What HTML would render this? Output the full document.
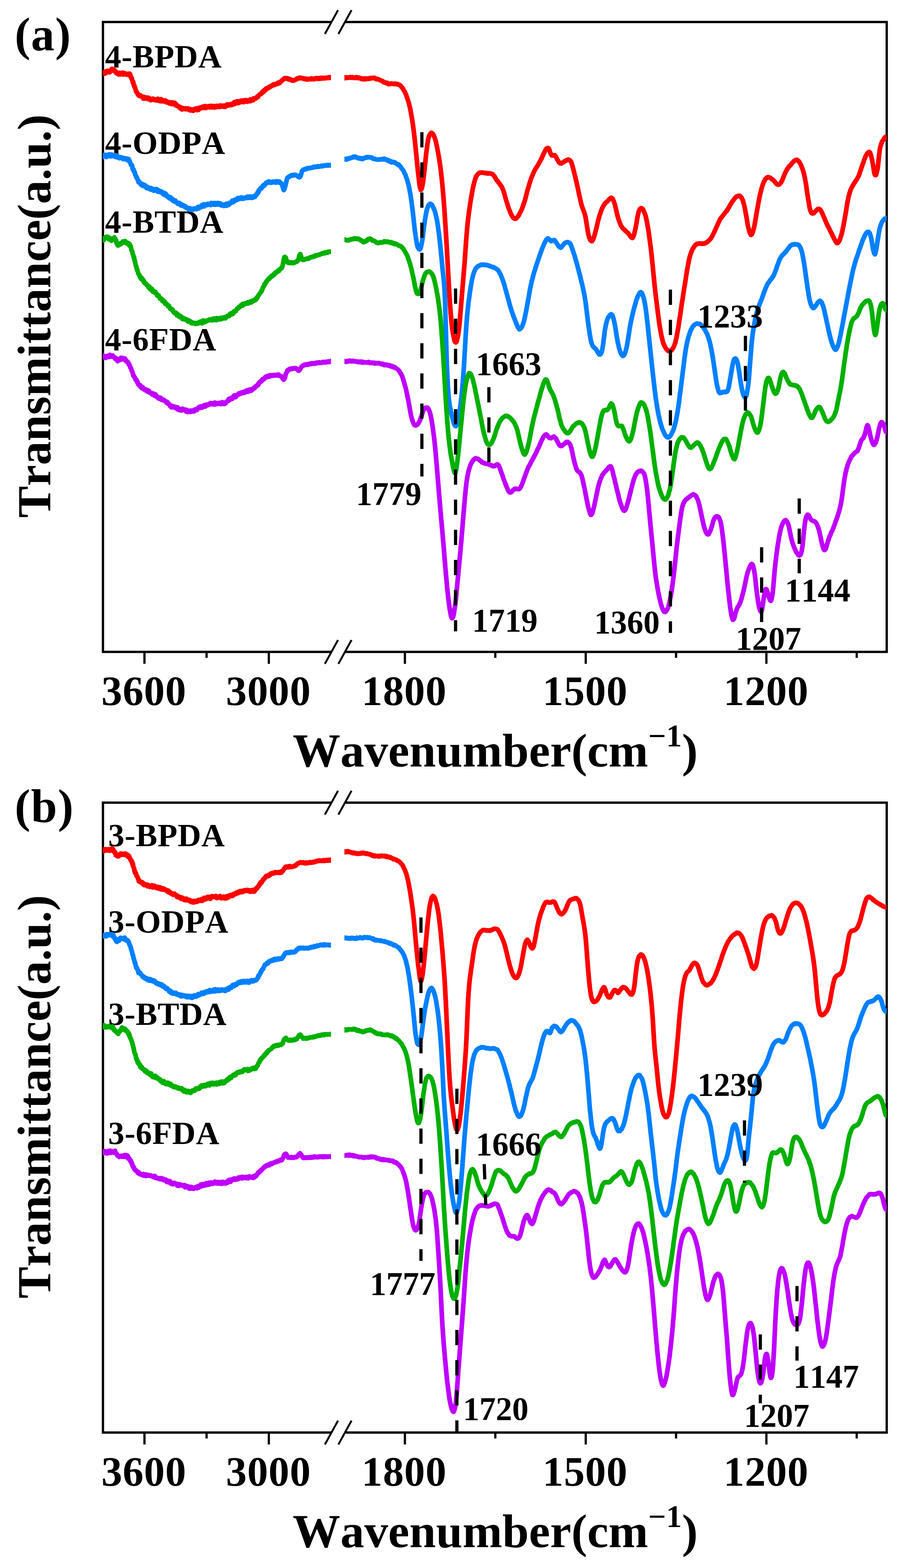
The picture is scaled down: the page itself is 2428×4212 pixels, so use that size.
<!DOCTYPE html>
<html lang="en">
<head>
<meta charset="utf-8">
<title>FTIR spectra</title>
<style>
html,body{margin:0;padding:0;background:#fff;}
body{width:2428px;height:4212px;overflow:hidden;}
svg{display:block;}
svg text{font-family:"Liberation Serif", "DejaVu Serif", serif;font-weight:bold;fill:#000;font-kerning:none;font-variant-ligatures:none;}
.c{fill:none;stroke-linejoin:round;stroke-linecap:butt;}
</style>
</head>
<body>
<svg width="2428" height="4212" viewBox="0 0 2428 4212" role="img" aria-label="FTIR spectra of polyimides, panels (a) and (b)">
<rect width="2428" height="4212" fill="#fff"/>
<g id="panel-a">
<text x="282" y="181" font-size="87" letter-spacing="0.75">4-BPDA</text>
<text x="282" y="412.5" font-size="87" letter-spacing="0.75">4-ODPA</text>
<text x="282" y="624.5" font-size="87" letter-spacing="0.75">4-BTDA</text>
<text x="282" y="941" font-size="87" letter-spacing="0.75">4-6FDA</text>
<path d="M889,59.2 H276.5 V1751.2 H889 M925,1751.2 H2381.6 V59.2 H925" fill="none" stroke="#000" stroke-width="6.2" stroke-linejoin="miter" stroke-linecap="butt"/>
<line x1="872.6" y1="91.2" x2="907.8" y2="27.2" stroke="#000" stroke-width="5.2"/>
<line x1="908.9" y1="91.2" x2="944.1" y2="27.2" stroke="#000" stroke-width="5.2"/>
<line x1="872.6" y1="1783.2" x2="907.8" y2="1719.2" stroke="#000" stroke-width="5.2"/>
<line x1="908.9" y1="1783.2" x2="944.1" y2="1719.2" stroke="#000" stroke-width="5.2"/>
<line x1="388" y1="1751.2" x2="388" y2="1783.2" stroke="#000" stroke-width="6"/>
<line x1="722" y1="1751.2" x2="722" y2="1783.2" stroke="#000" stroke-width="6"/>
<line x1="1087.5" y1="1751.2" x2="1087.5" y2="1783.2" stroke="#000" stroke-width="6"/>
<line x1="1573.2" y1="1751.2" x2="1573.2" y2="1783.2" stroke="#000" stroke-width="6"/>
<line x1="2058.4" y1="1751.2" x2="2058.4" y2="1783.2" stroke="#000" stroke-width="6"/>
<line x1="554.8" y1="1751.2" x2="554.8" y2="1767.2" stroke="#000" stroke-width="6"/>
<line x1="1330.3" y1="1751.2" x2="1330.3" y2="1767.2" stroke="#000" stroke-width="6"/>
<line x1="1815.8" y1="1751.2" x2="1815.8" y2="1767.2" stroke="#000" stroke-width="6"/>
<line x1="2301" y1="1751.2" x2="2301" y2="1767.2" stroke="#000" stroke-width="6"/>
<text x="386.6" y="1893.6" font-size="112" text-anchor="middle" letter-spacing="1.2">3600</text>
<text x="721.1" y="1893.6" font-size="112" text-anchor="middle" letter-spacing="1.2">3000</text>
<text x="1085.6" y="1893.6" font-size="112" text-anchor="middle" letter-spacing="1.2">1800</text>
<text x="1571.6" y="1893.6" font-size="112" text-anchor="middle" letter-spacing="1.2">1500</text>
<text x="2057.6" y="1893.6" font-size="112" text-anchor="middle" letter-spacing="1.2">1200</text>
<text x="786" y="2059" font-size="128" textLength="1088" lengthAdjust="spacing">Wavenumber(cm<tspan font-size="84" dy="-54">−1</tspan><tspan dy="54">)</tspan></text>
<text transform="translate(135,1391) rotate(-90)" font-size="128" textLength="1084" lengthAdjust="spacing">Transmittance(a.u.)</text>
<text x="39.5" y="135" font-size="126" text-anchor="start" letter-spacing="1.8">(a)</text>
<svg x="276" y="40" width="613" height="1730" viewBox="276 40 613 1730" overflow="hidden">
<path class="c" d="M269.0,191.5L270.0,193.9L271.0,195.5L272.0,195.2L273.0,192.7L274.0,196.6L275.0,195.9L276.0,196.1L277.0,196.4L278.0,196.0L279.0,197.5L280.0,193.9L281.0,195.1L282.0,197.8L283.0,192.3L284.0,194.9L285.0,193.5L286.0,193.9L287.0,194.2L288.0,190.3L289.0,191.1L290.0,190.3L291.0,192.0L292.0,191.3L293.0,194.6L294.0,191.0L295.0,194.1L296.0,190.8L297.0,191.6L298.0,190.2L299.0,188.4L300.0,185.0L301.0,185.7L302.0,185.2L303.0,185.5L304.0,187.7L305.0,187.9L306.0,190.2L307.0,190.0L308.0,188.6L309.0,192.3L310.0,191.1L311.0,192.7L312.0,196.4L313.0,194.4L314.0,194.9L315.0,197.1L316.0,197.7L317.0,199.2L318.0,196.3L319.0,200.0L320.0,197.2L321.0,195.6L322.0,196.1L323.0,199.7L324.0,199.2L325.0,199.4L326.0,196.0L327.0,197.1L328.0,195.6L329.0,194.9L330.0,197.6L331.0,200.1L332.0,199.3L333.0,196.3L334.0,199.4L335.0,197.1L336.0,198.2L337.0,199.4L338.0,197.8L339.0,197.7L340.0,200.5L341.0,199.3L342.0,198.6L343.0,200.9L344.0,199.1L345.0,200.2L346.0,197.9L347.0,200.2L348.0,197.8L349.0,200.2L350.0,199.8L351.0,207.2L352.0,207.8L353.0,211.0L354.0,209.9L355.0,215.5L356.0,217.4L357.0,222.2L358.0,220.6L359.0,226.9L360.0,230.9L361.0,230.1L362.0,235.4L363.0,235.8L364.0,240.5L365.0,243.2L366.0,247.2L367.0,247.4L368.0,248.0L369.0,251.0L370.0,251.6L371.0,254.9L372.0,253.4L373.0,257.1L374.0,255.9L375.0,256.7L376.0,258.2L377.0,256.1L378.0,256.5L379.0,258.8L380.0,258.7L381.0,259.8L382.0,259.3L383.0,260.3L384.0,262.6L385.0,264.9L386.0,259.9L387.0,264.9L388.0,263.7L389.0,264.7L390.0,263.8L391.0,262.5L392.0,263.6L393.0,262.8L394.0,261.7L395.0,265.1L396.0,265.9L397.0,264.4L398.0,265.3L399.0,262.6L400.0,266.7L401.0,264.8L402.0,265.1L403.0,266.5L404.0,265.2L405.0,269.3L406.0,268.3L407.0,268.4L408.0,266.9L409.0,265.3L410.0,267.4L411.0,264.9L412.0,266.5L413.0,267.2L414.0,268.7L415.0,267.8L416.0,267.5L417.0,269.1L418.0,267.0L419.0,266.7L420.0,266.4L421.0,270.0L422.0,267.6L423.0,266.6L424.0,265.3L425.0,267.0L426.0,269.2L427.0,269.8L428.0,271.5L429.0,267.7L430.0,270.2L431.0,271.0L432.0,266.2L433.0,272.2L434.0,267.8L435.0,268.1L436.0,271.6L437.0,270.6L438.0,272.5L439.0,271.7L440.0,271.6L441.0,271.1L442.0,270.4L443.0,272.8L444.0,269.6L445.0,272.6L446.0,274.6L447.0,271.7L448.0,275.1L449.0,275.3L450.0,274.6L451.0,274.1L452.0,275.5L453.0,275.8L454.0,274.6L455.0,277.9L456.0,277.8L457.0,277.2L458.0,278.5L459.0,279.2L460.0,274.9L461.0,279.8L462.0,274.9L463.0,277.9L464.0,275.8L465.0,278.9L466.0,278.4L467.0,278.5L468.0,275.8L469.0,280.6L470.0,280.2L471.0,277.6L472.0,283.3L473.0,280.9L474.0,280.9L475.0,283.8L476.0,283.1L477.0,285.2L478.0,284.7L479.0,284.8L480.0,285.3L481.0,288.6L482.0,287.9L483.0,286.9L484.0,288.0L485.0,287.9L486.0,292.7L487.0,291.2L488.0,291.8L489.0,294.1L490.0,290.4L491.0,290.3L492.0,291.7L493.0,292.8L494.0,291.7L495.0,291.6L496.0,292.7L497.0,292.1L498.0,290.9L499.0,293.7L500.0,292.0L501.0,292.2L502.0,293.3L503.0,293.4L504.0,291.0L505.0,292.2L506.0,291.5L507.0,292.4L508.0,295.3L509.0,293.7L510.0,293.1L511.0,293.0L512.0,296.8L513.0,294.0L514.0,295.2L515.0,294.9L516.0,294.2L517.0,296.3L518.0,296.0L519.0,297.8L520.0,296.6L521.0,293.6L522.0,295.0L523.0,294.7L524.0,294.7L525.0,292.5L526.0,291.2L527.0,293.4L528.0,293.7L529.0,291.3L530.0,295.9L531.0,293.5L532.0,291.4L533.0,295.3L534.0,289.7L535.0,289.9L536.0,289.0L537.0,292.1L538.0,289.1L539.0,291.2L540.0,290.0L541.0,288.2L542.0,289.4L543.0,287.0L544.0,289.9L545.0,286.2L546.0,286.2L547.0,288.4L548.0,286.4L549.0,290.2L550.0,289.6L551.0,284.8L552.0,288.0L553.0,287.1L554.0,290.2L555.0,286.4L556.0,286.2L557.0,286.9L558.0,286.9L559.0,285.2L560.0,287.0L561.0,285.8L562.0,285.2L563.0,288.7L564.0,286.4L565.0,284.5L566.0,284.4L567.0,286.2L568.0,284.9L569.0,284.4L570.0,288.6L571.0,286.1L572.0,285.2L573.0,286.1L574.0,285.0L575.0,285.7L576.0,289.0L577.0,285.6L578.0,285.5L579.0,284.9L580.0,288.1L581.0,286.7L582.0,287.9L583.0,284.2L584.0,286.0L585.0,286.4L586.0,287.0L587.0,286.3L588.0,285.3L589.0,287.5L590.0,285.6L591.0,283.2L592.0,283.7L593.0,285.5L594.0,286.2L595.0,283.7L596.0,283.9L597.0,286.2L598.0,285.8L599.0,285.9L600.0,286.6L601.0,285.1L602.0,283.4L603.0,286.5L604.0,286.0L605.0,287.2L606.0,285.2L607.0,284.1L608.0,283.9L609.0,284.0L610.0,280.3L611.0,282.8L612.0,281.9L613.0,283.4L614.0,283.0L615.0,281.9L616.0,281.6L617.0,280.1L618.0,282.4L619.0,280.9L620.0,280.0L621.0,282.5L622.0,281.9L623.0,279.3L624.0,281.8L625.0,280.0L626.0,278.4L627.0,276.9L628.0,276.1L629.0,278.7L630.0,273.9L631.0,279.5L632.0,277.2L633.0,275.0L634.0,277.2L635.0,274.7L636.0,272.3L637.0,273.2L638.0,272.3L639.0,272.2L640.0,277.2L641.0,274.6L642.0,274.1L643.0,275.5L644.0,275.1L645.0,272.9L646.0,271.8L647.0,270.4L648.0,273.9L649.0,272.1L650.0,273.4L651.0,271.9L652.0,269.8L653.0,271.1L654.0,274.4L655.0,271.6L656.0,272.6L657.0,269.3L658.0,270.4L659.0,272.7L660.0,268.9L661.0,272.6L662.0,269.9L663.0,270.1L664.0,273.1L665.0,270.2L666.0,272.4L667.0,269.8L668.0,271.0L669.0,272.1L670.0,271.8L671.0,269.7L672.0,267.1L673.0,271.7L674.0,268.2L675.0,270.4L676.0,267.1L677.0,267.5L678.0,267.6L679.0,267.1L680.0,269.3L681.0,264.1L682.0,265.4L683.0,266.1L684.0,265.4L685.0,264.3L686.0,264.3L687.0,264.8L688.0,262.1L689.0,261.4L690.0,261.2L691.0,261.6L692.0,258.2L693.0,260.9L694.0,257.3L695.0,256.3L696.0,255.7L697.0,253.9L698.0,253.3L699.0,252.9L700.0,253.3L701.0,252.9L702.0,250.1L703.0,249.6L704.0,249.7L705.0,246.0L706.0,247.2L707.0,247.3L708.0,247.0L709.0,244.0L710.0,241.6L711.0,241.5L712.0,242.8L713.0,242.6L714.0,239.6L715.0,237.2L716.0,238.3L717.0,238.1L718.0,237.4L719.0,236.0L720.0,236.9L721.0,234.8L722.0,236.2L723.0,232.7L724.0,234.9L725.0,234.2L726.0,233.5L727.0,231.4L728.0,231.5L729.0,230.1L730.0,230.7L731.0,230.5L732.0,230.2L733.0,227.9L734.0,227.9L735.0,226.2L736.0,227.5L737.0,226.2L738.0,228.1L739.0,226.3L740.0,227.0L741.0,225.8L742.0,226.0L743.0,225.4L744.0,223.9L745.0,225.4L746.0,223.4L747.0,224.9L748.0,221.5L749.0,222.3L750.0,223.3L751.0,223.0L752.0,219.9L753.0,220.7L754.0,219.9L755.0,219.1L756.0,217.6L757.0,215.8L758.0,215.7L759.0,215.2L760.0,214.7L761.0,213.0L762.0,211.5L763.0,212.1L764.0,210.1L765.0,209.9L766.0,209.5L767.0,209.9L767.5,209.9L768.0,211.3L769.0,210.4L770.0,210.9L771.0,210.1L772.0,210.0L773.0,210.9L774.0,211.2L775.0,213.4L776.0,213.5L777.0,213.3L778.0,213.1L779.0,212.5L780.0,213.6L781.0,213.6L782.0,213.9L783.0,215.0L784.0,216.2L785.0,216.4L786.0,215.4L787.0,215.7L787.5,216.1L788.0,215.5L789.0,216.7L790.0,216.0L791.0,215.3L792.0,215.0L793.0,213.9L794.0,213.6L795.0,213.9L796.0,213.2L797.0,212.1L798.0,210.7L799.0,212.3L800.0,210.9L801.0,210.6L802.0,209.1L803.0,209.8L804.0,209.7L805.0,209.5L806.0,210.1L807.0,208.4L808.0,210.6L809.0,209.5L810.0,209.5L811.0,209.9L812.0,210.4L813.0,210.3L814.0,210.0L815.0,211.0L816.0,212.1L817.0,211.7L818.0,211.2L819.0,212.4L820.0,212.4L821.0,211.6L822.0,213.0L823.0,211.5L824.0,212.9L825.0,213.8L826.0,212.0L827.0,212.5L828.0,212.2L829.0,213.3L830.0,211.7L831.0,211.8L832.0,212.1L833.0,212.4L834.0,212.1L835.0,211.0L836.0,210.7L837.0,212.7L838.0,212.0L839.0,212.3L840.0,211.5L841.0,212.0L842.0,213.1L843.0,211.1L844.0,211.7L845.0,210.8L846.0,212.4L847.0,211.4L848.0,210.5L849.0,209.9L850.0,210.9L851.0,210.8L852.0,210.5L853.0,211.7L854.0,210.1L855.0,211.4L856.0,211.8L857.0,210.5L858.0,211.4L859.0,211.8L860.0,209.7L861.0,210.0L862.0,209.4L863.0,210.3L864.0,211.1L865.0,208.8L866.0,209.7L867.0,211.0L868.0,209.4L869.0,210.0L870.0,210.1L871.0,209.3L872.0,210.3L873.0,209.7L874.0,209.2L875.0,209.0L876.0,210.0L877.0,209.2L878.0,208.5L879.0,208.7L880.0,209.2L881.0,209.3L882.0,208.0L883.0,209.5L884.0,207.9L885.0,207.4L886.0,208.2L887.0,208.7L888.0,209.1L889.0,207.8L890.0,208.3L891.0,209.5L892.0,209.0L893.0,210.0L894.0,209.9L895.0,208.7L896.0,209.4" stroke="#FF0000" stroke-width="12.5"/>
<path class="c" d="M269.0,417.6L270.0,416.7L271.0,420.8L272.0,421.5L273.0,419.8L274.0,420.3L275.0,422.4L276.0,421.1L277.0,420.2L278.0,420.0L279.0,417.1L280.0,419.7L281.0,416.2L282.0,418.3L283.0,418.3L284.0,415.8L285.0,418.7L286.0,422.0L287.0,418.6L288.0,417.0L289.0,418.3L290.0,418.8L291.0,417.6L292.0,417.0L293.0,414.3L294.0,417.3L295.0,417.4L296.0,419.1L297.0,420.3L298.0,418.9L299.0,415.0L300.0,415.1L301.0,415.6L302.0,417.7L303.0,416.5L304.0,419.5L305.0,418.3L306.0,418.6L307.0,419.4L308.0,419.3L309.0,417.1L310.0,421.6L311.0,421.9L312.0,422.3L313.0,419.1L314.0,418.0L315.0,418.5L316.0,419.0L317.0,422.9L318.0,423.0L319.0,424.4L320.0,425.1L321.0,423.0L322.0,423.2L323.0,422.9L324.0,423.5L325.0,422.2L326.0,424.6L327.0,425.1L328.0,424.2L329.0,424.0L330.0,426.2L331.0,427.6L332.0,425.8L333.0,426.3L334.0,424.7L335.0,425.7L336.0,426.0L337.0,425.9L338.0,425.4L339.0,427.3L340.0,429.3L341.0,426.3L342.0,430.1L343.0,427.6L344.0,428.6L345.0,427.0L346.0,428.2L347.0,433.3L348.0,432.2L349.0,437.0L350.0,437.4L351.0,439.9L352.0,443.8L353.0,443.6L354.0,443.2L355.0,445.4L356.0,452.3L357.0,456.1L357.5,453.6L358.0,454.4L359.0,455.9L360.0,461.4L361.0,460.4L362.0,463.8L363.0,468.4L364.0,470.9L365.0,472.3L366.0,476.4L367.0,475.5L368.0,477.7L369.0,480.8L370.0,483.4L371.0,484.7L372.0,489.7L372.5,486.2L373.0,488.6L374.0,488.0L375.0,490.4L376.0,490.6L377.0,491.5L378.0,495.4L379.0,493.3L380.0,497.4L381.0,494.1L382.0,495.7L383.0,499.2L384.0,494.9L385.0,495.6L386.0,498.8L387.0,500.0L388.0,500.5L389.0,499.4L390.0,497.6L391.0,502.2L392.0,502.4L392.5,500.1L393.0,502.2L394.0,505.6L395.0,503.7L396.0,501.8L397.0,503.3L398.0,503.7L399.0,505.6L400.0,506.7L401.0,504.4L402.0,504.9L403.0,508.2L404.0,508.3L405.0,509.6L406.0,505.2L407.0,506.7L408.0,510.0L409.0,506.9L410.0,509.0L411.0,509.1L412.0,508.1L413.0,512.4L414.0,510.3L415.0,509.1L416.0,510.3L417.0,511.4L418.0,507.9L419.0,509.4L420.0,508.5L421.0,507.9L422.0,513.5L423.0,514.6L424.0,514.8L425.0,510.8L426.0,514.6L427.0,515.5L428.0,513.7L429.0,516.0L430.0,513.1L431.0,513.4L432.0,514.1L433.0,514.7L434.0,514.6L435.0,518.7L436.0,516.2L437.0,517.7L438.0,517.9L439.0,522.1L440.0,517.8L441.0,521.0L442.0,523.6L443.0,519.0L444.0,519.9L445.0,521.6L446.0,521.3L447.0,526.7L448.0,524.2L449.0,528.0L450.0,528.1L451.0,528.0L452.0,530.4L453.0,529.0L454.0,532.0L455.0,529.2L456.0,530.0L457.0,533.8L458.0,529.8L459.0,534.1L460.0,533.3L461.0,533.8L462.0,534.2L463.0,538.2L464.0,534.8L465.0,539.3L466.0,539.3L467.0,538.6L468.0,539.7L469.0,541.8L470.0,540.1L471.0,538.6L472.0,542.4L473.0,541.4L474.0,542.7L475.0,543.7L476.0,544.9L477.0,547.4L478.0,545.8L479.0,546.0L480.0,547.9L481.0,547.2L482.0,544.9L483.0,547.6L484.0,547.2L485.0,550.8L486.0,551.9L487.0,550.7L488.0,548.9L489.0,552.6L490.0,550.4L491.0,553.2L492.0,551.3L493.0,551.3L494.0,552.2L495.0,554.9L496.0,553.7L497.0,556.0L498.0,553.7L499.0,557.0L500.0,556.0L501.0,559.0L502.0,559.7L503.0,558.2L504.0,559.1L505.0,559.7L506.0,560.6L507.0,559.8L508.0,562.9L509.0,560.7L510.0,559.0L511.0,562.7L512.0,562.5L513.0,564.1L514.0,563.6L515.0,562.9L516.0,563.1L517.0,563.6L517.5,562.4L518.0,561.0L519.0,561.4L520.0,562.9L521.0,559.9L522.0,561.6L523.0,560.4L524.0,561.0L525.0,559.5L526.0,560.9L527.0,559.9L528.0,561.8L529.0,558.7L530.0,558.4L531.0,558.7L532.0,555.6L533.0,556.2L534.0,560.0L535.0,557.7L536.0,556.6L537.0,557.9L538.0,555.7L539.0,555.4L540.0,554.9L541.0,551.4L542.0,555.6L543.0,553.4L544.0,552.9L545.0,551.5L546.0,550.4L547.0,548.4L548.0,551.7L549.0,554.4L550.0,553.0L551.0,550.9L552.0,549.7L553.0,551.1L554.0,551.0L555.0,549.9L556.0,550.6L557.0,547.5L558.0,550.5L559.0,548.9L560.0,547.9L561.0,548.4L562.0,549.3L563.0,550.0L564.0,548.7L565.0,549.5L566.0,551.0L567.0,545.4L568.0,545.4L569.0,548.5L570.0,546.8L571.0,548.5L572.0,545.4L573.0,548.7L574.0,550.0L575.0,549.2L576.0,545.5L577.0,546.4L578.0,548.6L579.0,550.1L580.0,545.6L581.0,546.1L582.0,549.2L583.0,546.9L584.0,546.6L585.0,549.4L586.0,545.0L587.0,546.4L588.0,549.3L589.0,546.9L590.0,549.1L591.0,545.9L592.0,549.5L593.0,549.2L594.0,551.7L595.0,549.0L596.0,549.0L597.0,550.0L598.0,552.1L599.0,549.4L600.0,550.7L601.0,553.3L602.0,551.1L603.0,551.4L604.0,548.9L605.0,551.6L606.0,548.1L607.0,547.6L608.0,548.4L609.0,552.7L610.0,550.7L611.0,548.5L612.0,548.6L613.0,549.7L614.0,550.5L615.0,545.3L616.0,549.1L617.0,547.7L618.0,544.8L619.0,544.5L620.0,545.1L621.0,543.0L622.0,543.5L623.0,540.7L624.0,538.7L625.0,543.8L626.0,540.7L627.0,540.6L628.0,540.6L629.0,541.4L630.0,540.3L631.0,536.5L632.0,537.4L633.0,537.3L634.0,537.6L635.0,534.9L636.0,535.9L637.0,535.6L638.0,536.9L639.0,531.8L640.0,534.1L641.0,534.6L642.0,534.6L643.0,533.5L644.0,532.0L645.0,534.1L646.0,533.5L647.0,531.4L648.0,530.1L649.0,533.1L650.0,530.9L651.0,532.9L652.0,534.2L653.0,531.8L654.0,531.9L655.0,531.6L656.0,533.1L657.0,533.0L658.0,531.0L659.0,531.9L660.0,530.7L661.0,530.1L662.0,531.8L663.0,530.4L664.0,529.0L665.0,528.1L666.0,531.5L667.0,528.8L668.0,528.7L669.0,529.8L670.0,531.4L671.0,527.8L672.0,530.8L673.0,530.6L674.0,528.4L675.0,528.2L676.0,529.3L677.0,531.8L678.0,529.0L679.0,531.1L680.0,530.8L681.0,527.4L682.0,528.8L683.0,529.6L684.0,527.2L685.0,528.7L686.0,524.7L687.0,523.3L688.0,523.3L689.0,523.4L690.0,520.9L691.0,520.9L692.0,516.6L693.0,515.9L694.0,516.8L695.0,511.1L696.0,512.3L697.0,509.6L698.0,508.5L699.0,507.7L700.0,505.1L701.0,507.0L702.0,505.5L703.0,505.4L704.0,502.9L705.0,500.4L706.0,501.2L707.0,497.7L708.0,497.0L709.0,499.4L710.0,497.5L711.0,495.5L712.0,496.0L713.0,492.9L714.0,493.1L715.0,490.7L716.0,490.5L717.0,490.3L718.0,491.5L719.0,488.7L720.0,490.5L721.0,489.4L722.0,487.5L723.0,487.4L724.0,488.5L725.0,490.5L726.0,489.5L727.0,491.0L728.0,489.4L729.0,490.8L730.0,489.3L731.0,488.1L732.0,489.9L733.0,488.5L734.0,487.8L735.0,488.2L736.0,488.5L737.0,489.4L738.0,490.2L739.0,489.7L740.0,490.6L741.0,487.0L742.0,488.5L743.0,490.3L744.0,488.1L745.0,487.1L746.0,487.7L747.0,487.7L748.0,488.3L749.0,490.5L750.0,487.5L751.0,488.5L752.0,490.8L753.0,490.4L754.0,491.3L755.0,491.6L756.0,494.2L757.0,494.1L758.0,498.1L759.0,500.8L760.0,504.5L761.0,507.5L762.0,510.8L762.5,510.4L763.0,509.5L764.0,507.6L765.0,503.3L766.0,501.1L767.0,496.9L768.0,492.8L769.0,488.4L770.0,484.4L771.0,479.3L772.0,477.6L772.5,476.8L773.0,476.7L774.0,476.7L775.0,475.4L776.0,474.6L777.0,475.3L778.0,473.7L779.0,473.1L780.0,471.7L781.0,471.6L782.0,472.0L783.0,472.0L784.0,470.3L785.0,471.2L786.0,471.2L787.0,470.3L788.0,470.6L789.0,471.4L790.0,470.0L791.0,469.4L792.0,470.2L793.0,469.7L794.0,470.0L795.0,470.5L796.0,470.8L797.0,470.9L798.0,472.4L799.0,472.7L800.0,474.0L801.0,474.8L802.0,475.5L803.0,475.6L804.0,476.4L805.0,476.0L806.0,475.5L807.0,473.7L808.0,471.1L809.0,466.7L810.0,463.6L811.0,459.5L812.0,458.3L812.5,458.6L813.0,457.7L814.0,456.0L815.0,456.7L816.0,456.2L817.0,455.1L818.0,454.2L819.0,454.4L820.0,453.9L821.0,454.7L822.0,454.0L823.0,453.7L824.0,453.8L825.0,451.6L826.0,452.3L827.0,452.2L828.0,451.4L829.0,451.4L830.0,451.2L831.0,451.7L832.0,451.4L833.0,452.0L834.0,451.6L835.0,451.3L836.0,451.0L837.0,450.1L838.0,450.3L839.0,450.6L840.0,450.1L841.0,448.8L842.0,448.3L843.0,449.4L844.0,448.9L845.0,448.6L846.0,447.8L847.0,448.8L848.0,448.5L849.0,447.8L850.0,448.3L851.0,447.2L852.0,447.7L853.0,446.3L854.0,447.2L855.0,448.3L856.0,447.5L857.0,447.9L858.0,447.0L859.0,446.8L860.0,446.6L861.0,446.0L862.0,446.5L863.0,445.4L864.0,445.9L865.0,446.8L866.0,445.7L867.0,445.1L868.0,445.8L869.0,445.5L870.0,445.0L871.0,444.3L872.0,444.9L873.0,444.6L874.0,444.6L875.0,444.7L876.0,444.6L877.0,443.7L878.0,444.5L879.0,444.5L880.0,443.1L881.0,444.4L882.0,444.2L883.0,444.5L884.0,443.6L885.0,444.0L886.0,444.0L887.0,443.4L888.0,444.5L889.0,444.1L890.0,444.6L891.0,443.5L892.0,443.5L893.0,443.7L894.0,443.4L895.0,444.3L896.0,445.1" stroke="#0080FF" stroke-width="12.5"/>
<path class="c" d="M269.0,639.2L270.0,641.5L271.0,640.7L272.0,638.0L273.0,639.5L274.0,642.8L275.0,641.8L276.0,644.2L277.0,639.9L278.0,645.3L279.0,644.8L280.0,639.4L281.0,640.1L282.0,638.8L283.0,637.7L284.0,639.1L285.0,636.7L286.0,635.9L287.0,638.0L287.5,639.0L288.0,636.4L289.0,638.2L290.0,636.1L291.0,640.6L292.0,642.5L293.0,641.5L294.0,641.6L295.0,639.5L296.0,642.8L297.0,641.0L298.0,645.4L299.0,646.8L300.0,646.0L301.0,643.8L302.0,643.9L303.0,641.2L304.0,642.0L305.0,641.4L306.0,640.4L307.0,637.5L307.5,640.9L308.0,641.2L309.0,640.4L310.0,643.8L311.0,646.7L312.0,645.5L313.0,653.1L314.0,653.4L315.0,655.1L316.0,659.2L317.0,658.8L317.5,659.5L318.0,658.5L319.0,658.2L320.0,657.1L321.0,657.0L322.0,655.1L323.0,653.5L324.0,656.5L325.0,653.6L326.0,653.8L327.0,654.4L328.0,652.1L329.0,650.4L330.0,648.5L331.0,651.2L332.0,650.8L333.0,651.4L334.0,650.0L335.0,649.5L336.0,647.4L337.0,651.7L338.0,649.0L339.0,651.1L340.0,653.4L341.0,653.2L342.0,653.5L343.0,655.1L344.0,652.4L345.0,655.9L346.0,658.2L347.0,659.0L347.5,655.1L348.0,659.9L349.0,660.7L350.0,659.6L351.0,661.3L352.0,666.7L353.0,672.2L354.0,673.8L355.0,674.3L356.0,679.1L357.0,684.3L357.5,684.4L358.0,685.8L359.0,690.4L360.0,690.5L361.0,698.0L362.0,699.4L363.0,705.7L364.0,710.4L365.0,713.1L366.0,716.1L367.0,720.2L368.0,725.6L369.0,725.0L370.0,728.6L371.0,733.0L372.0,735.9L373.0,737.0L374.0,738.3L375.0,742.3L376.0,742.0L377.0,746.7L378.0,747.1L379.0,749.3L380.0,745.8L381.0,748.0L382.0,749.5L383.0,749.2L384.0,751.5L385.0,755.8L386.0,753.8L387.0,756.1L388.0,760.3L389.0,759.8L390.0,761.0L391.0,762.0L392.0,761.5L393.0,763.2L394.0,765.4L395.0,765.0L396.0,767.1L397.0,767.3L398.0,768.4L399.0,772.4L400.0,771.7L401.0,769.8L402.0,772.4L403.0,776.7L404.0,777.9L405.0,774.0L406.0,777.6L407.0,777.8L408.0,775.8L409.0,780.1L410.0,783.5L411.0,780.1L412.0,781.9L413.0,784.7L414.0,783.3L415.0,784.1L416.0,785.7L417.0,783.4L418.0,788.0L419.0,785.9L420.0,789.1L421.0,791.4L422.0,794.2L423.0,791.7L424.0,794.4L425.0,795.3L426.0,793.3L427.0,797.2L428.0,798.8L429.0,799.8L430.0,802.5L431.0,800.9L432.0,801.4L433.0,802.0L434.0,803.1L435.0,805.0L436.0,808.7L437.0,805.5L438.0,808.3L439.0,807.0L440.0,808.0L441.0,812.1L442.0,809.7L443.0,813.8L444.0,816.4L445.0,814.0L446.0,815.0L447.0,817.3L448.0,817.1L449.0,818.9L450.0,818.7L451.0,822.6L452.0,822.8L453.0,822.9L454.0,821.6L455.0,824.7L456.0,827.1L457.0,829.1L458.0,827.6L459.0,830.1L460.0,831.5L461.0,829.9L462.0,833.2L463.0,832.8L464.0,832.2L465.0,835.2L466.0,838.5L467.0,838.5L468.0,839.3L469.0,841.2L470.0,841.6L471.0,842.1L472.0,839.8L473.0,840.9L474.0,841.5L475.0,847.0L476.0,846.3L477.0,843.8L478.0,848.1L479.0,845.1L480.0,848.3L481.0,850.3L482.0,849.7L483.0,851.7L484.0,852.0L485.0,848.7L486.0,851.9L487.0,853.6L488.0,852.8L489.0,852.1L490.0,857.0L491.0,855.7L492.0,854.8L493.0,854.6L494.0,856.0L495.0,858.0L496.0,855.5L497.0,857.9L498.0,858.3L499.0,857.8L500.0,859.0L501.0,860.0L502.0,859.2L503.0,858.6L504.0,862.7L505.0,864.0L506.0,862.9L507.0,861.2L508.0,863.2L509.0,862.6L510.0,862.1L511.0,863.1L512.0,864.4L513.0,867.0L514.0,864.9L515.0,868.4L516.0,866.8L517.0,868.8L518.0,868.5L519.0,867.5L520.0,867.6L521.0,867.2L522.0,867.3L523.0,868.1L524.0,870.1L525.0,868.8L526.0,870.3L527.0,869.5L528.0,867.8L529.0,869.3L530.0,869.4L531.0,869.5L532.0,867.0L533.0,868.7L534.0,865.5L535.0,866.0L536.0,867.3L537.0,866.2L538.0,864.6L539.0,863.6L540.0,865.0L541.0,864.5L542.0,868.5L543.0,863.5L544.0,862.4L545.0,866.9L546.0,860.8L547.0,862.2L548.0,863.6L549.0,862.3L550.0,862.6L551.0,864.3L552.0,864.9L553.0,862.2L554.0,862.6L555.0,861.3L556.0,861.0L557.0,860.7L558.0,861.6L559.0,860.1L560.0,861.1L561.0,859.3L562.0,858.2L563.0,859.2L564.0,859.3L565.0,859.2L566.0,859.2L567.0,860.3L568.0,857.3L569.0,860.6L570.0,857.9L571.0,858.6L572.0,860.1L573.0,859.4L574.0,855.5L575.0,858.6L576.0,859.9L577.0,856.0L578.0,856.6L579.0,859.6L580.0,855.3L581.0,860.0L582.0,854.6L583.0,855.9L584.0,855.9L585.0,856.6L586.0,858.3L587.0,858.0L588.0,857.4L589.0,857.7L590.0,854.4L591.0,856.0L592.0,857.8L593.0,854.0L594.0,857.4L595.0,855.1L596.0,853.3L597.0,856.3L598.0,856.1L599.0,853.5L600.0,854.0L601.0,853.8L602.0,853.5L603.0,851.6L604.0,852.2L605.0,855.2L606.0,851.9L607.0,852.4L608.0,852.5L609.0,851.4L610.0,849.7L611.0,849.0L612.0,848.0L613.0,849.2L614.0,847.3L615.0,848.2L616.0,848.8L617.0,846.3L618.0,842.7L619.0,844.8L620.0,843.1L621.0,842.3L622.0,841.2L623.0,841.5L624.0,844.3L625.0,843.3L626.0,842.6L627.0,837.3L628.0,838.5L629.0,839.0L630.0,835.6L631.0,836.2L632.0,836.1L633.0,836.1L634.0,833.8L635.0,832.5L636.0,830.7L637.0,829.0L638.0,828.8L639.0,827.7L640.0,828.2L641.0,825.7L642.0,824.1L643.0,826.1L644.0,823.0L645.0,823.5L646.0,822.5L647.0,819.9L648.0,820.5L649.0,819.9L650.0,818.1L651.0,816.5L652.0,821.0L653.0,816.3L654.0,816.7L655.0,816.4L656.0,816.6L657.0,817.2L658.0,816.6L659.0,814.4L660.0,815.8L661.0,815.6L662.0,813.9L663.0,815.6L664.0,813.9L665.0,814.6L666.0,811.7L667.0,815.3L668.0,812.7L669.0,811.6L670.0,811.6L671.0,811.6L672.0,813.1L673.0,809.5L674.0,810.0L675.0,812.4L676.0,811.8L677.0,808.1L678.0,809.2L679.0,808.7L680.0,807.8L681.0,807.1L682.0,808.2L683.0,806.0L684.0,806.2L685.0,806.7L686.0,803.3L687.0,802.2L688.0,804.1L689.0,799.8L690.0,801.4L691.0,800.0L692.0,797.0L693.0,795.1L694.0,794.0L695.0,791.8L696.0,791.2L697.0,789.7L698.0,787.9L699.0,786.3L700.0,786.1L701.0,783.4L702.0,781.5L703.0,782.0L704.0,777.4L705.0,776.0L706.0,772.6L707.0,770.6L708.0,770.4L709.0,768.6L710.0,763.4L711.0,764.9L712.0,763.1L713.0,760.4L714.0,759.6L715.0,756.5L716.0,757.0L717.0,753.7L718.0,753.5L719.0,752.1L720.0,751.6L721.0,748.8L722.0,749.1L723.0,748.4L724.0,748.3L725.0,745.6L726.0,745.7L727.0,743.6L728.0,743.9L729.0,742.0L730.0,740.4L731.0,740.4L732.0,741.5L733.0,740.8L734.0,738.7L735.0,737.9L736.0,737.1L737.0,734.5L737.5,737.1L738.0,733.9L739.0,732.6L740.0,732.8L741.0,731.4L742.0,732.0L743.0,731.6L744.0,729.8L745.0,729.6L746.0,728.4L747.0,726.7L748.0,726.2L749.0,728.4L750.0,726.0L751.0,723.6L752.0,723.2L753.0,722.3L754.0,722.5L755.0,720.9L756.0,720.5L757.0,719.4L757.5,717.8L758.0,716.9L759.0,714.3L760.0,708.4L761.0,703.4L762.0,697.3L763.0,694.9L764.0,690.3L765.0,690.1L766.0,691.9L767.0,691.1L768.0,694.4L769.0,697.0L770.0,699.8L771.0,703.6L772.0,703.6L772.5,705.2L773.0,705.3L774.0,706.1L775.0,704.2L776.0,704.8L777.0,706.5L778.0,704.3L779.0,705.7L780.0,706.5L781.0,704.8L782.0,705.1L783.0,706.3L784.0,704.9L785.0,706.5L786.0,706.9L787.0,706.0L787.5,705.7L788.0,705.6L789.0,705.3L790.0,706.2L791.0,705.7L792.0,704.9L793.0,704.8L794.0,703.5L795.0,703.2L796.0,702.0L797.0,701.9L798.0,702.4L799.0,701.2L800.0,699.9L801.0,698.0L802.0,694.6L803.0,691.5L804.0,686.1L805.0,684.6L806.0,683.1L807.0,682.6L808.0,686.3L809.0,689.9L810.0,692.4L811.0,696.8L812.0,696.9L812.5,697.4L813.0,698.0L814.0,698.1L815.0,697.5L816.0,698.2L817.0,696.9L818.0,697.5L819.0,696.7L820.0,696.5L821.0,695.7L822.0,696.0L823.0,694.8L824.0,694.7L825.0,695.1L826.0,695.4L827.0,693.9L828.0,694.5L829.0,695.0L830.0,693.7L831.0,693.3L832.0,692.7L833.0,691.4L834.0,691.9L835.0,691.5L836.0,690.5L837.0,690.9L838.0,690.0L839.0,690.5L840.0,689.8L841.0,689.5L842.0,689.5L843.0,688.7L844.0,689.5L845.0,687.3L846.0,687.0L847.0,687.1L848.0,686.9L849.0,685.5L850.0,686.8L851.0,685.6L852.0,686.0L853.0,685.1L854.0,684.8L855.0,685.0L856.0,684.3L857.0,684.0L858.0,684.3L859.0,684.1L860.0,683.1L861.0,683.0L862.0,682.0L863.0,682.3L864.0,681.0L865.0,681.4L866.0,680.3L867.0,680.9L868.0,680.9L869.0,680.2L870.0,679.0L871.0,680.7L872.0,679.0L873.0,678.1L874.0,680.0L875.0,678.4L876.0,678.7L877.0,678.4L878.0,679.1L879.0,678.9L880.0,676.5L881.0,677.6L882.0,676.4L883.0,677.0L884.0,676.6L885.0,676.4L886.0,675.4L887.0,676.5L888.0,676.5L889.0,676.5L890.0,677.2L891.0,676.1L892.0,676.2L893.0,677.5L894.0,676.9L895.0,678.5L896.0,678.5" stroke="#00B000" stroke-width="12.5"/>
<path class="c" d="M269.0,958.0L270.0,954.7L271.0,958.4L272.0,956.3L273.0,959.7L274.0,955.7L275.0,957.4L276.0,957.5L277.0,955.4L278.0,959.8L279.0,955.8L280.0,956.5L281.0,957.8L282.0,959.3L283.0,957.3L284.0,961.4L285.0,958.0L286.0,957.4L287.0,958.4L288.0,957.2L289.0,955.8L290.0,955.9L291.0,957.1L292.0,959.1L293.0,956.7L294.0,956.8L295.0,953.1L296.0,955.3L297.0,955.2L298.0,958.0L299.0,958.0L300.0,955.7L301.0,956.0L302.0,955.4L303.0,955.2L304.0,957.4L305.0,957.4L306.0,959.3L307.0,960.8L308.0,960.7L309.0,963.9L310.0,961.1L311.0,963.7L312.0,965.5L313.0,963.3L314.0,967.6L315.0,968.4L316.0,970.3L317.0,967.1L317.5,968.1L318.0,968.0L319.0,963.9L320.0,967.1L321.0,964.0L322.0,966.3L323.0,966.8L324.0,965.5L325.0,961.0L326.0,965.5L327.0,963.2L328.0,964.1L329.0,961.4L330.0,961.9L331.0,965.6L332.0,963.3L333.0,963.7L334.0,964.2L335.0,966.9L336.0,963.2L337.0,966.3L338.0,966.2L339.0,971.1L340.0,970.9L341.0,970.4L342.0,972.0L343.0,972.7L344.0,973.2L345.0,975.1L346.0,979.3L347.0,977.9L348.0,980.2L349.0,983.3L350.0,987.4L351.0,988.5L352.0,989.1L353.0,994.0L354.0,996.5L355.0,997.3L356.0,1000.6L357.0,1005.0L357.5,1005.1L358.0,1009.3L359.0,1009.5L360.0,1010.2L361.0,1013.1L362.0,1013.8L363.0,1015.8L364.0,1019.9L365.0,1020.4L366.0,1019.6L367.0,1022.1L368.0,1026.1L369.0,1024.8L370.0,1028.3L371.0,1032.3L372.0,1031.8L373.0,1032.8L374.0,1033.5L375.0,1037.1L376.0,1035.3L377.0,1035.0L378.0,1037.9L379.0,1041.0L380.0,1040.0L381.0,1042.8L382.0,1042.9L383.0,1039.7L384.0,1042.4L385.0,1042.8L386.0,1043.9L387.0,1046.2L388.0,1047.2L389.0,1046.8L390.0,1048.3L391.0,1046.2L392.0,1049.0L393.0,1046.4L394.0,1048.1L395.0,1047.2L396.0,1052.0L397.0,1049.6L398.0,1051.8L399.0,1048.9L400.0,1052.2L401.0,1053.9L402.0,1053.6L403.0,1054.1L404.0,1055.3L405.0,1055.7L406.0,1055.9L407.0,1055.6L408.0,1059.3L409.0,1057.7L410.0,1058.9L411.0,1059.5L412.0,1057.6L413.0,1057.4L414.0,1058.1L415.0,1063.3L416.0,1061.2L417.0,1063.1L418.0,1059.6L419.0,1062.2L420.0,1064.3L421.0,1063.7L422.0,1067.3L423.0,1065.6L424.0,1066.8L425.0,1069.1L426.0,1070.5L427.0,1068.7L428.0,1067.9L429.0,1068.7L430.0,1071.5L431.0,1068.3L432.0,1069.3L433.0,1070.3L434.0,1074.3L435.0,1074.1L436.0,1072.4L437.0,1073.4L438.0,1075.1L439.0,1074.6L440.0,1073.9L441.0,1075.0L442.0,1076.6L443.0,1076.7L444.0,1077.8L445.0,1078.2L446.0,1078.8L447.0,1081.9L448.0,1082.4L449.0,1079.5L450.0,1083.7L451.0,1083.3L452.0,1082.8L453.0,1086.0L454.0,1086.2L455.0,1087.8L456.0,1086.7L457.0,1091.1L458.0,1090.1L459.0,1089.4L460.0,1094.3L461.0,1090.1L462.0,1093.9L463.0,1091.5L464.0,1091.6L465.0,1091.8L466.0,1091.5L467.0,1091.8L468.0,1094.8L469.0,1094.5L470.0,1092.5L471.0,1095.7L472.0,1093.3L473.0,1097.2L474.0,1095.8L475.0,1095.7L476.0,1098.6L477.0,1094.3L478.0,1100.6L479.0,1100.9L480.0,1099.8L481.0,1099.6L482.0,1098.9L483.0,1101.8L484.0,1100.0L485.0,1099.9L486.0,1099.2L487.0,1102.8L488.0,1102.1L489.0,1098.1L490.0,1100.3L491.0,1098.1L492.0,1101.6L493.0,1099.0L494.0,1100.5L495.0,1101.7L496.0,1101.2L497.0,1100.2L498.0,1101.8L499.0,1101.1L500.0,1105.7L501.0,1105.4L502.0,1101.2L503.0,1102.2L504.0,1107.0L505.0,1105.4L506.0,1103.6L507.0,1105.6L508.0,1104.5L509.0,1105.5L510.0,1103.5L511.0,1106.6L512.0,1104.8L512.5,1102.8L513.0,1104.4L514.0,1104.4L515.0,1105.3L516.0,1104.6L517.0,1104.2L518.0,1102.4L519.0,1103.9L520.0,1102.4L521.0,1105.3L522.0,1100.5L523.0,1102.0L524.0,1101.3L525.0,1099.9L526.0,1101.4L527.0,1100.8L528.0,1100.1L529.0,1101.6L530.0,1097.2L531.0,1098.3L532.0,1097.1L533.0,1096.7L534.0,1093.5L535.0,1093.1L536.0,1095.8L537.0,1092.3L538.0,1095.2L539.0,1095.7L540.0,1091.6L541.0,1093.0L542.0,1092.4L543.0,1094.2L544.0,1094.3L545.0,1092.4L546.0,1092.0L547.0,1092.7L548.0,1088.6L549.0,1089.6L550.0,1091.0L551.0,1088.3L552.0,1091.7L553.0,1087.2L554.0,1088.4L555.0,1088.5L556.0,1089.2L557.0,1086.5L558.0,1087.3L559.0,1088.1L560.0,1087.4L561.0,1087.7L562.0,1085.4L563.0,1084.5L564.0,1083.2L565.0,1083.5L566.0,1084.5L567.0,1082.8L568.0,1084.2L569.0,1085.9L570.0,1083.7L571.0,1086.0L572.0,1085.5L573.0,1084.1L574.0,1084.8L575.0,1085.2L576.0,1081.6L577.0,1086.7L578.0,1081.6L579.0,1085.0L580.0,1083.8L581.0,1084.2L582.0,1085.5L583.0,1084.4L584.0,1084.3L585.0,1084.5L586.0,1083.0L587.0,1084.6L588.0,1082.5L589.0,1084.8L590.0,1082.0L591.0,1084.4L592.0,1082.7L593.0,1085.7L594.0,1081.7L595.0,1084.7L596.0,1082.1L597.0,1080.1L598.0,1085.0L599.0,1084.1L600.0,1085.3L601.0,1082.0L602.0,1083.8L603.0,1085.0L604.0,1082.6L605.0,1084.3L606.0,1081.0L607.0,1082.6L608.0,1079.0L609.0,1078.8L610.0,1078.2L611.0,1078.1L612.0,1077.5L613.0,1077.4L614.0,1071.9L615.0,1074.5L616.0,1072.7L617.0,1070.5L618.0,1071.2L619.0,1073.4L620.0,1072.1L621.0,1068.8L622.0,1069.7L623.0,1069.0L624.0,1071.3L625.0,1067.8L626.0,1066.2L627.0,1066.6L628.0,1063.0L629.0,1065.6L630.0,1066.5L631.0,1065.1L632.0,1061.5L633.0,1067.2L634.0,1064.8L635.0,1062.9L636.0,1061.7L637.0,1062.5L638.0,1060.7L639.0,1059.8L640.0,1059.8L641.0,1056.8L642.0,1059.5L643.0,1056.5L644.0,1058.3L645.0,1058.4L646.0,1057.1L647.0,1057.2L648.0,1055.3L649.0,1053.9L650.0,1056.6L651.0,1054.8L652.0,1053.4L653.0,1053.5L654.0,1052.9L655.0,1054.6L656.0,1054.5L657.0,1055.5L658.0,1051.3L659.0,1053.0L660.0,1052.3L661.0,1049.4L662.0,1051.8L663.0,1052.1L664.0,1050.0L665.0,1048.9L666.0,1052.5L667.0,1047.6L668.0,1051.3L669.0,1048.7L670.0,1049.0L671.0,1046.7L672.0,1045.9L673.0,1049.2L674.0,1049.9L675.0,1045.8L676.0,1048.4L677.0,1045.9L678.0,1047.0L679.0,1045.3L680.0,1044.3L681.0,1042.4L682.0,1041.9L683.0,1043.3L684.0,1042.4L685.0,1039.7L686.0,1037.9L687.0,1037.5L688.0,1037.8L689.0,1037.6L690.0,1036.7L691.0,1034.4L692.0,1034.5L693.0,1031.2L694.0,1033.9L695.0,1030.8L696.0,1027.8L697.0,1026.5L698.0,1025.6L699.0,1025.7L700.0,1026.0L701.0,1023.3L702.0,1024.6L703.0,1022.9L704.0,1019.6L705.0,1019.1L706.0,1018.0L707.0,1017.8L708.0,1019.5L709.0,1018.8L710.0,1016.0L711.0,1015.2L712.0,1013.2L713.0,1014.7L714.0,1011.7L715.0,1012.0L716.0,1012.2L717.0,1013.0L718.0,1012.1L719.0,1009.7L720.0,1011.8L721.0,1010.9L722.0,1011.0L723.0,1011.9L724.0,1008.2L725.0,1009.8L726.0,1010.2L727.0,1007.6L728.0,1010.2L729.0,1009.4L730.0,1008.9L731.0,1007.9L732.0,1009.1L733.0,1009.3L734.0,1007.5L735.0,1007.6L736.0,1007.3L737.0,1008.1L738.0,1008.0L739.0,1008.7L740.0,1008.1L741.0,1007.4L742.0,1007.9L743.0,1006.9L744.0,1008.5L745.0,1006.7L746.0,1006.8L747.0,1007.8L748.0,1006.1L749.0,1008.6L750.0,1009.6L751.0,1009.4L752.0,1010.0L753.0,1010.2L754.0,1010.5L755.0,1010.9L756.0,1010.5L757.0,1012.6L758.0,1014.2L759.0,1016.7L760.0,1016.6L761.0,1018.8L762.0,1020.1L762.5,1019.5L763.0,1019.1L764.0,1017.4L765.0,1014.6L766.0,1012.7L767.0,1006.6L768.0,1004.1L769.0,1001.4L770.0,1000.1L771.0,997.8L772.0,994.8L772.5,995.8L773.0,994.1L774.0,995.5L775.0,993.6L776.0,993.6L777.0,991.3L778.0,992.6L779.0,991.6L780.0,990.7L781.0,989.9L782.0,991.3L783.0,991.2L784.0,990.3L785.0,990.9L786.0,990.7L787.0,990.6L788.0,989.2L789.0,990.2L790.0,989.8L791.0,989.2L792.0,989.6L793.0,989.0L794.0,990.1L795.0,989.2L796.0,989.6L797.0,990.7L798.0,992.4L799.0,993.0L800.0,993.0L801.0,995.6L802.0,995.2L802.5,996.0L803.0,995.4L804.0,994.3L805.0,992.6L806.0,992.0L807.0,990.8L808.0,988.3L809.0,986.5L810.0,984.7L811.0,983.8L812.0,983.0L812.5,983.2L813.0,982.3L814.0,982.1L815.0,981.0L816.0,981.8L817.0,980.7L818.0,979.3L819.0,979.4L820.0,979.6L821.0,980.2L822.0,979.2L823.0,979.9L824.0,979.1L825.0,978.2L826.0,978.2L827.0,979.6L828.0,978.0L829.0,977.8L830.0,977.6L831.0,977.1L832.0,978.2L833.0,978.0L834.0,976.6L835.0,978.1L836.0,977.5L837.0,976.6L838.0,975.7L839.0,976.2L840.0,976.2L841.0,976.8L842.0,976.0L843.0,976.8L844.0,977.1L845.0,975.5L846.0,975.5L847.0,976.5L848.0,976.8L849.0,974.2L850.0,975.0L851.0,974.0L852.0,975.2L853.0,975.1L854.0,974.2L855.0,974.8L856.0,975.4L857.0,973.2L858.0,973.5L859.0,973.8L860.0,974.0L861.0,974.3L862.0,974.1L863.0,974.9L864.0,973.8L865.0,973.1L866.0,972.9L867.0,972.2L868.0,973.4L869.0,973.8L870.0,972.5L871.0,973.8L872.0,972.2L873.0,973.6L874.0,972.7L875.0,973.8L876.0,972.5L877.0,972.4L878.0,971.9L879.0,971.3L880.0,971.6L881.0,971.3L882.0,970.8L883.0,972.6L884.0,972.3L885.0,971.8L886.0,971.9L887.0,970.4L888.0,970.0L889.0,971.6L890.0,971.7L891.0,971.8L892.0,972.2L893.0,972.3L894.0,971.9L895.0,973.2L896.0,973.5" stroke="#BF00FF" stroke-width="12.5"/>
</svg>
<svg x="925" y="40" width="1456.6" height="1730" viewBox="925 40 1456.6 1730" overflow="hidden">
<path class="c" d="M918.0,209.4L919.5,208.1L921.0,208.5L922.5,209.3L924.0,210.5L925.0,207.8L925.5,207.7L927.0,209.2L928.5,207.8L930.0,207.9L931.5,209.5L933.0,208.8L934.5,208.0L936.0,208.8L937.5,208.2L939.0,207.8L940.5,207.0L942.0,208.9L943.5,207.6L945.0,208.0L946.5,207.2L948.0,208.6L949.5,209.0L951.0,209.4L952.5,208.3L954.0,208.9L955.5,207.9L957.0,207.0L958.5,209.6L960.0,208.5L961.5,208.9L963.0,208.4L964.5,209.4L965.0,210.3L966.0,209.7L967.5,210.6L969.0,209.8L970.5,212.0L972.0,211.5L973.5,212.5L975.0,211.3L976.5,212.6L978.0,213.1L979.5,212.5L980.0,210.5L981.0,211.7L982.5,213.0L984.0,211.1L985.5,211.4L987.0,211.0L988.5,211.9L990.0,210.5L991.5,210.5L993.0,211.6L994.5,209.5L996.0,209.5L997.5,209.4L999.0,210.3L1000.5,209.7L1002.0,209.5L1002.5,208.8L1003.5,209.4L1005.0,209.9L1006.5,209.2L1008.0,210.8L1009.5,212.5L1011.0,212.9L1012.5,211.9L1014.0,212.2L1015.5,212.4L1017.0,213.6L1018.5,213.6L1020.0,215.3L1021.5,215.8L1023.0,216.2L1024.5,216.6L1025.0,217.0L1026.0,217.3L1027.5,217.6L1029.0,219.8L1030.5,220.9L1032.0,220.5L1033.5,220.9L1035.0,222.2L1036.5,222.7L1038.0,222.9L1039.5,222.4L1041.0,225.1L1042.5,225.9L1044.0,225.2L1045.0,224.8L1045.5,224.9L1047.0,225.9L1048.5,224.5L1050.0,224.4L1051.5,224.2L1053.0,225.0L1054.5,224.8L1056.0,224.9L1057.5,225.9L1059.0,225.0L1060.5,224.6L1062.0,224.8L1063.5,226.2L1065.0,225.7L1066.5,226.3L1068.0,225.6L1069.5,227.4L1071.0,227.8L1072.5,227.7L1074.0,228.9L1075.5,229.4L1077.0,231.9L1078.5,233.7L1080.0,234.8L1081.6,236.9L1083.1,240.1L1084.6,242.2L1086.1,245.1L1087.6,247.2L1089.1,251.4L1090.6,254.2L1092.1,259.4L1092.5,259.9L1093.6,263.1L1095.1,267.2L1096.6,272.2L1098.1,277.5L1099.6,283.6L1100.0,285.1L1101.1,289.0L1102.6,296.5L1104.1,305.1L1105.6,313.2L1107.1,322.1L1107.5,324.5L1108.6,332.2L1110.1,342.8L1111.6,355.1L1113.1,367.3L1114.6,381.5L1115.0,385.5L1116.1,395.6L1117.6,410.5L1119.1,425.3L1120.6,441.6L1122.1,455.8L1122.5,460.6L1123.6,470.1L1125.1,482.1L1126.6,494.7L1128.1,503.6L1129.6,508.9L1130.0,510.3L1131.1,509.5L1132.6,506.6L1134.1,501.2L1135.6,493.0L1137.1,483.2L1137.5,480.4L1138.6,471.3L1140.1,457.9L1141.6,442.6L1143.1,427.3L1144.6,413.7L1145.0,409.8L1146.1,401.7L1147.6,390.4L1149.1,380.1L1150.6,371.9L1152.1,366.7L1152.5,364.5L1153.6,363.1L1155.1,360.5L1156.6,358.7L1158.1,356.7L1159.6,357.4L1160.0,357.4L1161.1,358.5L1162.6,359.3L1164.1,361.9L1165.6,365.6L1167.1,369.1L1167.5,370.1L1168.6,372.9L1170.1,378.3L1171.6,384.7L1173.1,392.0L1174.6,398.9L1176.1,407.6L1177.5,415.4L1179.1,423.5L1180.6,434.0L1182.1,443.8L1183.6,455.0L1185.1,468.1L1186.6,481.9L1187.5,489.9L1188.1,496.1L1189.6,512.6L1191.1,530.6L1192.6,550.6L1194.1,571.4L1195.0,585.0L1195.6,594.1L1197.1,616.9L1198.6,641.1L1200.1,667.1L1201.6,693.9L1202.5,709.6L1203.1,721.1L1204.6,748.5L1206.1,776.7L1207.5,799.7L1209.1,822.7L1210.6,843.2L1212.1,858.9L1213.6,874.4L1215.0,884.9L1216.6,895.9L1218.1,903.6L1219.6,910.5L1221.1,916.5L1222.6,918.8L1224.0,919.7L1225.6,918.8L1227.1,914.9L1228.6,909.0L1230.1,900.9L1231.6,891.7L1232.5,885.3L1233.1,880.1L1234.6,865.6L1236.1,848.5L1237.6,828.9L1239.1,811.0L1240.0,800.2L1240.6,792.9L1242.1,774.7L1243.6,757.5L1245.1,739.3L1246.6,720.8L1247.5,709.7L1248.1,702.2L1249.6,681.0L1251.1,659.4L1252.6,639.0L1254.1,619.7L1255.0,609.9L1255.6,604.3L1257.1,589.3L1258.6,576.9L1260.1,566.4L1261.6,555.7L1262.5,550.3L1263.1,545.8L1264.6,536.4L1266.1,527.1L1267.6,519.6L1269.1,510.3L1270.6,502.9L1272.1,496.4L1272.5,495.2L1273.6,490.8L1275.1,485.0L1276.6,480.6L1278.1,476.0L1279.6,472.5L1280.0,472.7L1281.1,470.6L1282.6,468.7L1284.1,467.2L1285.6,466.0L1287.1,464.4L1288.6,463.8L1290.1,463.8L1291.6,463.9L1292.5,463.7L1293.1,463.6L1294.6,463.9L1296.1,463.3L1297.6,463.7L1299.1,464.3L1300.6,464.6L1302.1,464.3L1303.6,465.2L1305.1,464.6L1306.6,465.6L1308.1,465.8L1309.6,465.5L1310.0,466.0L1311.1,465.4L1312.6,466.0L1314.1,465.9L1315.6,465.8L1317.1,466.2L1318.6,466.2L1320.1,467.1L1321.6,467.0L1322.5,468.1L1323.1,467.5L1324.6,469.3L1326.1,471.9L1327.6,473.2L1329.1,475.2L1330.6,478.2L1332.1,480.9L1333.6,483.8L1335.0,485.4L1336.6,486.6L1338.1,488.8L1339.6,491.2L1341.1,492.7L1342.6,494.4L1344.2,497.3L1345.7,499.0L1347.2,501.4L1348.7,504.0L1350.0,507.5L1351.7,511.3L1353.2,516.5L1354.7,520.6L1356.2,526.6L1357.7,531.7L1359.2,537.2L1360.0,540.0L1360.7,541.8L1362.2,546.6L1363.7,551.7L1365.2,556.6L1366.7,561.1L1368.2,564.3L1369.7,568.0L1371.2,572.6L1372.5,575.0L1374.2,578.5L1375.7,580.3L1377.2,583.5L1378.7,585.5L1380.2,586.0L1381.7,587.3L1382.5,587.4L1383.2,587.4L1384.7,587.7L1386.2,586.6L1387.7,585.2L1389.2,584.1L1390.7,581.6L1392.2,580.3L1393.7,577.4L1395.0,574.8L1396.7,571.9L1398.2,568.6L1399.7,565.9L1401.2,562.8L1402.7,558.6L1404.2,554.8L1405.7,549.9L1407.2,546.1L1407.5,545.5L1408.7,541.4L1410.2,536.8L1411.7,530.9L1413.2,524.7L1414.7,519.6L1416.2,513.0L1417.7,507.9L1419.2,503.6L1420.0,500.7L1420.7,497.5L1422.2,492.9L1423.7,488.2L1425.2,483.6L1426.7,479.3L1428.2,475.0L1429.7,472.0L1431.2,467.9L1432.7,465.0L1434.2,461.2L1435.0,459.7L1435.7,458.4L1437.2,456.0L1438.7,452.9L1440.2,450.1L1441.7,448.6L1443.2,446.1L1444.7,443.4L1446.2,440.7L1447.7,438.0L1449.2,435.3L1450.7,433.2L1452.2,430.1L1453.7,427.4L1455.0,424.7L1456.7,421.1L1458.2,417.2L1459.7,414.0L1461.2,410.7L1462.7,407.8L1464.2,404.9L1465.7,401.9L1467.2,399.5L1468.7,398.5L1470.2,397.7L1471.7,397.3L1473.2,398.3L1474.0,399.2L1474.7,400.1L1476.2,404.6L1477.7,409.5L1479.2,413.4L1480.0,414.8L1480.7,415.9L1482.2,417.6L1483.7,416.6L1485.2,417.6L1486.7,417.0L1488.2,417.4L1489.7,416.7L1490.0,417.6L1491.2,418.6L1492.7,420.2L1494.2,423.6L1495.7,426.0L1497.2,429.2L1498.7,432.1L1500.2,434.2L1501.7,436.7L1502.5,437.3L1503.2,437.9L1504.7,438.5L1506.2,439.0L1507.7,439.2L1509.2,437.9L1510.7,436.8L1512.2,436.1L1513.7,435.6L1515.2,434.8L1516.7,432.4L1517.5,432.3L1518.2,432.2L1519.7,432.0L1521.2,430.5L1522.7,430.5L1524.2,429.6L1525.7,428.8L1527.2,428.8L1528.7,429.9L1530.2,430.1L1531.7,431.4L1532.5,432.5L1533.2,433.4L1534.7,436.3L1536.2,441.3L1537.7,446.6L1539.2,452.0L1540.7,457.9L1542.2,464.4L1542.5,465.1L1543.7,469.9L1545.2,476.0L1546.7,482.8L1548.2,488.3L1549.7,495.1L1551.2,502.2L1552.5,507.7L1554.2,516.2L1555.7,523.7L1557.2,529.7L1558.7,537.0L1560.2,543.6L1561.7,549.6L1562.5,552.3L1563.2,555.0L1564.7,559.0L1566.2,562.3L1567.7,566.6L1569.2,570.9L1570.7,575.7L1572.2,581.6L1572.5,582.5L1573.7,589.3L1575.2,599.3L1576.7,608.2L1578.2,617.9L1579.7,626.3L1580.0,627.5L1581.2,632.9L1582.7,638.6L1584.2,641.5L1585.7,645.0L1587.2,646.6L1588.7,647.9L1590.0,647.8L1591.7,645.5L1593.2,642.6L1594.7,638.6L1596.2,633.9L1597.7,628.9L1599.2,623.1L1600.0,620.0L1600.7,617.0L1602.2,610.9L1603.7,604.8L1605.2,598.0L1606.7,591.6L1608.2,586.6L1609.7,581.0L1610.0,579.7L1611.2,576.4L1612.7,572.0L1614.2,567.0L1615.7,563.6L1617.2,559.4L1618.7,556.9L1620.2,553.7L1621.7,551.1L1622.5,550.4L1623.2,549.5L1624.7,546.8L1626.2,545.9L1627.7,543.6L1629.2,542.6L1630.7,541.6L1632.2,540.2L1632.5,539.9L1633.7,538.5L1635.2,536.3L1636.7,535.0L1638.2,533.6L1639.8,531.8L1641.2,531.5L1641.5,531.7L1642.8,531.5L1644.2,532.6L1645.8,534.6L1647.2,538.0L1648.8,540.9L1650.0,545.0L1651.8,550.0L1653.2,557.2L1654.8,562.9L1656.2,570.0L1657.5,575.1L1659.2,582.0L1660.8,587.1L1662.2,591.7L1663.8,595.6L1665.2,599.8L1666.8,603.2L1667.5,605.2L1668.3,606.4L1669.8,609.0L1671.3,611.4L1672.8,613.3L1674.3,614.6L1675.8,616.2L1677.3,617.2L1678.8,618.2L1680.0,620.4L1681.8,621.4L1683.3,622.9L1684.8,625.0L1686.3,625.2L1687.8,627.1L1689.3,629.6L1690.0,629.9L1690.8,631.4L1692.3,633.6L1693.8,636.1L1695.3,637.8L1696.8,637.9L1698.3,639.2L1699.0,638.9L1699.8,637.8L1701.3,635.2L1702.8,631.1L1704.3,624.7L1705.8,618.4L1707.3,611.1L1707.5,610.5L1708.8,603.0L1710.3,594.8L1711.8,584.9L1713.3,577.7L1714.8,570.9L1715.0,570.0L1716.3,566.6L1717.8,563.6L1719.3,560.8L1720.8,559.5L1722.3,559.1L1722.5,559.3L1723.8,559.9L1725.3,560.3L1726.8,562.2L1728.3,564.6L1729.8,568.7L1731.3,572.2L1732.5,575.1L1734.3,580.5L1735.8,588.2L1737.3,594.5L1738.8,603.3L1740.0,609.9L1741.8,620.7L1743.3,631.3L1744.8,642.0L1746.3,653.7L1747.8,665.1L1749.3,678.4L1750.0,685.2L1750.8,692.5L1752.3,707.2L1753.8,722.7L1755.3,737.6L1756.8,752.9L1757.5,759.9L1758.3,767.8L1759.8,781.1L1761.3,794.1L1762.8,806.7L1764.3,819.1L1765.0,824.4L1765.8,830.8L1767.3,842.5L1768.8,854.5L1770.3,865.6L1771.8,875.8L1772.5,880.0L1773.3,884.4L1774.8,892.7L1776.3,900.7L1777.8,907.3L1779.3,913.6L1780.8,919.6L1782.3,923.8L1782.5,924.2L1783.8,926.9L1785.3,930.2L1786.8,933.0L1788.3,935.7L1789.8,937.8L1791.3,939.4L1792.8,940.4L1794.3,942.5L1795.8,943.1L1797.3,942.3L1797.5,943.5L1798.8,943.2L1800.3,942.6L1801.8,942.3L1803.3,940.6L1804.8,939.9L1806.3,936.5L1807.8,935.2L1809.3,931.9L1810.8,928.1L1812.3,924.1L1812.5,924.4L1813.8,920.3L1815.3,913.7L1816.8,907.4L1818.3,899.1L1819.8,890.6L1821.3,882.7L1822.5,875.0L1824.3,863.3L1825.8,853.4L1827.3,844.0L1828.8,833.0L1830.0,824.6L1831.8,812.2L1833.3,803.3L1834.8,793.3L1836.3,782.7L1837.8,774.0L1839.3,764.1L1840.0,760.5L1840.8,755.2L1842.3,745.4L1843.8,735.8L1845.3,726.1L1846.8,717.9L1848.3,709.8L1849.8,702.4L1851.3,695.1L1852.5,690.7L1854.3,684.0L1855.8,679.6L1857.3,676.0L1858.8,672.3L1860.3,668.8L1861.8,666.6L1862.5,666.1L1863.3,663.4L1864.8,662.1L1866.3,659.9L1867.8,658.0L1869.3,657.3L1870.8,656.2L1872.3,655.8L1872.5,654.7L1873.8,654.5L1875.3,654.5L1876.8,654.3L1878.3,654.5L1879.8,653.7L1881.3,654.3L1882.8,654.3L1884.3,654.8L1885.8,654.1L1887.3,654.7L1888.8,654.2L1890.0,654.8L1891.8,653.9L1893.3,653.9L1894.8,653.1L1896.3,651.5L1897.8,650.9L1899.3,650.7L1900.8,649.4L1902.3,647.5L1903.8,646.8L1905.3,644.8L1906.8,642.9L1907.5,642.6L1908.3,641.5L1909.8,639.7L1911.3,636.9L1912.8,634.6L1914.3,632.0L1915.8,628.4L1917.3,625.6L1918.8,622.3L1920.0,620.1L1921.8,615.7L1923.3,612.4L1924.8,608.8L1926.3,606.2L1927.8,602.1L1929.3,598.9L1930.8,596.0L1932.3,592.3L1932.5,592.4L1933.8,589.4L1935.3,586.8L1936.8,585.3L1938.3,583.5L1939.8,581.6L1941.3,579.5L1942.8,577.5L1944.3,575.6L1945.8,574.2L1947.3,571.6L1948.8,569.7L1950.3,567.8L1951.8,565.8L1952.5,565.9L1953.3,563.5L1954.8,562.2L1956.3,559.0L1957.8,556.6L1959.3,554.2L1960.8,551.0L1962.4,548.6L1963.9,546.5L1965.4,543.3L1966.9,541.6L1968.4,539.5L1969.9,537.5L1970.0,537.2L1971.4,535.3L1972.9,533.3L1974.4,531.7L1975.9,529.9L1977.4,529.0L1978.9,527.5L1980.4,527.3L1981.9,526.7L1983.4,525.9L1984.0,526.7L1984.9,526.7L1986.4,525.8L1987.9,526.9L1989.4,528.7L1990.9,529.7L1992.4,532.6L1993.9,535.8L1995.0,537.7L1995.4,538.8L1996.9,544.7L1998.4,549.9L1999.9,556.8L2001.4,564.0L2002.5,569.9L2002.9,572.8L2004.4,580.7L2005.9,589.2L2007.4,598.3L2008.9,607.0L2010.0,611.9L2010.4,612.8L2011.9,619.5L2013.4,624.4L2014.9,627.3L2016.4,630.7L2017.5,631.2L2017.9,630.3L2019.4,629.5L2020.9,626.2L2022.4,621.5L2023.9,616.4L2025.0,612.2L2025.4,610.6L2026.9,603.0L2028.4,594.2L2029.9,585.6L2031.4,576.5L2032.5,569.6L2032.9,567.5L2034.4,559.6L2035.9,551.3L2037.4,542.5L2038.9,534.8L2040.4,527.3L2041.9,520.0L2042.5,518.4L2043.4,515.1L2044.9,508.7L2046.4,503.1L2047.9,498.4L2049.4,494.2L2050.9,490.1L2052.4,487.2L2052.5,486.8L2053.9,484.9L2055.4,481.5L2056.9,479.4L2058.4,478.9L2059.9,476.9L2061.4,476.4L2062.5,475.9L2062.9,475.7L2064.4,475.7L2065.9,477.0L2067.4,477.4L2068.9,477.6L2070.4,478.5L2071.9,479.8L2073.4,481.3L2074.9,481.7L2076.4,483.5L2077.5,484.6L2077.9,485.4L2079.4,486.4L2080.9,488.5L2082.4,490.2L2083.9,491.8L2085.4,494.1L2086.9,494.2L2088.4,495.9L2089.9,495.9L2091.4,495.9L2092.5,495.5L2092.9,495.4L2094.4,494.2L2095.9,492.7L2097.4,490.8L2098.9,487.9L2100.0,485.2L2100.4,484.6L2101.9,481.7L2103.4,478.0L2104.9,473.7L2106.4,470.2L2107.9,466.9L2109.4,463.4L2110.0,462.0L2110.9,460.8L2112.4,457.8L2113.9,454.8L2115.4,453.0L2116.9,450.4L2118.4,448.5L2119.9,446.5L2121.4,445.3L2122.9,444.1L2124.4,441.4L2125.0,441.3L2125.9,439.9L2127.4,437.9L2128.9,436.8L2130.4,435.2L2131.9,433.1L2133.4,432.7L2134.9,431.3L2136.4,429.9L2137.9,429.9L2139.4,429.5L2140.9,429.3L2141.0,430.3L2142.4,430.6L2143.9,431.5L2145.4,433.4L2146.9,435.2L2148.4,437.6L2149.9,440.3L2151.4,443.6L2152.5,446.6L2152.9,446.8L2154.4,451.5L2155.9,455.1L2157.4,459.8L2158.9,465.8L2160.4,471.9L2161.9,478.7L2162.5,482.3L2163.4,487.4L2164.9,495.7L2166.4,506.2L2167.9,517.4L2169.4,526.8L2170.0,530.3L2170.9,536.6L2172.4,544.7L2173.9,554.0L2175.4,561.5L2176.9,566.5L2177.5,568.2L2178.4,570.2L2179.9,572.6L2181.4,573.1L2182.5,573.3L2182.9,573.4L2184.4,573.3L2185.9,572.5L2187.4,570.2L2188.9,568.9L2190.4,567.7L2191.9,565.8L2192.5,565.2L2193.4,564.4L2194.9,563.4L2196.4,561.3L2197.9,561.6L2199.4,561.0L2200.0,561.0L2200.9,562.0L2202.4,562.9L2203.9,564.2L2205.4,567.0L2206.9,569.8L2208.4,572.9L2209.9,576.3L2210.0,577.4L2211.4,580.1L2212.9,583.6L2214.4,586.3L2215.9,590.7L2217.4,594.1L2218.9,597.3L2220.4,601.4L2221.9,603.5L2222.5,605.1L2223.4,607.3L2224.9,609.9L2226.4,612.4L2227.9,615.4L2229.4,619.5L2230.9,622.0L2232.4,625.6L2233.9,627.7L2235.4,630.9L2236.9,634.7L2237.5,635.1L2238.4,637.1L2239.9,640.9L2241.4,643.3L2242.9,645.4L2244.4,648.6L2245.9,650.0L2247.4,652.7L2248.9,652.7L2249.0,653.2L2250.4,652.2L2251.9,649.7L2253.4,648.7L2255.0,645.3L2256.5,641.6L2258.0,636.1L2259.5,632.0L2260.0,630.3L2261.0,627.1L2262.5,619.9L2264.0,612.4L2265.5,605.9L2267.0,597.4L2268.5,589.1L2270.0,580.5L2270.0,580.4L2271.5,572.1L2273.0,562.7L2274.5,552.9L2276.0,544.5L2277.5,536.5L2279.0,529.2L2280.0,524.8L2280.5,523.4L2282.0,518.2L2283.5,512.8L2285.0,509.1L2286.5,505.8L2288.0,502.9L2289.5,500.0L2291.0,498.2L2292.5,495.5L2292.5,494.8L2294.0,492.5L2295.5,490.2L2297.0,488.1L2298.5,485.7L2300.0,483.6L2301.5,481.5L2303.0,478.6L2304.5,475.5L2305.0,475.0L2306.0,473.0L2307.5,469.3L2309.0,465.2L2310.5,460.1L2312.0,456.4L2313.5,451.3L2315.0,447.2L2316.5,442.5L2317.5,439.7L2318.0,439.2L2319.5,434.5L2321.0,429.9L2322.5,425.9L2324.0,421.8L2325.5,419.0L2327.0,415.9L2327.5,414.6L2328.5,413.2L2330.0,411.1L2331.5,409.6L2333.0,408.6L2334.5,408.0L2335.0,408.3L2336.0,409.3L2337.5,411.8L2339.0,416.3L2340.5,422.3L2342.0,428.3L2342.5,430.3L2343.5,436.2L2345.0,444.7L2346.5,454.2L2348.0,463.0L2349.5,469.2L2350.0,469.7L2351.0,470.6L2352.5,470.6L2354.0,466.5L2355.5,460.8L2357.0,453.6L2357.5,450.7L2358.5,442.4L2360.0,427.5L2361.5,413.5L2362.5,405.2L2363.0,402.0L2364.5,393.7L2366.0,389.6L2367.5,384.4L2369.0,381.2L2370.0,379.1L2370.5,378.7L2372.0,376.0L2373.5,374.1L2375.0,371.3L2376.5,370.0L2378.0,367.7L2379.5,367.8L2380.0,367.9L2381.0,368.3L2382.5,369.1L2384.0,370.6L2385.5,373.2L2387.0,376.0" stroke="#FF0000" stroke-width="12.5"/>
<path class="c" d="M918.0,422.1L919.5,424.3L921.0,424.9L922.5,425.9L924.0,427.4L925.0,427.8L925.5,428.2L927.0,427.2L928.5,427.4L930.0,428.5L931.5,428.7L933.0,426.1L934.5,426.2L936.0,426.2L937.5,426.1L939.0,424.5L940.5,425.1L942.0,424.0L943.5,424.3L945.0,423.0L946.5,423.3L948.0,421.8L949.5,420.8L950.0,422.3L951.0,422.2L952.5,420.7L954.0,422.6L955.5,421.1L957.0,422.8L958.5,422.9L960.0,423.8L961.5,425.0L963.0,424.8L964.5,424.2L966.0,424.6L967.5,426.5L969.0,425.1L970.5,426.2L972.0,424.9L973.5,427.6L975.0,425.4L976.5,425.0L978.0,425.1L979.5,424.8L981.0,423.3L982.5,423.1L984.0,423.7L985.5,422.0L987.0,422.9L988.5,421.9L990.0,422.2L991.5,422.3L993.0,422.9L994.5,422.7L996.0,423.0L997.5,423.7L999.0,423.2L1000.5,424.7L1002.0,426.6L1003.5,426.4L1005.0,427.1L1006.5,426.5L1008.0,427.3L1009.5,428.2L1011.0,428.3L1012.5,428.4L1014.0,428.5L1015.5,428.7L1017.0,428.5L1018.5,428.7L1020.0,428.1L1021.5,428.5L1023.0,427.6L1024.5,427.4L1026.0,427.7L1027.5,428.2L1029.0,426.8L1030.0,427.1L1030.5,428.1L1032.0,426.3L1033.5,428.0L1035.0,428.8L1036.5,427.9L1038.0,429.6L1039.5,430.3L1041.0,429.8L1042.5,432.1L1044.0,430.7L1045.5,433.4L1047.0,432.6L1048.5,434.3L1050.0,432.8L1051.5,436.2L1053.0,434.7L1054.5,435.7L1056.0,435.3L1057.5,436.6L1059.0,435.5L1060.5,436.0L1062.0,437.6L1063.5,438.4L1065.0,440.0L1066.5,440.8L1068.0,442.2L1069.5,441.0L1070.0,442.2L1071.0,442.1L1072.5,445.1L1074.0,446.5L1075.5,446.9L1077.0,449.6L1078.5,452.1L1080.1,454.0L1081.6,455.8L1082.5,457.9L1083.1,458.0L1084.6,460.8L1086.1,464.8L1087.6,467.0L1089.1,470.2L1090.6,475.4L1092.1,478.8L1092.5,480.0L1093.6,483.5L1095.1,488.7L1096.6,494.1L1098.1,500.5L1099.6,507.1L1100.0,509.6L1101.1,515.5L1102.6,524.1L1104.1,533.7L1105.6,545.0L1107.1,556.8L1107.5,559.5L1108.6,568.2L1110.1,582.2L1111.6,596.0L1113.1,609.6L1114.6,622.3L1115.0,624.7L1116.1,632.2L1117.6,642.1L1119.1,651.8L1120.6,658.9L1122.1,663.9L1122.5,664.8L1123.6,666.9L1125.1,668.8L1126.6,670.2L1127.5,670.4L1128.1,669.4L1129.6,666.7L1131.1,661.6L1132.5,654.4L1134.1,645.8L1135.6,635.5L1137.1,622.5L1138.6,610.1L1140.0,600.6L1141.6,589.2L1143.1,580.2L1144.6,572.1L1146.1,565.1L1147.5,559.9L1149.1,556.3L1150.6,552.2L1152.1,549.9L1153.6,549.0L1155.1,547.5L1156.5,547.6L1158.1,548.9L1159.6,549.6L1161.1,551.5L1162.6,554.9L1164.1,558.3L1165.0,559.5L1165.6,561.9L1167.1,564.8L1168.6,570.2L1170.1,575.9L1171.6,582.4L1173.1,588.8L1174.6,597.2L1175.0,599.8L1176.1,606.8L1177.6,617.5L1179.1,629.6L1180.6,642.3L1182.1,656.7L1182.5,660.1L1183.6,670.6L1185.1,685.9L1186.6,700.7L1188.1,716.9L1189.6,732.0L1190.0,734.6L1191.1,744.7L1192.6,759.7L1194.1,781.4L1195.0,800.3L1195.6,816.2L1197.1,869.0L1198.6,927.9L1200.0,975.5L1201.6,1012.8L1203.1,1040.7L1204.6,1060.9L1206.1,1076.5L1207.6,1088.1L1209.1,1095.4L1210.0,1099.7L1210.6,1102.7L1212.1,1109.6L1213.6,1116.4L1215.1,1122.1L1216.6,1128.6L1218.1,1133.9L1219.6,1139.1L1221.1,1142.1L1222.6,1144.2L1224.0,1144.9L1225.6,1143.7L1227.1,1140.0L1228.6,1134.6L1230.1,1128.4L1231.6,1120.0L1233.1,1112.5L1234.6,1103.0L1235.0,1100.6L1236.1,1092.4L1237.6,1081.1L1239.1,1067.9L1240.6,1053.7L1242.1,1036.7L1243.6,1018.8L1245.0,1000.2L1246.6,974.5L1248.1,948.6L1249.6,921.6L1251.1,896.1L1252.5,875.1L1254.1,854.5L1255.6,838.0L1257.1,823.3L1258.6,810.8L1260.0,800.3L1261.6,788.5L1263.1,778.4L1264.6,768.1L1266.1,760.6L1267.6,751.5L1269.1,745.7L1270.0,742.0L1270.6,739.2L1272.1,734.8L1273.6,730.4L1275.1,726.9L1276.6,723.5L1278.1,720.4L1279.6,719.5L1281.1,717.6L1282.5,715.9L1284.1,715.3L1285.6,714.4L1287.1,713.8L1288.6,712.7L1290.1,712.2L1291.6,711.5L1293.1,711.2L1294.6,710.8L1296.1,711.2L1297.6,711.4L1299.1,711.2L1300.0,710.9L1300.6,711.9L1302.1,711.5L1303.6,711.8L1305.1,711.9L1306.6,711.5L1308.1,712.7L1309.6,712.7L1311.1,713.3L1312.6,713.0L1314.1,714.3L1315.6,715.3L1317.1,715.0L1318.6,715.6L1320.0,716.5L1321.6,716.7L1323.1,717.4L1324.6,718.4L1326.1,717.9L1327.6,719.5L1329.1,719.6L1330.6,720.5L1332.1,721.5L1333.6,722.7L1335.1,723.4L1336.6,725.0L1337.5,725.5L1338.1,726.4L1339.6,728.2L1341.1,731.9L1342.6,734.5L1344.2,736.7L1345.7,740.3L1347.2,744.4L1347.5,745.1L1348.7,747.9L1350.2,752.1L1351.7,756.4L1353.2,760.9L1354.7,765.9L1356.2,771.5L1357.7,777.4L1359.2,781.7L1360.0,785.6L1360.7,788.0L1362.2,792.8L1363.7,799.0L1365.2,804.1L1366.7,809.3L1368.2,815.4L1369.7,820.9L1371.2,825.1L1372.5,830.0L1374.2,835.3L1375.7,839.6L1377.2,844.0L1378.7,848.0L1380.2,852.7L1381.7,855.7L1383.2,860.2L1384.7,863.8L1385.0,864.5L1386.2,867.8L1387.7,871.3L1389.2,874.8L1390.7,878.4L1392.2,880.9L1393.7,882.9L1395.0,884.6L1396.7,883.8L1398.2,882.2L1399.7,881.2L1401.2,878.9L1402.7,875.7L1404.2,872.0L1405.0,869.2L1405.7,868.0L1407.2,862.9L1408.7,856.3L1410.2,849.6L1411.7,842.2L1413.2,835.3L1414.7,826.9L1415.0,824.6L1416.2,819.3L1417.7,810.7L1419.2,802.2L1420.7,793.5L1422.2,785.1L1423.7,775.9L1425.0,770.3L1426.7,762.2L1428.2,755.0L1429.7,749.9L1431.2,743.9L1432.7,738.1L1434.2,733.1L1435.7,727.7L1437.2,724.1L1437.5,722.6L1438.7,718.4L1440.2,713.6L1441.7,708.8L1443.2,705.0L1444.7,699.6L1446.2,696.5L1447.7,691.4L1449.2,686.5L1450.0,685.1L1450.7,682.8L1452.2,678.8L1453.7,674.9L1455.2,669.9L1456.7,666.1L1458.2,662.9L1459.7,658.9L1461.2,655.4L1462.5,652.5L1464.2,649.8L1465.7,646.7L1467.2,644.4L1468.7,642.2L1470.2,640.8L1471.7,640.3L1472.5,640.6L1473.2,641.7L1474.7,642.8L1476.2,644.1L1477.7,645.7L1479.2,647.1L1480.0,647.3L1480.7,647.8L1482.2,647.2L1483.7,645.8L1485.2,645.6L1486.7,645.1L1487.5,645.3L1488.2,645.1L1489.7,645.4L1491.2,647.7L1492.7,650.1L1494.2,651.9L1495.7,653.6L1497.2,656.7L1498.7,658.7L1500.2,661.2L1501.7,662.8L1503.2,664.0L1504.7,665.2L1505.0,664.6L1506.2,665.4L1507.7,664.0L1509.2,662.7L1510.7,660.3L1512.2,659.0L1513.7,656.8L1515.2,654.6L1516.7,653.4L1517.5,652.6L1518.2,651.9L1519.7,651.8L1521.2,650.7L1522.7,650.7L1524.2,650.3L1525.7,650.8L1527.2,651.4L1528.7,652.2L1530.0,653.0L1531.7,654.3L1533.2,658.5L1534.7,661.6L1536.2,665.8L1537.7,670.6L1539.2,674.5L1540.0,677.2L1540.7,680.0L1542.2,683.5L1543.7,688.4L1545.2,694.0L1546.7,698.6L1548.2,704.5L1549.7,709.3L1551.2,715.3L1552.5,720.3L1554.2,726.7L1555.7,732.4L1557.2,738.0L1558.7,743.7L1560.2,750.8L1561.7,757.2L1562.5,759.6L1563.2,762.4L1564.7,769.6L1566.2,776.0L1567.7,783.0L1569.2,790.6L1570.7,799.2L1572.2,808.0L1572.5,810.3L1573.7,819.3L1575.2,831.1L1576.7,843.6L1578.2,856.0L1579.7,868.6L1580.0,870.3L1581.2,878.6L1582.7,889.5L1584.2,899.1L1585.7,907.7L1587.2,915.6L1588.7,920.9L1590.0,924.9L1591.7,928.9L1593.2,930.7L1594.7,932.4L1596.2,934.5L1597.7,935.5L1599.2,936.6L1600.0,937.1L1600.7,938.5L1602.2,940.5L1603.7,943.0L1605.2,946.0L1606.7,948.4L1608.2,950.6L1609.7,952.2L1610.0,952.2L1611.2,952.6L1612.7,952.0L1614.2,949.6L1615.7,946.7L1617.2,940.7L1617.5,940.6L1618.7,932.8L1620.2,923.1L1621.7,910.3L1623.2,897.9L1624.7,886.3L1625.0,885.1L1626.2,878.3L1627.7,870.6L1629.2,864.7L1630.7,859.9L1632.2,855.9L1633.7,852.3L1634.0,852.3L1635.2,850.5L1636.7,848.6L1638.2,846.1L1639.8,845.4L1641.2,844.1L1642.5,845.5L1644.2,846.0L1645.8,849.4L1647.2,853.9L1648.8,860.4L1650.0,865.1L1651.8,874.2L1653.2,882.8L1654.8,892.7L1656.2,902.8L1657.5,910.1L1659.2,919.2L1660.8,925.9L1662.2,933.1L1663.8,938.4L1665.0,942.8L1666.8,947.4L1668.3,950.3L1669.8,953.4L1671.3,954.6L1672.8,956.2L1673.5,955.3L1674.3,955.6L1675.8,954.2L1677.3,952.2L1678.8,947.5L1680.3,943.2L1681.8,937.3L1682.5,935.2L1683.3,931.7L1684.8,923.1L1686.3,913.9L1687.8,905.1L1689.3,895.4L1690.8,884.6L1692.3,875.6L1692.5,875.3L1693.8,868.3L1695.3,861.4L1696.8,854.1L1698.3,846.9L1699.8,841.1L1701.3,834.7L1702.5,829.9L1704.3,823.3L1705.8,818.0L1707.3,813.4L1708.8,807.1L1710.3,803.3L1711.8,799.3L1712.5,797.4L1713.3,796.0L1714.8,792.7L1716.3,789.5L1717.8,787.2L1719.3,785.5L1720.8,784.9L1721.5,785.7L1722.3,785.7L1723.8,787.0L1725.3,790.3L1726.8,794.0L1728.3,798.5L1729.8,804.5L1730.0,805.4L1731.3,811.4L1732.8,819.8L1734.3,829.4L1735.8,840.7L1737.3,852.7L1737.5,854.7L1738.8,866.1L1740.3,879.3L1741.8,894.8L1743.3,908.7L1744.8,922.2L1745.0,925.2L1746.3,936.9L1747.8,951.0L1749.3,965.5L1750.8,979.4L1752.3,993.0L1752.5,994.8L1753.8,1007.1L1755.3,1020.2L1756.8,1033.1L1758.3,1046.3L1759.8,1057.6L1760.0,1059.4L1761.3,1069.7L1762.8,1078.8L1764.3,1089.1L1765.8,1098.5L1767.3,1106.3L1768.8,1114.4L1770.0,1119.6L1771.8,1127.4L1773.3,1134.3L1774.8,1139.4L1776.3,1144.0L1777.8,1149.2L1779.3,1153.7L1780.0,1155.1L1780.8,1156.8L1782.3,1159.5L1783.8,1162.9L1785.3,1166.1L1786.8,1168.7L1788.3,1170.7L1789.8,1172.7L1791.3,1174.1L1792.8,1174.5L1794.3,1174.9L1795.0,1174.8L1795.8,1174.4L1797.3,1174.7L1798.8,1172.2L1800.3,1170.3L1801.8,1169.0L1803.3,1166.1L1804.8,1162.8L1806.3,1160.0L1807.8,1156.3L1809.3,1152.7L1810.0,1150.1L1810.8,1147.6L1812.3,1142.9L1813.8,1136.6L1815.3,1130.7L1816.8,1122.9L1818.3,1114.2L1819.8,1106.1L1820.0,1105.2L1821.3,1096.4L1822.8,1086.5L1824.3,1075.2L1825.8,1062.6L1827.3,1051.9L1827.5,1050.4L1828.8,1039.8L1830.3,1027.7L1831.8,1016.0L1833.3,1003.5L1834.8,991.5L1835.0,990.3L1836.3,980.4L1837.8,967.5L1839.3,955.9L1840.8,945.5L1842.3,935.9L1842.5,934.3L1843.8,928.5L1845.3,920.0L1846.8,914.4L1848.3,908.4L1849.8,902.5L1851.3,898.5L1852.5,895.0L1854.3,889.7L1855.8,886.0L1857.3,883.5L1858.8,881.0L1860.3,877.8L1861.8,875.9L1862.5,875.3L1863.3,874.7L1864.8,872.9L1866.3,871.6L1867.8,870.9L1869.3,870.3L1870.8,869.2L1872.3,869.0L1873.8,869.5L1874.0,869.2L1875.3,869.6L1876.8,870.0L1878.3,870.3L1879.8,870.3L1881.3,872.1L1882.8,872.3L1884.3,874.1L1885.8,875.5L1887.3,877.3L1887.5,877.5L1888.8,879.3L1890.3,880.6L1891.8,883.8L1893.3,885.8L1894.8,889.3L1896.3,892.0L1897.8,894.7L1899.3,897.6L1900.0,899.1L1900.8,902.4L1902.3,905.6L1903.8,910.6L1905.3,915.4L1906.8,921.1L1908.3,927.5L1909.8,935.0L1910.0,935.2L1911.3,942.2L1912.8,950.5L1914.3,959.2L1915.8,969.4L1917.3,978.9L1917.5,980.5L1918.8,989.4L1920.3,1000.0L1921.8,1010.2L1923.3,1020.8L1924.8,1029.1L1925.0,1030.5L1926.3,1037.2L1927.8,1042.5L1929.3,1048.8L1930.8,1052.9L1932.3,1055.2L1932.5,1055.2L1933.8,1056.0L1935.3,1055.8L1936.8,1054.6L1938.3,1055.0L1939.8,1053.4L1941.3,1053.2L1942.5,1053.2L1944.3,1052.5L1945.8,1052.6L1947.3,1053.6L1948.8,1053.2L1950.3,1052.5L1951.8,1052.2L1953.3,1051.1L1954.8,1048.0L1955.0,1047.6L1956.3,1043.7L1957.8,1037.6L1959.3,1028.7L1960.8,1019.5L1962.4,1010.8L1962.5,1009.9L1963.9,1001.9L1965.4,992.2L1966.9,983.7L1968.4,976.8L1969.9,970.6L1970.0,969.6L1971.4,966.1L1972.9,963.7L1974.4,963.2L1975.0,963.1L1975.9,963.3L1977.4,964.6L1978.9,968.2L1980.4,972.3L1981.0,975.4L1981.9,978.2L1983.4,987.6L1984.9,996.7L1986.4,1006.6L1987.5,1015.2L1987.9,1017.5L1989.4,1026.7L1990.9,1036.1L1992.4,1043.4L1993.9,1051.0L1995.0,1055.0L1995.4,1056.9L1996.9,1060.5L1998.4,1064.6L1999.9,1065.8L2001.4,1067.4L2001.5,1067.1L2002.9,1065.6L2004.4,1062.8L2005.9,1056.5L2007.4,1048.6L2008.9,1038.9L2010.0,1029.6L2010.4,1027.1L2011.9,1010.7L2013.4,990.9L2014.9,972.1L2015.0,970.1L2016.4,953.1L2017.9,933.5L2019.4,915.7L2020.0,910.8L2020.9,901.9L2022.4,891.9L2023.9,881.9L2025.0,875.3L2025.4,873.0L2026.9,865.5L2028.4,856.8L2029.9,851.1L2031.4,844.4L2032.5,840.2L2032.9,838.5L2034.4,833.6L2035.9,828.7L2037.4,824.4L2038.9,820.4L2040.4,816.3L2041.9,812.9L2043.4,809.2L2044.9,804.9L2045.0,805.0L2046.4,801.9L2047.9,797.4L2049.4,793.4L2050.9,788.4L2052.4,784.1L2053.9,780.8L2055.4,776.5L2056.9,773.2L2058.4,769.2L2059.9,766.2L2060.0,766.2L2061.4,763.0L2062.9,760.8L2064.4,758.6L2065.9,757.3L2067.4,754.5L2068.9,752.2L2070.4,750.5L2071.9,749.3L2073.4,746.1L2074.9,744.8L2076.4,742.4L2077.9,739.7L2079.4,736.8L2080.0,735.2L2080.9,732.7L2082.4,729.0L2083.9,725.0L2085.4,720.6L2086.9,715.7L2088.4,712.0L2089.9,708.2L2091.4,703.7L2092.9,699.5L2094.4,696.0L2095.0,695.6L2095.9,693.6L2097.4,690.8L2098.9,688.5L2100.4,686.8L2101.9,684.8L2103.4,683.9L2104.9,682.3L2106.4,680.5L2107.9,678.7L2109.4,677.7L2110.0,676.5L2110.9,676.5L2112.4,673.7L2113.9,671.7L2115.4,669.8L2116.9,667.9L2118.4,665.7L2119.9,663.8L2121.4,662.0L2122.9,660.0L2124.4,659.2L2125.0,658.6L2125.9,658.4L2127.4,657.1L2128.9,657.5L2130.4,656.8L2131.9,656.3L2133.4,656.5L2134.9,656.4L2136.4,656.0L2137.9,656.6L2139.4,656.8L2140.9,656.6L2142.0,656.6L2142.4,657.0L2143.9,657.8L2145.4,658.4L2146.9,660.7L2148.4,662.8L2149.9,665.5L2151.4,668.8L2152.5,672.7L2152.9,673.2L2154.4,679.0L2155.9,686.2L2157.4,694.8L2158.9,703.2L2160.0,709.3L2160.4,712.6L2161.9,723.0L2163.4,733.6L2164.9,744.1L2166.4,755.3L2167.5,762.3L2167.9,765.4L2169.4,775.8L2170.9,785.1L2172.4,795.1L2173.9,803.3L2175.0,807.5L2175.4,809.8L2176.9,814.8L2178.4,818.8L2179.9,823.0L2181.4,824.8L2182.9,826.8L2184.4,827.5L2185.0,826.9L2185.9,827.2L2187.4,825.7L2188.9,823.7L2190.4,821.8L2191.9,819.4L2193.4,817.6L2194.9,815.0L2195.0,814.1L2196.4,812.7L2197.9,811.1L2199.4,809.9L2200.9,808.6L2202.0,809.1L2202.4,807.9L2203.9,809.8L2205.4,810.7L2206.9,812.5L2208.4,816.0L2209.9,820.3L2210.0,820.2L2211.4,823.5L2212.9,830.1L2214.4,836.1L2215.9,843.4L2217.4,849.1L2217.5,850.1L2218.9,856.7L2220.4,863.5L2221.9,870.2L2223.4,877.4L2224.9,884.7L2225.0,885.2L2226.4,891.2L2227.9,897.6L2229.4,904.2L2230.9,909.7L2232.4,915.8L2232.5,915.3L2233.9,920.1L2235.4,924.3L2236.9,928.7L2238.4,931.3L2239.9,934.7L2240.0,934.5L2241.4,937.2L2242.9,938.0L2244.0,939.5L2244.4,939.3L2245.9,938.7L2247.4,936.0L2248.9,932.6L2250.0,930.4L2250.4,928.5L2251.9,924.9L2253.4,918.6L2255.0,912.0L2256.5,904.5L2257.5,900.4L2258.0,897.9L2259.5,889.8L2261.0,881.7L2262.5,873.9L2264.0,866.4L2265.0,860.0L2265.5,857.5L2267.0,849.4L2268.5,841.4L2270.0,833.7L2271.5,825.4L2272.5,819.7L2273.0,818.0L2274.5,809.2L2276.0,801.4L2277.5,793.3L2279.0,785.0L2280.0,779.8L2280.5,777.1L2282.0,769.6L2283.5,762.0L2285.0,755.1L2286.5,747.0L2288.0,739.9L2289.5,732.8L2291.0,726.2L2292.5,719.9L2292.5,720.3L2294.0,714.9L2295.5,709.3L2297.0,704.2L2298.5,699.3L2300.0,694.1L2301.5,690.3L2303.0,686.2L2304.5,682.0L2305.0,680.3L2306.0,677.3L2307.5,672.2L2309.0,668.0L2310.5,664.4L2312.0,659.4L2313.5,655.3L2315.0,651.6L2316.5,647.1L2317.5,644.8L2318.0,643.3L2319.5,639.8L2321.0,636.6L2322.5,633.3L2324.0,630.5L2325.5,627.8L2327.0,625.5L2327.5,625.6L2328.5,623.8L2330.0,623.0L2331.5,623.3L2332.5,622.6L2333.0,623.0L2334.5,624.4L2336.0,626.6L2337.5,630.5L2339.0,636.0L2340.0,641.0L2340.5,642.0L2342.0,651.6L2343.5,661.4L2345.0,669.7L2345.0,669.5L2346.5,675.4L2348.0,680.8L2349.5,682.3L2350.0,683.2L2351.0,680.8L2352.5,674.4L2354.0,666.4L2355.0,660.4L2355.5,656.9L2357.0,646.9L2358.5,638.1L2360.0,627.9L2361.5,619.7L2362.5,614.8L2363.0,613.1L2364.5,607.5L2366.0,603.8L2367.5,599.3L2369.0,596.4L2370.0,594.4L2370.5,594.4L2372.0,592.1L2373.5,589.7L2375.0,589.0L2376.5,587.1L2378.0,587.0L2379.5,586.5L2380.0,586.3L2381.0,585.9L2382.5,587.6L2384.0,588.4L2385.5,589.4L2387.0,591.1" stroke="#0080FF" stroke-width="12.5"/>
<path class="c" d="M918.0,642.6L919.5,642.9L921.0,643.0L922.5,643.1L924.0,643.9L925.0,643.3L925.5,644.4L927.0,643.6L928.5,644.8L930.0,645.3L931.5,644.7L933.0,645.0L934.5,645.1L936.0,645.8L937.5,644.3L939.0,644.6L940.5,642.9L942.0,642.7L943.5,643.0L945.0,642.7L946.5,642.2L948.0,641.8L949.5,642.2L951.0,640.3L952.5,640.5L954.0,640.2L955.5,641.8L957.0,641.3L958.5,642.0L960.0,641.1L961.5,642.4L963.0,641.3L964.5,642.1L965.0,643.0L966.0,643.1L967.5,644.0L969.0,646.1L970.5,646.2L972.0,646.4L973.5,648.1L975.0,650.0L976.5,650.7L977.5,650.0L978.0,649.5L979.5,649.2L981.0,648.3L982.5,648.5L984.0,645.6L985.5,646.7L987.0,644.4L988.5,642.2L990.0,643.8L991.5,642.0L993.0,640.9L994.5,642.2L996.0,642.2L997.5,643.1L999.0,644.9L1000.5,646.5L1002.0,645.8L1003.5,647.1L1005.0,647.0L1006.5,647.6L1008.0,648.6L1009.5,650.1L1011.0,651.8L1012.5,652.2L1014.0,652.5L1015.0,652.3L1015.5,653.1L1017.0,652.0L1018.5,652.2L1020.0,651.0L1021.5,651.9L1023.0,650.9L1024.5,651.0L1026.0,651.7L1027.5,650.7L1029.0,650.2L1030.5,650.5L1032.0,648.2L1033.5,649.7L1035.0,650.0L1036.5,648.9L1038.0,650.1L1039.5,648.9L1041.0,650.1L1042.5,649.2L1044.0,650.6L1045.5,650.3L1047.0,650.6L1048.5,652.4L1050.0,650.5L1051.5,650.9L1053.0,652.6L1054.5,654.1L1056.0,652.6L1057.5,654.5L1059.0,655.7L1060.0,655.6L1060.5,654.0L1062.0,654.4L1063.5,656.0L1065.0,656.1L1066.5,656.1L1068.0,657.4L1069.5,659.0L1071.0,659.5L1072.5,659.9L1074.0,660.7L1075.5,660.8L1077.0,661.5L1077.5,662.7L1078.5,663.9L1080.1,664.4L1081.6,666.2L1083.1,667.8L1084.6,670.4L1086.1,673.1L1087.6,675.9L1089.1,678.3L1090.6,681.0L1092.1,683.4L1092.5,684.4L1093.6,686.7L1095.1,690.1L1096.6,694.9L1098.1,699.3L1099.6,704.0L1100.0,705.4L1101.1,707.7L1102.6,713.8L1104.1,719.2L1105.6,724.9L1107.1,732.2L1108.6,738.8L1110.0,744.7L1111.6,752.5L1113.1,760.8L1114.6,768.7L1116.1,775.6L1117.6,781.6L1119.1,786.2L1120.0,788.0L1120.6,788.4L1122.1,789.5L1123.6,788.9L1125.1,789.0L1126.6,787.0L1127.5,785.1L1128.1,783.7L1129.6,779.5L1131.1,773.2L1132.6,766.9L1134.1,760.2L1135.0,756.9L1135.6,754.6L1137.1,750.0L1138.6,744.8L1140.1,740.9L1141.6,737.8L1142.5,735.2L1143.1,734.4L1144.6,732.7L1146.1,731.2L1147.6,730.5L1149.1,730.0L1150.6,729.9L1152.1,729.3L1152.5,730.1L1153.6,729.6L1155.1,730.6L1156.6,731.9L1158.1,733.6L1159.6,735.0L1161.1,737.6L1162.5,740.4L1164.1,744.1L1165.6,749.1L1167.1,754.9L1168.6,761.2L1170.1,768.6L1171.6,775.3L1172.5,779.5L1173.1,783.6L1174.6,791.2L1176.1,799.5L1177.6,810.4L1179.1,820.4L1180.6,832.7L1182.1,846.6L1182.5,849.9L1183.6,861.6L1185.1,879.2L1186.6,899.5L1188.1,920.9L1189.6,943.7L1190.0,949.9L1191.1,967.0L1192.6,992.5L1194.1,1018.8L1195.6,1044.7L1197.1,1068.5L1197.5,1075.1L1198.6,1092.3L1200.1,1114.1L1201.6,1135.8L1203.1,1153.7L1204.6,1171.0L1205.0,1174.9L1206.1,1184.9L1207.6,1197.9L1209.1,1209.0L1210.6,1219.6L1212.1,1228.6L1213.6,1237.0L1215.0,1244.2L1216.6,1252.8L1218.1,1260.8L1219.6,1266.5L1221.1,1270.0L1222.5,1270.5L1224.1,1267.0L1225.6,1259.4L1227.1,1248.9L1228.6,1237.1L1230.0,1224.6L1231.6,1210.8L1233.1,1195.6L1234.6,1180.4L1236.1,1164.3L1237.5,1149.4L1239.1,1132.9L1240.6,1117.6L1242.1,1102.6L1243.6,1087.0L1245.0,1074.9L1246.6,1061.8L1248.1,1050.6L1249.6,1040.6L1251.1,1031.9L1252.5,1024.4L1254.1,1018.5L1255.6,1012.6L1257.1,1008.4L1258.6,1005.1L1260.1,1002.4L1261.0,1002.7L1261.6,1002.7L1263.1,1003.4L1264.6,1005.6L1266.1,1008.3L1267.6,1012.6L1269.1,1016.8L1270.0,1019.3L1270.6,1021.8L1272.1,1028.3L1273.6,1034.1L1275.1,1040.8L1276.6,1047.8L1278.1,1055.9L1279.6,1063.1L1280.0,1064.9L1281.1,1070.4L1282.6,1078.5L1284.1,1085.4L1285.6,1092.6L1287.1,1100.8L1288.6,1108.5L1290.0,1115.8L1291.6,1123.6L1293.1,1131.1L1294.6,1140.2L1296.1,1147.3L1297.6,1155.4L1299.1,1161.1L1300.0,1165.1L1300.6,1167.2L1302.1,1172.7L1303.6,1177.5L1305.1,1183.2L1306.6,1186.8L1308.1,1190.5L1309.6,1192.6L1311.1,1194.0L1312.5,1194.7L1314.1,1195.0L1315.6,1194.5L1317.1,1193.0L1318.6,1191.7L1320.1,1190.0L1321.6,1186.7L1323.1,1183.7L1324.6,1181.0L1325.0,1179.8L1326.1,1177.0L1327.6,1172.2L1329.1,1168.7L1330.6,1163.6L1332.1,1158.2L1333.6,1153.6L1335.0,1150.0L1336.6,1145.3L1338.1,1142.2L1339.6,1138.8L1341.1,1135.3L1342.6,1132.7L1344.2,1129.0L1345.7,1128.0L1347.2,1125.5L1347.5,1125.4L1348.7,1123.4L1350.2,1122.5L1351.7,1120.7L1353.2,1120.1L1354.7,1118.6L1356.2,1118.3L1357.7,1117.2L1359.2,1117.3L1360.0,1117.3L1360.7,1117.7L1362.2,1117.3L1363.7,1118.0L1365.2,1118.8L1366.7,1120.0L1368.2,1120.9L1369.7,1122.2L1371.2,1123.6L1372.7,1125.7L1374.2,1127.1L1375.0,1127.4L1375.7,1128.1L1377.2,1130.2L1378.7,1132.2L1380.2,1133.6L1381.7,1136.8L1383.2,1139.7L1384.7,1142.7L1386.2,1146.9L1387.5,1149.4L1389.2,1155.1L1390.7,1160.8L1392.2,1166.8L1393.7,1173.6L1395.2,1180.3L1396.7,1186.9L1398.2,1192.9L1399.7,1198.6L1400.0,1200.3L1401.2,1203.6L1402.7,1208.8L1404.2,1213.4L1405.7,1217.3L1407.2,1219.8L1408.7,1220.4L1409.0,1221.3L1410.2,1220.2L1411.7,1218.0L1413.2,1215.3L1414.7,1211.0L1416.2,1205.7L1417.7,1199.9L1419.2,1193.9L1420.0,1190.1L1420.7,1187.5L1422.2,1180.0L1423.7,1172.6L1425.2,1164.1L1426.7,1156.3L1428.2,1148.6L1429.7,1141.3L1430.0,1140.1L1431.2,1134.2L1432.7,1128.0L1434.2,1121.3L1435.7,1115.5L1437.2,1110.2L1438.7,1104.2L1440.2,1098.7L1441.7,1093.1L1442.5,1090.4L1443.2,1087.4L1444.7,1081.4L1446.2,1076.4L1447.7,1071.0L1449.2,1065.6L1450.7,1060.1L1452.2,1054.0L1453.7,1048.9L1455.0,1044.6L1456.7,1039.4L1458.2,1034.8L1459.7,1029.8L1461.2,1026.3L1462.7,1023.4L1464.2,1020.5L1465.7,1019.4L1467.2,1019.8L1467.5,1019.7L1468.7,1021.1L1470.2,1025.1L1471.7,1029.1L1473.2,1033.9L1474.7,1039.6L1475.0,1039.9L1476.2,1042.6L1477.7,1046.8L1479.2,1049.4L1480.7,1051.3L1482.2,1054.9L1483.7,1057.2L1485.0,1059.3L1486.7,1064.3L1488.2,1067.9L1489.7,1071.9L1491.2,1077.0L1492.7,1082.5L1494.2,1087.0L1495.7,1093.2L1497.2,1098.7L1497.5,1099.2L1498.7,1104.4L1500.2,1110.9L1501.7,1118.6L1503.2,1124.6L1504.7,1129.9L1506.2,1135.8L1507.5,1140.5L1509.2,1144.2L1510.7,1147.7L1512.2,1150.6L1513.7,1153.1L1515.0,1154.1L1516.7,1156.7L1518.2,1159.7L1519.7,1160.9L1521.2,1162.3L1522.7,1163.4L1524.0,1163.6L1525.7,1163.4L1527.2,1162.6L1528.7,1161.3L1530.2,1159.7L1531.7,1157.2L1533.2,1155.5L1534.7,1152.9L1536.2,1150.1L1537.7,1147.4L1539.2,1145.2L1540.0,1145.0L1540.7,1144.0L1542.2,1143.3L1543.7,1141.3L1545.2,1139.8L1546.7,1138.5L1548.2,1137.8L1549.7,1136.5L1551.2,1136.2L1552.7,1135.8L1554.2,1135.8L1555.0,1134.2L1555.7,1135.1L1557.2,1134.7L1558.7,1135.1L1560.2,1135.7L1561.7,1136.7L1563.2,1138.3L1564.7,1140.4L1566.2,1142.6L1567.7,1145.1L1569.2,1148.6L1570.0,1150.0L1570.7,1152.4L1572.2,1158.0L1573.7,1164.2L1575.2,1171.5L1576.7,1179.6L1578.2,1186.5L1579.7,1194.1L1580.0,1195.1L1581.2,1200.4L1582.7,1206.8L1584.2,1213.3L1585.7,1219.0L1587.2,1223.2L1588.7,1225.5L1590.0,1226.9L1591.7,1226.7L1593.2,1223.9L1594.7,1220.4L1596.2,1215.4L1597.7,1209.7L1599.2,1202.7L1600.0,1200.4L1600.7,1196.2L1602.2,1189.0L1603.7,1180.7L1605.2,1172.7L1606.7,1163.2L1608.2,1155.0L1609.7,1147.0L1610.0,1144.6L1611.2,1138.8L1612.7,1131.4L1614.2,1123.1L1615.7,1118.0L1617.2,1112.1L1618.7,1107.5L1620.0,1105.2L1621.7,1102.6L1623.2,1102.6L1624.7,1102.5L1626.2,1101.1L1627.7,1101.9L1629.2,1101.8L1630.7,1100.9L1632.2,1100.4L1632.5,1099.9L1633.7,1098.4L1635.2,1095.6L1636.7,1092.9L1638.2,1088.9L1639.8,1086.2L1641.2,1083.9L1642.5,1084.4L1644.2,1086.0L1645.8,1089.8L1647.2,1094.2L1648.8,1100.5L1650.0,1105.0L1651.8,1114.0L1653.2,1122.1L1654.8,1129.9L1656.2,1136.0L1657.5,1139.7L1659.2,1142.6L1660.8,1144.5L1662.2,1143.7L1663.8,1144.0L1665.2,1144.3L1666.8,1144.1L1668.3,1144.3L1669.8,1144.4L1670.0,1144.0L1671.3,1145.7L1672.8,1150.1L1674.3,1153.2L1675.8,1157.7L1677.3,1162.1L1678.8,1166.3L1680.0,1170.5L1681.8,1174.1L1683.3,1177.2L1684.8,1180.7L1686.3,1182.4L1687.8,1184.5L1689.3,1184.8L1690.0,1185.5L1690.8,1185.3L1692.3,1183.0L1693.8,1180.8L1695.3,1176.6L1696.8,1171.9L1698.3,1166.5L1699.8,1160.2L1700.0,1160.2L1701.3,1154.4L1702.8,1146.3L1704.3,1138.3L1705.8,1130.6L1707.3,1122.7L1708.8,1115.7L1710.0,1109.9L1711.8,1103.7L1713.3,1098.4L1714.8,1094.0L1716.3,1090.2L1717.8,1087.0L1719.3,1083.5L1720.8,1082.0L1722.3,1081.7L1722.5,1081.0L1723.8,1081.5L1725.3,1082.6L1726.8,1083.2L1728.3,1085.1L1729.8,1087.0L1731.3,1090.5L1732.8,1093.9L1734.3,1097.4L1735.0,1100.3L1735.8,1102.2L1737.3,1107.9L1738.8,1115.1L1740.3,1121.7L1741.8,1130.8L1743.3,1139.9L1744.8,1148.7L1745.0,1149.6L1746.3,1158.4L1747.8,1168.8L1749.3,1180.2L1750.8,1192.1L1752.3,1203.8L1752.5,1204.8L1753.8,1214.2L1755.3,1226.7L1756.8,1238.2L1758.3,1249.0L1759.8,1258.8L1760.0,1259.9L1761.3,1268.1L1762.8,1276.7L1764.3,1284.1L1765.8,1292.2L1767.3,1300.0L1768.8,1306.3L1770.0,1310.7L1771.8,1316.1L1773.3,1320.1L1774.8,1324.6L1776.3,1329.4L1777.8,1331.9L1779.3,1335.4L1780.8,1337.4L1782.3,1339.5L1783.8,1341.1L1785.3,1341.4L1786.0,1341.6L1786.8,1341.9L1788.3,1341.6L1789.8,1339.4L1791.3,1337.4L1792.8,1334.1L1794.3,1330.8L1795.8,1327.1L1797.3,1320.8L1798.8,1315.7L1800.0,1309.7L1801.8,1300.0L1803.3,1290.0L1804.8,1279.5L1806.3,1268.6L1807.5,1260.7L1809.3,1246.4L1810.8,1236.4L1812.3,1225.4L1813.8,1216.3L1815.0,1209.8L1816.8,1201.7L1818.3,1195.9L1819.8,1190.3L1821.3,1186.7L1822.8,1183.9L1824.3,1180.9L1825.0,1180.8L1825.8,1179.1L1827.3,1177.0L1828.8,1176.6L1830.3,1174.9L1831.8,1175.5L1833.3,1174.8L1834.8,1175.2L1835.0,1174.9L1836.3,1175.8L1837.8,1177.7L1839.3,1180.0L1840.8,1182.2L1842.3,1184.4L1843.8,1187.5L1845.0,1189.9L1846.8,1193.1L1848.3,1195.6L1849.8,1197.6L1851.3,1200.3L1852.8,1201.5L1854.3,1202.4L1855.0,1202.5L1855.8,1202.6L1857.3,1201.7L1858.8,1200.4L1860.3,1199.2L1861.8,1197.7L1863.3,1196.1L1864.8,1194.8L1866.3,1193.3L1867.8,1191.9L1869.3,1190.5L1870.8,1189.9L1872.3,1189.8L1872.5,1188.7L1873.8,1188.7L1875.3,1189.7L1876.8,1191.3L1878.3,1192.5L1879.8,1195.1L1881.3,1197.3L1882.8,1201.0L1884.3,1204.1L1885.0,1204.8L1885.8,1206.3L1887.3,1210.7L1888.8,1215.1L1890.3,1220.3L1891.8,1224.9L1893.3,1228.9L1894.8,1234.0L1895.0,1234.9L1896.3,1239.2L1897.8,1243.2L1899.3,1248.6L1900.8,1251.5L1902.3,1255.3L1903.8,1258.2L1905.3,1259.6L1906.0,1259.4L1906.8,1260.0L1908.3,1258.9L1909.8,1258.0L1911.3,1255.3L1912.8,1252.3L1914.3,1249.3L1915.8,1245.2L1917.3,1241.3L1918.8,1238.1L1920.0,1234.8L1921.8,1229.8L1923.3,1225.7L1924.8,1221.6L1926.3,1216.9L1927.8,1212.7L1929.3,1209.1L1930.8,1205.1L1932.3,1201.4L1933.8,1198.0L1935.0,1194.9L1936.8,1191.2L1938.3,1187.7L1939.8,1185.9L1941.3,1183.0L1942.8,1181.3L1944.3,1180.0L1945.8,1178.7L1947.3,1178.9L1947.5,1179.3L1948.8,1179.2L1950.3,1180.2L1951.8,1183.0L1953.3,1185.6L1954.8,1188.9L1956.3,1192.6L1957.5,1195.3L1959.3,1200.3L1960.8,1206.3L1962.4,1211.3L1963.9,1216.3L1965.0,1220.5L1965.4,1221.1L1966.9,1225.1L1968.4,1227.9L1969.9,1231.4L1971.4,1232.7L1972.5,1232.7L1972.9,1233.4L1974.4,1230.3L1975.9,1226.3L1977.4,1221.0L1978.9,1215.2L1980.0,1209.8L1980.4,1208.8L1981.9,1201.4L1983.4,1193.5L1984.9,1184.0L1986.4,1176.7L1987.5,1170.3L1987.9,1168.7L1989.4,1160.0L1990.9,1153.1L1992.4,1145.5L1993.9,1138.1L1995.4,1132.7L1996.9,1126.9L1997.5,1124.8L1998.4,1122.6L1999.9,1119.4L2001.4,1116.0L2002.9,1112.4L2004.4,1110.6L2005.9,1109.2L2007.4,1107.7L2007.5,1108.1L2008.9,1109.2L2010.4,1109.2L2011.9,1110.2L2013.4,1113.0L2014.9,1115.4L2016.4,1117.5L2017.5,1119.3L2017.9,1120.2L2019.4,1125.9L2020.9,1130.7L2022.4,1136.5L2023.9,1141.3L2025.0,1145.2L2025.4,1145.7L2026.9,1150.8L2028.4,1153.6L2029.9,1157.5L2031.4,1159.8L2032.9,1161.8L2034.0,1161.7L2034.4,1162.0L2035.9,1160.7L2037.4,1158.3L2038.9,1153.7L2040.4,1149.7L2041.9,1142.9L2042.5,1140.7L2043.4,1135.7L2044.9,1125.5L2046.4,1114.9L2047.9,1102.1L2049.4,1090.3L2050.0,1084.6L2050.9,1078.3L2052.4,1065.0L2053.9,1053.1L2055.4,1041.3L2056.9,1033.6L2057.5,1030.2L2058.4,1025.6L2059.9,1021.2L2061.4,1017.6L2062.9,1015.7L2064.0,1015.2L2064.4,1015.0L2065.9,1016.3L2067.4,1020.1L2068.9,1023.9L2070.4,1028.1L2071.9,1033.7L2072.5,1035.4L2073.4,1038.2L2074.9,1042.7L2076.4,1046.7L2077.9,1051.4L2079.4,1054.0L2080.9,1056.0L2082.4,1057.6L2082.5,1057.8L2083.9,1056.7L2085.4,1056.1L2086.9,1052.7L2088.4,1050.3L2089.9,1045.1L2090.0,1044.3L2091.4,1039.9L2092.9,1031.4L2094.4,1023.3L2095.9,1016.4L2097.4,1009.9L2097.5,1009.6L2098.9,1005.3L2100.4,1002.3L2101.9,999.8L2103.4,999.1L2104.0,999.0L2104.9,1000.1L2106.4,1001.8L2107.9,1003.7L2109.4,1008.0L2110.9,1011.8L2112.4,1015.5L2112.5,1015.0L2113.9,1018.7L2115.4,1021.5L2116.9,1024.3L2118.4,1027.0L2119.9,1029.4L2120.0,1029.9L2121.4,1031.8L2122.9,1032.7L2124.4,1032.5L2125.9,1033.4L2127.4,1033.8L2128.9,1034.3L2130.4,1034.8L2131.9,1034.3L2133.4,1034.6L2134.9,1035.6L2135.0,1034.6L2136.4,1035.2L2137.9,1036.4L2139.4,1036.2L2140.9,1037.4L2142.4,1038.2L2143.9,1040.7L2145.4,1041.7L2146.9,1044.0L2147.5,1044.8L2148.4,1046.4L2149.9,1050.3L2151.4,1053.8L2152.9,1056.6L2154.4,1061.2L2155.9,1065.4L2157.4,1069.3L2157.5,1069.9L2158.9,1074.4L2160.4,1078.1L2161.9,1082.3L2163.4,1086.9L2164.9,1090.9L2166.4,1094.8L2167.9,1100.4L2169.4,1103.6L2170.0,1104.4L2170.9,1107.5L2172.4,1111.4L2173.9,1114.7L2175.4,1117.9L2176.9,1119.6L2178.4,1122.1L2179.9,1122.3L2180.0,1121.8L2181.4,1122.3L2182.9,1120.1L2184.4,1117.4L2185.9,1113.9L2187.4,1111.0L2188.9,1106.8L2190.4,1103.1L2191.9,1101.2L2192.5,1099.6L2193.4,1098.2L2194.9,1097.2L2196.4,1095.8L2197.9,1093.6L2199.4,1094.3L2200.9,1093.5L2201.5,1093.8L2202.4,1094.8L2203.9,1097.2L2205.4,1099.3L2206.9,1103.4L2208.4,1106.3L2209.9,1109.9L2210.0,1110.1L2211.4,1113.3L2212.9,1117.5L2214.4,1120.9L2215.9,1125.1L2217.4,1127.5L2217.5,1127.6L2218.9,1129.8L2220.4,1131.7L2221.9,1131.7L2223.4,1132.7L2224.9,1133.2L2225.0,1132.6L2226.4,1132.6L2227.9,1131.2L2229.4,1130.8L2230.9,1129.4L2232.4,1127.3L2233.9,1125.7L2235.0,1125.0L2235.4,1124.9L2236.9,1122.6L2238.4,1120.8L2239.9,1117.8L2241.4,1114.1L2242.9,1110.9L2244.4,1106.2L2245.0,1105.4L2245.9,1102.2L2247.4,1095.4L2248.9,1087.9L2250.4,1080.0L2251.9,1072.3L2252.5,1069.7L2253.4,1064.4L2255.0,1057.4L2256.5,1050.6L2258.0,1042.1L2259.5,1032.8L2260.0,1029.8L2261.0,1023.8L2262.5,1013.2L2264.0,1002.4L2265.5,990.2L2267.0,979.1L2267.5,975.8L2268.5,968.6L2270.0,958.4L2271.5,948.0L2273.0,937.4L2274.5,928.5L2275.0,924.7L2276.0,919.1L2277.5,910.4L2279.0,901.8L2280.5,894.7L2282.0,886.7L2282.5,885.2L2283.5,880.7L2285.0,874.9L2286.5,868.8L2288.0,864.6L2289.5,860.9L2290.0,859.8L2291.0,858.6L2292.5,855.5L2294.0,854.8L2295.5,853.9L2297.0,852.9L2298.5,851.4L2300.0,850.0L2301.5,848.7L2302.5,847.6L2303.0,846.5L2304.5,843.3L2306.0,840.4L2307.5,836.6L2309.0,832.4L2310.5,828.6L2312.0,825.8L2312.5,825.2L2313.5,823.2L2315.0,820.0L2316.5,818.9L2318.0,816.8L2319.5,815.5L2321.0,814.0L2322.5,811.8L2324.0,810.6L2325.0,810.1L2325.5,809.3L2327.0,808.4L2328.5,808.4L2330.0,808.1L2331.5,807.7L2332.5,807.0L2333.0,807.9L2334.5,808.3L2336.0,811.0L2337.5,815.2L2339.0,820.0L2340.0,825.4L2340.5,827.8L2342.0,839.0L2343.5,852.1L2345.0,866.5L2346.0,874.5L2346.5,878.8L2348.0,889.1L2349.5,897.2L2351.0,900.1L2351.0,899.9L2352.5,896.6L2354.0,888.9L2355.5,879.3L2356.0,874.5L2357.0,868.1L2358.5,856.6L2360.0,845.5L2361.5,835.6L2362.5,830.0L2363.0,828.7L2364.5,822.9L2366.0,819.7L2367.5,816.1L2369.0,815.8L2370.5,814.2L2372.0,815.9L2372.5,815.7L2373.5,817.4L2375.0,821.1L2376.5,825.3L2378.0,829.7L2379.5,832.0L2380.0,832.9L2381.0,832.3L2382.5,831.7L2384.0,829.4L2385.5,826.8L2387.0,823.8" stroke="#00B000" stroke-width="12.5"/>
<path class="c" d="M918.0,972.8L919.5,970.8L921.0,970.9L922.5,971.3L924.0,971.1L925.0,970.8L925.5,971.6L927.0,970.0L928.5,971.6L930.0,972.0L931.5,971.5L933.0,970.2L934.5,969.6L936.0,970.9L937.5,970.3L939.0,968.4L940.5,970.1L942.0,970.1L943.5,970.7L945.0,969.9L946.5,969.2L948.0,970.8L949.5,970.4L951.0,969.5L952.5,970.5L954.0,970.6L955.5,971.2L957.0,971.1L958.5,972.0L960.0,971.1L961.5,972.3L963.0,973.1L964.5,971.7L966.0,971.3L967.5,971.7L969.0,972.5L970.5,971.2L972.0,973.9L973.5,973.3L975.0,972.3L976.5,973.9L978.0,973.2L979.5,973.0L981.0,973.4L982.5,973.4L984.0,973.5L985.5,974.3L987.0,973.3L988.5,973.6L990.0,972.3L991.5,973.1L993.0,975.1L994.5,974.1L996.0,974.9L997.5,974.8L999.0,973.9L1000.5,975.2L1002.0,975.0L1003.5,974.4L1005.0,974.5L1006.5,976.6L1008.0,974.9L1009.5,975.9L1011.0,976.2L1012.5,976.3L1014.0,975.1L1015.0,975.7L1015.5,976.1L1017.0,976.0L1018.5,975.3L1020.0,976.6L1021.5,976.8L1023.0,976.9L1024.5,978.2L1026.0,977.1L1027.5,979.2L1029.0,977.5L1030.5,978.8L1032.0,980.8L1033.5,980.1L1035.0,979.1L1036.5,980.9L1038.0,980.3L1039.5,979.5L1041.0,980.1L1042.5,982.3L1044.0,981.1L1045.0,981.8L1045.5,981.5L1047.0,981.2L1048.5,983.2L1050.0,984.8L1051.5,982.8L1053.0,983.8L1054.5,985.2L1056.0,984.7L1057.5,987.0L1059.0,985.7L1060.5,986.5L1062.0,988.6L1063.5,988.9L1065.0,990.3L1066.5,991.3L1068.0,992.4L1069.5,993.8L1071.0,995.2L1072.5,996.6L1074.0,1000.0L1075.5,1002.5L1077.0,1003.7L1077.5,1005.2L1078.5,1007.7L1080.1,1010.5L1081.6,1014.9L1083.1,1019.8L1084.6,1024.6L1086.1,1029.6L1087.5,1035.1L1089.1,1040.6L1090.6,1046.6L1092.1,1053.9L1093.6,1060.6L1095.1,1067.9L1096.6,1075.3L1097.5,1080.3L1098.1,1083.7L1099.6,1091.4L1101.1,1100.9L1102.6,1108.8L1104.1,1116.3L1105.0,1120.3L1105.6,1122.2L1107.1,1127.7L1108.6,1132.0L1110.1,1136.6L1111.6,1139.3L1113.1,1141.9L1114.6,1141.6L1115.0,1142.3L1116.1,1143.0L1117.6,1142.5L1119.1,1141.5L1120.6,1141.2L1122.1,1139.3L1123.6,1137.3L1125.1,1133.8L1126.6,1132.2L1127.5,1130.1L1128.1,1128.9L1129.6,1124.1L1131.1,1120.5L1132.6,1115.6L1134.1,1111.2L1135.6,1105.5L1137.1,1102.5L1137.5,1101.8L1138.6,1100.4L1140.1,1098.1L1141.6,1095.9L1143.1,1095.5L1144.6,1095.5L1146.1,1094.8L1147.5,1094.7L1149.1,1096.7L1150.6,1097.9L1152.1,1101.7L1153.6,1104.7L1155.0,1109.2L1156.6,1115.9L1158.1,1123.0L1159.6,1131.5L1161.1,1140.8L1162.5,1150.1L1164.1,1161.5L1165.6,1173.3L1167.1,1186.6L1168.5,1200.0L1170.1,1216.9L1171.6,1234.1L1173.1,1251.6L1174.6,1270.4L1175.0,1275.0L1176.1,1288.6L1177.6,1306.8L1179.1,1324.9L1180.6,1342.2L1182.1,1360.5L1182.5,1365.1L1183.6,1377.9L1185.1,1394.2L1186.6,1411.1L1188.1,1427.4L1189.6,1445.4L1190.0,1450.8L1191.1,1462.5L1192.6,1481.3L1194.1,1499.7L1195.6,1518.1L1197.1,1535.4L1197.5,1540.5L1198.6,1552.1L1200.1,1568.4L1201.6,1584.3L1203.1,1598.6L1204.6,1611.9L1205.0,1614.8L1206.1,1622.8L1207.6,1634.1L1209.1,1642.9L1210.6,1651.2L1212.1,1657.6L1213.6,1660.5L1215.0,1660.7L1216.6,1658.2L1218.1,1653.0L1219.6,1645.7L1221.1,1634.7L1222.5,1625.4L1224.1,1612.2L1225.6,1596.4L1227.1,1580.7L1228.6,1565.0L1230.0,1550.7L1231.6,1533.3L1233.1,1516.7L1234.6,1501.0L1236.1,1486.0L1237.5,1469.1L1239.1,1451.6L1240.6,1432.8L1242.1,1415.1L1243.6,1397.1L1245.0,1379.9L1246.6,1361.0L1248.1,1343.5L1249.6,1327.3L1251.1,1312.2L1252.5,1299.4L1254.1,1288.2L1255.6,1279.5L1257.1,1271.5L1258.6,1264.7L1260.0,1260.1L1261.6,1254.6L1263.1,1250.2L1264.6,1246.8L1266.1,1243.5L1267.6,1241.5L1269.1,1238.3L1270.0,1237.9L1270.6,1237.1L1272.1,1234.4L1273.6,1233.7L1275.1,1232.3L1276.6,1231.4L1277.5,1230.7L1278.1,1230.8L1279.6,1231.9L1281.1,1231.9L1282.6,1232.9L1284.1,1232.6L1285.6,1233.8L1287.1,1235.1L1288.6,1236.9L1290.1,1237.7L1291.6,1238.7L1293.1,1240.0L1294.6,1242.2L1295.0,1242.0L1296.1,1241.9L1297.6,1242.9L1299.1,1243.5L1300.6,1244.6L1302.1,1245.2L1303.6,1244.9L1305.1,1245.4L1306.6,1245.7L1308.1,1246.4L1309.6,1246.6L1311.1,1246.5L1312.6,1246.7L1314.1,1248.2L1315.0,1247.7L1315.6,1249.0L1317.1,1249.2L1318.6,1249.2L1320.1,1250.0L1321.6,1251.3L1323.1,1252.0L1324.6,1252.8L1326.1,1251.8L1327.5,1251.8L1329.1,1251.5L1330.6,1250.7L1332.1,1248.5L1333.6,1248.6L1335.1,1247.3L1336.6,1247.8L1337.5,1247.9L1338.1,1248.7L1339.6,1250.6L1341.1,1254.1L1342.6,1257.8L1344.2,1263.2L1345.0,1264.7L1345.7,1266.9L1347.2,1271.1L1348.7,1274.6L1350.2,1279.1L1351.7,1284.3L1353.2,1288.3L1354.7,1292.0L1356.2,1296.1L1357.5,1300.0L1359.2,1303.4L1360.7,1307.9L1362.2,1311.4L1363.7,1314.8L1365.2,1318.0L1366.7,1320.4L1368.2,1322.1L1369.7,1323.0L1370.0,1322.9L1371.2,1323.1L1372.7,1322.4L1374.2,1320.6L1375.7,1319.6L1377.2,1317.4L1378.7,1316.0L1380.2,1314.9L1381.7,1313.2L1382.5,1313.8L1383.2,1313.0L1384.7,1312.4L1386.2,1313.0L1387.7,1313.4L1389.2,1313.4L1390.7,1313.9L1392.2,1314.0L1393.7,1313.0L1395.0,1313.7L1396.7,1311.3L1398.2,1309.3L1399.7,1306.0L1401.2,1303.0L1402.7,1299.3L1404.2,1295.5L1405.0,1292.8L1405.7,1291.1L1407.2,1286.5L1408.7,1282.6L1410.2,1278.3L1411.7,1274.1L1413.2,1269.6L1414.7,1266.3L1415.0,1264.9L1416.2,1261.7L1417.7,1258.5L1419.2,1254.5L1420.7,1252.1L1422.2,1250.0L1423.7,1246.8L1425.2,1243.8L1426.7,1240.6L1428.2,1238.4L1429.7,1235.6L1430.0,1235.0L1431.2,1232.9L1432.7,1229.9L1434.2,1226.6L1435.7,1224.3L1437.2,1221.3L1438.7,1218.8L1440.2,1215.4L1441.7,1211.9L1443.2,1208.7L1444.7,1205.1L1446.2,1203.1L1447.5,1200.3L1449.2,1196.2L1450.7,1192.4L1452.2,1188.8L1453.7,1185.6L1455.2,1182.6L1456.7,1179.5L1458.2,1176.6L1459.7,1173.2L1461.2,1171.2L1462.7,1170.1L1464.2,1167.8L1465.7,1167.5L1467.2,1167.1L1467.5,1167.7L1468.7,1168.6L1470.2,1169.3L1471.7,1172.4L1473.2,1174.0L1474.7,1175.6L1476.2,1176.2L1477.5,1176.9L1479.2,1177.2L1480.7,1176.5L1482.2,1175.4L1483.7,1174.5L1485.2,1174.1L1486.7,1173.3L1487.5,1172.6L1488.2,1173.1L1489.7,1174.1L1491.2,1176.0L1492.7,1177.4L1494.2,1179.6L1495.7,1183.2L1497.2,1185.8L1498.7,1188.9L1500.2,1192.0L1501.7,1194.0L1503.2,1196.5L1504.7,1197.7L1505.0,1197.7L1506.2,1198.2L1507.7,1198.2L1509.2,1197.4L1510.7,1196.3L1512.2,1195.7L1513.7,1194.2L1515.2,1193.0L1516.7,1191.2L1518.2,1190.7L1519.7,1189.5L1521.2,1187.3L1522.5,1187.1L1524.2,1187.6L1525.7,1187.3L1527.2,1189.2L1528.7,1190.6L1530.2,1192.1L1531.7,1194.9L1532.5,1196.7L1533.2,1199.3L1534.7,1204.0L1536.2,1210.6L1537.7,1217.9L1539.2,1225.0L1540.7,1232.1L1542.2,1238.8L1542.5,1240.1L1543.7,1244.5L1545.2,1249.7L1546.7,1254.4L1548.2,1259.1L1549.7,1262.2L1550.0,1263.2L1551.2,1264.6L1552.7,1266.1L1554.2,1267.3L1555.7,1268.4L1557.2,1269.2L1558.7,1271.3L1560.0,1273.5L1561.7,1276.7L1563.2,1282.3L1564.7,1288.2L1566.2,1294.5L1567.7,1301.6L1569.2,1309.0L1570.0,1312.2L1570.7,1315.5L1572.2,1323.9L1573.7,1331.7L1575.2,1339.8L1576.7,1346.3L1578.2,1354.4L1579.7,1361.7L1580.0,1362.4L1581.2,1366.6L1582.7,1371.9L1584.2,1377.4L1585.7,1381.6L1587.2,1383.2L1587.5,1382.9L1588.7,1382.5L1590.2,1380.1L1591.7,1375.6L1593.2,1370.5L1594.7,1364.2L1596.2,1358.2L1597.5,1351.5L1599.2,1343.5L1600.7,1335.9L1602.2,1328.6L1603.7,1322.0L1605.2,1314.4L1606.7,1307.6L1607.5,1304.8L1608.2,1301.9L1609.7,1296.7L1611.2,1292.4L1612.7,1288.3L1614.2,1284.3L1615.7,1281.2L1617.2,1277.0L1618.7,1274.7L1620.0,1273.8L1621.7,1270.6L1623.2,1268.9L1624.7,1267.0L1626.2,1265.6L1627.7,1264.6L1629.2,1262.4L1630.7,1260.6L1632.2,1259.6L1632.5,1259.7L1633.7,1257.1L1635.2,1254.9L1636.7,1253.6L1638.2,1252.8L1639.8,1252.6L1640.0,1253.3L1641.2,1253.8L1642.8,1257.3L1644.2,1262.5L1645.8,1267.4L1647.2,1274.9L1648.0,1277.3L1648.8,1280.2L1650.2,1286.5L1651.8,1293.3L1653.2,1299.4L1654.8,1304.8L1656.2,1312.6L1657.5,1316.9L1659.2,1323.6L1660.8,1330.1L1662.2,1337.3L1663.8,1342.5L1665.2,1348.1L1666.8,1352.0L1667.5,1355.4L1668.3,1356.5L1669.8,1360.9L1671.3,1365.0L1672.8,1367.8L1674.3,1370.8L1675.8,1371.5L1677.0,1371.9L1678.8,1370.1L1680.3,1368.2L1681.8,1364.5L1683.3,1360.0L1684.8,1354.3L1686.3,1349.9L1687.5,1345.1L1689.3,1338.7L1690.8,1332.3L1692.3,1326.5L1693.8,1320.0L1695.3,1314.1L1696.8,1308.4L1697.5,1305.7L1698.3,1301.8L1699.8,1296.9L1701.3,1291.3L1702.8,1286.4L1704.3,1282.9L1705.8,1278.2L1707.3,1275.8L1707.5,1274.3L1708.8,1273.1L1710.3,1270.9L1711.8,1268.5L1713.3,1268.1L1714.8,1266.3L1716.3,1266.0L1717.8,1265.5L1719.3,1264.4L1720.0,1264.5L1720.8,1264.6L1722.3,1264.5L1723.8,1265.3L1725.3,1267.0L1726.8,1268.1L1728.3,1270.0L1729.8,1271.9L1730.0,1273.5L1731.3,1276.5L1732.8,1282.4L1734.3,1290.7L1735.8,1299.7L1737.3,1310.7L1737.5,1311.6L1738.8,1322.1L1740.3,1337.1L1741.8,1352.9L1743.3,1369.2L1744.8,1386.2L1745.0,1387.7L1746.3,1402.0L1747.8,1416.9L1749.3,1432.8L1750.8,1447.8L1752.3,1462.5L1752.5,1464.9L1753.8,1478.3L1755.3,1495.0L1756.8,1509.8L1758.3,1524.6L1759.8,1537.9L1760.0,1539.6L1761.3,1550.5L1762.8,1560.3L1764.3,1569.7L1765.8,1578.2L1767.3,1586.9L1768.8,1594.4L1770.0,1600.2L1771.8,1608.9L1773.3,1614.3L1774.8,1621.7L1776.3,1626.3L1777.5,1629.2L1779.3,1635.2L1780.8,1638.3L1782.3,1641.3L1783.8,1643.3L1785.0,1643.8L1786.8,1643.7L1788.3,1642.9L1789.8,1640.8L1791.3,1638.3L1792.8,1635.6L1794.3,1632.5L1795.0,1629.9L1795.8,1627.4L1797.3,1622.1L1798.8,1614.8L1800.3,1606.8L1801.8,1599.6L1802.5,1594.8L1803.3,1590.6L1804.8,1580.0L1806.3,1569.8L1807.8,1558.1L1809.3,1546.1L1810.0,1539.8L1810.8,1533.5L1812.3,1519.3L1813.8,1505.1L1815.3,1490.0L1816.8,1476.9L1817.5,1469.4L1818.3,1462.7L1819.8,1450.1L1821.3,1438.5L1822.8,1427.0L1824.3,1415.4L1825.0,1409.8L1825.8,1403.9L1827.3,1392.3L1828.8,1382.1L1830.3,1372.8L1831.8,1365.1L1832.5,1361.8L1833.3,1358.6L1834.8,1353.9L1836.3,1351.2L1837.8,1347.0L1839.3,1345.2L1840.8,1343.8L1842.3,1342.0L1842.5,1341.5L1843.8,1341.1L1845.3,1339.5L1846.8,1338.9L1848.3,1336.9L1849.8,1336.0L1851.3,1334.4L1852.5,1334.4L1854.3,1332.9L1855.8,1331.1L1857.3,1330.3L1858.8,1329.3L1860.3,1328.5L1861.8,1327.7L1863.0,1328.4L1864.8,1329.3L1866.3,1330.1L1867.8,1331.6L1869.3,1332.1L1870.8,1335.9L1872.3,1338.3L1873.8,1341.6L1875.0,1344.4L1876.8,1351.2L1878.3,1356.5L1879.8,1364.0L1881.3,1370.7L1882.8,1377.3L1884.3,1385.0L1885.0,1387.7L1885.8,1391.9L1887.3,1398.7L1888.8,1406.2L1890.3,1412.4L1891.8,1418.3L1892.5,1419.3L1893.3,1422.0L1894.8,1426.9L1896.3,1430.0L1897.8,1433.0L1899.3,1434.8L1900.8,1435.0L1901.0,1435.4L1902.3,1435.4L1903.8,1434.0L1905.3,1430.9L1906.8,1427.7L1908.3,1424.2L1909.8,1421.0L1910.0,1420.2L1911.3,1415.9L1912.8,1410.7L1914.3,1404.9L1915.8,1399.2L1917.3,1395.9L1917.5,1395.4L1918.8,1392.4L1920.3,1390.0L1921.8,1388.5L1923.3,1387.3L1924.8,1388.1L1926.0,1387.2L1927.8,1387.8L1929.3,1388.3L1930.8,1390.1L1932.3,1393.2L1933.8,1397.1L1935.0,1400.3L1936.8,1407.7L1938.3,1417.9L1939.8,1428.3L1941.3,1440.4L1942.5,1450.5L1944.3,1467.1L1945.8,1482.6L1947.3,1497.0L1948.8,1513.2L1950.0,1524.7L1951.8,1543.7L1953.3,1559.8L1954.8,1575.2L1956.3,1589.5L1957.5,1599.6L1959.3,1615.6L1960.8,1628.5L1962.4,1639.7L1963.9,1649.3L1965.0,1654.8L1965.4,1656.2L1966.9,1661.1L1968.4,1664.9L1969.0,1664.9L1969.9,1664.0L1971.4,1662.5L1972.9,1657.6L1974.4,1651.2L1975.9,1645.2L1977.4,1640.9L1977.5,1639.6L1978.9,1636.4L1980.4,1632.8L1981.9,1630.1L1983.4,1627.7L1984.9,1626.1L1986.4,1622.9L1987.5,1619.5L1987.9,1619.0L1989.4,1615.2L1990.9,1610.2L1992.4,1605.3L1993.9,1599.3L1995.4,1593.3L1996.9,1588.0L1997.5,1585.4L1998.4,1581.4L1999.9,1574.3L2001.4,1567.7L2002.9,1559.6L2004.4,1552.6L2005.9,1545.9L2007.4,1541.0L2007.5,1539.4L2008.9,1534.9L2010.4,1531.5L2011.9,1527.0L2013.4,1523.9L2014.9,1520.5L2015.0,1520.3L2016.4,1517.6L2017.9,1515.8L2019.4,1514.8L2020.0,1515.8L2020.9,1516.1L2022.4,1519.0L2023.9,1525.0L2025.4,1531.5L2026.0,1535.7L2026.9,1541.1L2028.4,1552.8L2029.9,1566.6L2031.4,1579.9L2032.5,1589.9L2032.9,1593.7L2034.4,1604.0L2035.9,1614.5L2037.4,1623.3L2038.9,1631.3L2040.0,1635.0L2040.4,1635.8L2041.9,1640.9L2043.4,1643.0L2044.9,1642.8L2045.0,1642.6L2046.4,1638.3L2047.9,1629.2L2049.4,1619.2L2050.0,1614.8L2050.9,1609.6L2052.4,1600.0L2053.9,1592.3L2055.4,1585.9L2056.9,1582.3L2057.5,1582.6L2058.4,1583.2L2059.9,1585.3L2061.4,1590.3L2062.9,1596.2L2064.0,1599.7L2064.4,1600.9L2065.9,1605.9L2067.4,1610.5L2068.9,1613.3L2070.0,1613.5L2070.4,1614.0L2071.9,1611.3L2073.4,1604.1L2074.9,1595.9L2075.0,1595.4L2076.4,1582.3L2077.9,1564.6L2079.4,1546.5L2080.0,1540.6L2080.9,1529.8L2082.4,1516.0L2083.9,1503.0L2085.4,1490.0L2086.9,1478.4L2087.5,1475.3L2088.4,1468.3L2089.9,1458.6L2091.4,1449.2L2092.9,1440.6L2094.4,1432.5L2095.0,1429.9L2095.9,1426.4L2097.4,1419.4L2098.9,1414.3L2100.4,1410.4L2101.9,1406.8L2102.5,1405.1L2103.4,1404.3L2104.9,1401.0L2106.4,1399.4L2107.9,1398.3L2109.4,1397.5L2110.0,1397.0L2110.9,1398.0L2112.4,1399.0L2113.9,1401.6L2115.4,1404.1L2116.9,1407.9L2117.5,1409.3L2118.4,1413.1L2119.9,1419.6L2121.4,1427.9L2122.9,1434.5L2124.4,1442.2L2125.0,1445.4L2125.9,1448.5L2127.4,1454.5L2128.9,1459.4L2130.4,1463.7L2131.9,1467.6L2133.4,1471.3L2134.9,1474.9L2135.0,1474.4L2136.4,1478.0L2137.9,1481.4L2139.4,1484.7L2140.9,1486.1L2142.4,1488.3L2143.9,1490.7L2145.4,1491.7L2146.5,1492.6L2146.9,1492.3L2148.4,1491.7L2149.9,1490.4L2151.4,1487.0L2152.9,1481.4L2154.4,1473.0L2155.0,1469.3L2155.9,1462.6L2157.4,1447.5L2158.9,1430.4L2160.0,1419.8L2160.4,1417.1L2161.9,1405.1L2163.4,1396.6L2164.9,1390.0L2165.0,1389.9L2166.4,1386.1L2167.9,1383.5L2169.4,1382.5L2170.0,1383.3L2170.9,1383.8L2172.4,1384.6L2173.9,1388.3L2175.4,1390.9L2176.9,1394.2L2177.5,1394.6L2178.4,1395.7L2179.9,1397.4L2181.4,1398.2L2182.9,1399.0L2184.4,1399.9L2185.9,1399.7L2187.4,1400.7L2188.9,1401.2L2190.0,1402.4L2190.4,1402.7L2191.9,1405.0L2193.4,1407.1L2194.9,1410.7L2196.4,1414.0L2197.9,1418.1L2199.4,1422.8L2200.0,1424.9L2200.9,1428.7L2202.4,1435.9L2203.9,1442.6L2205.4,1450.3L2206.9,1457.2L2207.5,1459.6L2208.4,1463.4L2209.9,1469.0L2211.4,1473.0L2212.9,1476.7L2214.4,1477.7L2215.0,1477.6L2215.9,1476.5L2217.4,1475.4L2218.9,1471.1L2220.4,1465.8L2221.9,1460.4L2223.4,1455.7L2224.9,1450.1L2225.0,1450.7L2226.4,1445.9L2227.9,1442.2L2229.4,1438.5L2230.9,1435.6L2232.4,1430.8L2233.9,1427.8L2235.4,1425.4L2236.9,1421.4L2237.5,1420.3L2238.4,1417.9L2239.9,1414.0L2241.4,1409.7L2242.9,1406.0L2244.4,1400.7L2245.9,1397.8L2247.4,1392.6L2248.9,1388.8L2250.0,1385.2L2250.4,1383.4L2251.9,1379.0L2253.4,1374.3L2255.0,1368.8L2256.5,1362.0L2258.0,1355.8L2259.5,1347.9L2260.0,1345.3L2261.0,1338.5L2262.5,1328.0L2264.0,1315.9L2265.5,1304.3L2267.0,1293.7L2267.5,1290.3L2268.5,1284.2L2270.0,1276.3L2271.5,1268.1L2273.0,1263.1L2274.5,1256.3L2275.0,1255.3L2276.0,1251.4L2277.5,1247.0L2279.0,1243.3L2280.5,1239.1L2282.0,1236.5L2283.5,1233.6L2285.0,1230.3L2285.0,1230.2L2286.5,1227.1L2288.0,1225.1L2289.5,1223.1L2291.0,1222.1L2292.5,1219.5L2294.0,1218.4L2295.0,1217.2L2295.5,1216.6L2297.0,1215.2L2298.5,1214.8L2300.0,1213.4L2301.5,1212.6L2303.0,1211.3L2304.5,1207.6L2305.0,1206.3L2306.0,1205.1L2307.5,1199.9L2309.0,1195.4L2310.5,1190.4L2312.0,1186.5L2312.5,1184.9L2313.5,1182.7L2315.0,1180.8L2316.5,1179.2L2318.0,1177.2L2319.5,1175.2L2321.0,1171.2L2322.5,1168.2L2322.5,1167.5L2324.0,1162.1L2325.5,1156.2L2327.0,1149.2L2328.5,1144.4L2330.0,1142.2L2330.0,1141.9L2331.5,1144.0L2333.0,1149.6L2334.5,1155.6L2336.0,1162.7L2337.5,1170.2L2337.5,1169.3L2339.0,1175.9L2340.5,1180.8L2342.0,1186.3L2343.5,1189.9L2345.0,1192.9L2346.5,1195.0L2347.5,1195.1L2348.0,1194.8L2349.5,1193.4L2351.0,1190.9L2352.5,1187.9L2354.0,1183.3L2355.0,1179.7L2355.5,1177.4L2357.0,1171.2L2358.5,1163.5L2360.0,1155.6L2361.5,1148.6L2362.5,1145.2L2363.0,1143.4L2364.5,1138.8L2366.0,1135.7L2367.5,1133.9L2367.5,1134.5L2369.0,1134.5L2370.5,1135.3L2372.0,1138.3L2373.5,1141.1L2375.0,1145.7L2376.5,1150.1L2378.0,1156.0L2379.5,1160.0L2380.0,1160.3L2381.0,1161.3L2382.5,1161.0L2384.0,1159.6L2385.5,1158.1L2387.0,1155.5" stroke="#BF00FF" stroke-width="12.5"/>
</svg>
<line x1="1133.1" y1="355" x2="1133.1" y2="1280" stroke="#000" stroke-width="8.6" stroke-dasharray="41 40"/>
<line x1="1223.6" y1="775" x2="1223.6" y2="1696" stroke="#000" stroke-width="8.6" stroke-dasharray="41 40"/>
<line x1="1313.1" y1="1040" x2="1313.1" y2="1241" stroke="#000" stroke-width="8.6" stroke-dasharray="41 40"/>
<line x1="1800.6" y1="778" x2="1800.6" y2="1700" stroke="#000" stroke-width="8.6" stroke-dasharray="41 40"/>
<line x1="2002.1" y1="902" x2="2002.1" y2="1103" stroke="#000" stroke-width="8.6" stroke-dasharray="41 40"/>
<line x1="2045.6" y1="1470" x2="2045.6" y2="1671" stroke="#000" stroke-width="8.6" stroke-dasharray="41 40"/>
<line x1="2146.6" y1="1339" x2="2146.6" y2="1540" stroke="#000" stroke-width="8.6" stroke-dasharray="41 40"/>
<text x="956" y="1355.5" font-size="88">1779</text>
<text x="1278" y="1007" font-size="88">1663</text>
<text x="1268" y="1696" font-size="88">1719</text>
<text x="1596" y="1701" font-size="88">1360</text>
<text x="1873" y="879" font-size="88">1233</text>
<text x="1976" y="1744.5" font-size="88">1207</text>
<text x="2108" y="1614.5" font-size="88">1144</text>
</g>
<g id="panel-b">
<text x="290.5" y="2273" font-size="87" letter-spacing="0.75">3-BPDA</text>
<text x="290.5" y="2505" font-size="87" letter-spacing="0.75">3-ODPA</text>
<text x="290.5" y="2752.5" font-size="87" letter-spacing="0.75">3-BTDA</text>
<text x="290.5" y="3073" font-size="87" letter-spacing="0.75">3-6FDA</text>
<path d="M889,2156.2 H276.5 V3848.2 H889 M925,3848.2 H2381.6 V2156.2 H925" fill="none" stroke="#000" stroke-width="6.2" stroke-linejoin="miter" stroke-linecap="butt"/>
<line x1="872.6" y1="2188.2" x2="907.8" y2="2124.2" stroke="#000" stroke-width="5.2"/>
<line x1="908.9" y1="2188.2" x2="944.1" y2="2124.2" stroke="#000" stroke-width="5.2"/>
<line x1="872.6" y1="3880.2" x2="907.8" y2="3816.2" stroke="#000" stroke-width="5.2"/>
<line x1="908.9" y1="3880.2" x2="944.1" y2="3816.2" stroke="#000" stroke-width="5.2"/>
<line x1="388" y1="3848.2" x2="388" y2="3880.2" stroke="#000" stroke-width="6"/>
<line x1="722" y1="3848.2" x2="722" y2="3880.2" stroke="#000" stroke-width="6"/>
<line x1="1087.5" y1="3848.2" x2="1087.5" y2="3880.2" stroke="#000" stroke-width="6"/>
<line x1="1573.2" y1="3848.2" x2="1573.2" y2="3880.2" stroke="#000" stroke-width="6"/>
<line x1="2058.4" y1="3848.2" x2="2058.4" y2="3880.2" stroke="#000" stroke-width="6"/>
<line x1="554.8" y1="3848.2" x2="554.8" y2="3864.2" stroke="#000" stroke-width="6"/>
<line x1="1330.3" y1="3848.2" x2="1330.3" y2="3864.2" stroke="#000" stroke-width="6"/>
<line x1="1815.8" y1="3848.2" x2="1815.8" y2="3864.2" stroke="#000" stroke-width="6"/>
<line x1="2301" y1="3848.2" x2="2301" y2="3864.2" stroke="#000" stroke-width="6"/>
<text x="386.6" y="3990.6" font-size="112" text-anchor="middle" letter-spacing="1.2">3600</text>
<text x="721.1" y="3990.6" font-size="112" text-anchor="middle" letter-spacing="1.2">3000</text>
<text x="1085.6" y="3990.6" font-size="112" text-anchor="middle" letter-spacing="1.2">1800</text>
<text x="1571.6" y="3990.6" font-size="112" text-anchor="middle" letter-spacing="1.2">1500</text>
<text x="2057.6" y="3990.6" font-size="112" text-anchor="middle" letter-spacing="1.2">1200</text>
<text x="786" y="4156" font-size="128" textLength="1088" lengthAdjust="spacing">Wavenumber(cm<tspan font-size="84" dy="-54">−1</tspan><tspan dy="54">)</tspan></text>
<text transform="translate(135,3488) rotate(-90)" font-size="128" textLength="1084" lengthAdjust="spacing">Transmittance(a.u.)</text>
<text x="39.5" y="2207.5" font-size="126" text-anchor="start" letter-spacing="1.8">(b)</text>
<svg x="276" y="2137" width="613" height="1730" viewBox="276 2137 613 1730" overflow="hidden">
<path class="c" d="M269.0,2283.1L270.0,2282.4L271.0,2283.0L272.0,2284.9L273.0,2286.3L274.0,2285.3L275.0,2284.6L276.0,2283.2L277.0,2283.9L278.0,2284.0L279.0,2286.7L280.0,2281.4L281.0,2284.9L282.0,2283.1L283.0,2284.3L284.0,2281.0L285.0,2283.3L286.0,2284.4L287.0,2283.8L288.0,2284.8L289.0,2283.9L290.0,2283.8L291.0,2280.9L292.0,2281.8L293.0,2281.2L294.0,2281.8L295.0,2285.4L296.0,2281.7L297.0,2283.2L298.0,2283.1L299.0,2283.6L300.0,2283.5L301.0,2279.2L302.0,2282.6L303.0,2280.7L304.0,2281.5L305.0,2287.4L306.0,2286.7L307.0,2286.5L308.0,2288.0L309.0,2291.9L310.0,2290.7L311.0,2297.5L312.0,2296.8L313.0,2298.5L314.0,2299.4L315.0,2299.8L316.0,2300.5L317.0,2297.5L317.5,2298.5L318.0,2296.7L319.0,2300.1L320.0,2297.2L321.0,2296.8L322.0,2294.1L323.0,2294.0L324.0,2293.2L325.0,2292.7L326.0,2292.8L327.0,2296.3L328.0,2293.8L329.0,2295.4L330.0,2295.3L331.0,2294.9L332.0,2294.7L333.0,2296.3L334.0,2294.8L335.0,2292.9L336.0,2293.2L337.0,2293.6L338.0,2293.2L339.0,2297.6L340.0,2295.9L341.0,2299.2L342.0,2295.9L343.0,2297.0L344.0,2301.8L345.0,2297.6L346.0,2299.5L347.0,2300.5L348.0,2303.2L349.0,2306.0L350.0,2308.6L351.0,2310.9L352.0,2310.2L352.5,2312.2L353.0,2311.0L354.0,2316.2L355.0,2315.0L356.0,2323.0L357.0,2320.7L358.0,2328.0L359.0,2330.7L360.0,2331.8L361.0,2339.8L362.0,2339.3L362.5,2344.8L363.0,2343.2L364.0,2345.7L365.0,2344.9L366.0,2349.3L367.0,2353.2L368.0,2353.5L369.0,2355.9L370.0,2356.9L371.0,2361.2L372.0,2362.3L373.0,2368.0L374.0,2364.9L375.0,2367.6L376.0,2369.0L377.0,2369.1L378.0,2370.3L379.0,2368.6L380.0,2369.8L381.0,2369.9L382.0,2369.9L383.0,2374.5L384.0,2373.8L385.0,2372.1L386.0,2374.8L387.0,2377.6L388.0,2375.5L389.0,2377.0L390.0,2377.6L391.0,2377.5L392.0,2375.7L393.0,2376.4L394.0,2377.5L395.0,2380.2L396.0,2378.6L397.0,2376.8L398.0,2381.0L399.0,2379.1L400.0,2379.5L401.0,2379.5L402.0,2382.3L403.0,2380.0L404.0,2379.8L405.0,2381.7L406.0,2380.5L407.0,2378.7L408.0,2378.1L409.0,2381.5L410.0,2383.9L411.0,2379.0L412.0,2378.9L413.0,2380.6L414.0,2382.8L415.0,2382.9L416.0,2379.9L417.0,2382.0L418.0,2384.6L419.0,2381.9L420.0,2385.1L421.0,2382.4L422.0,2383.4L423.0,2386.0L424.0,2385.2L425.0,2382.6L426.0,2386.8L427.0,2386.0L428.0,2387.5L429.0,2383.4L430.0,2387.3L431.0,2385.7L432.0,2389.1L433.0,2385.1L434.0,2386.0L435.0,2387.1L436.0,2385.8L437.0,2389.4L438.0,2389.7L439.0,2386.4L440.0,2388.4L441.0,2390.4L442.0,2390.5L443.0,2388.8L444.0,2391.1L445.0,2391.2L446.0,2390.5L447.0,2392.3L448.0,2391.3L449.0,2394.6L450.0,2393.1L451.0,2396.4L452.0,2392.2L453.0,2395.3L454.0,2396.2L455.0,2396.7L456.0,2395.7L457.0,2398.8L458.0,2397.5L459.0,2397.9L460.0,2400.6L461.0,2401.4L462.0,2400.8L463.0,2400.7L464.0,2401.4L465.0,2403.6L466.0,2402.8L467.0,2400.7L468.0,2403.2L469.0,2400.5L470.0,2403.5L471.0,2403.9L472.0,2404.5L473.0,2404.5L474.0,2404.8L475.0,2409.5L476.0,2405.5L477.0,2407.2L478.0,2409.7L479.0,2407.8L480.0,2408.9L481.0,2411.5L482.0,2410.8L483.0,2409.7L484.0,2409.7L485.0,2410.6L486.0,2414.4L487.0,2410.6L488.0,2411.5L489.0,2414.9L490.0,2411.4L491.0,2413.0L492.0,2413.2L493.0,2414.4L494.0,2413.4L495.0,2417.6L496.0,2415.0L497.0,2416.3L498.0,2415.0L499.0,2418.6L500.0,2414.1L501.0,2414.2L502.0,2416.7L503.0,2416.2L504.0,2417.8L505.0,2418.3L506.0,2419.2L507.0,2417.2L508.0,2418.5L509.0,2419.7L510.0,2418.0L511.0,2420.2L512.0,2421.0L513.0,2423.2L514.0,2423.0L515.0,2421.7L516.0,2421.7L517.0,2422.7L518.0,2422.9L519.0,2424.4L520.0,2420.0L521.0,2424.0L522.0,2422.7L522.5,2422.3L523.0,2420.4L524.0,2421.3L525.0,2422.0L526.0,2423.1L527.0,2422.9L528.0,2419.8L529.0,2422.5L530.0,2419.6L531.0,2421.6L532.0,2417.5L533.0,2419.4L534.0,2418.0L535.0,2418.5L536.0,2418.9L537.0,2420.1L538.0,2417.9L539.0,2416.3L540.0,2417.4L541.0,2415.2L542.0,2415.2L543.0,2420.1L544.0,2415.9L545.0,2417.8L546.0,2416.6L547.0,2416.1L548.0,2411.8L549.0,2415.0L550.0,2416.3L551.0,2415.6L552.0,2413.0L553.0,2414.1L554.0,2411.5L555.0,2414.8L556.0,2411.0L557.0,2409.1L558.0,2410.9L559.0,2409.2L560.0,2412.1L561.0,2411.2L562.0,2410.4L563.0,2411.0L564.0,2409.6L565.0,2414.7L566.0,2411.0L567.0,2412.4L568.0,2410.8L569.0,2407.2L570.0,2410.1L571.0,2408.9L572.0,2409.6L573.0,2407.9L574.0,2408.6L575.0,2409.1L576.0,2409.5L577.0,2408.9L578.0,2410.1L579.0,2409.0L580.0,2406.7L581.0,2411.1L582.0,2412.6L583.0,2410.7L584.0,2408.5L585.0,2409.6L586.0,2410.9L587.0,2410.2L588.0,2410.0L589.0,2410.8L590.0,2411.6L591.0,2406.7L592.0,2408.5L593.0,2409.4L594.0,2412.8L595.0,2413.0L596.0,2412.5L597.0,2409.3L598.0,2411.1L599.0,2409.8L600.0,2410.7L601.0,2408.7L602.0,2413.3L603.0,2410.5L604.0,2408.7L605.0,2412.5L606.0,2413.2L607.0,2408.5L608.0,2413.3L609.0,2409.7L610.0,2407.4L611.0,2411.0L612.0,2408.1L613.0,2410.8L614.0,2407.9L615.0,2408.0L616.0,2405.6L617.0,2405.3L618.0,2407.8L619.0,2407.0L620.0,2403.8L621.0,2407.1L622.0,2405.2L623.0,2403.8L624.0,2404.4L625.0,2406.7L626.0,2405.7L627.0,2401.7L628.0,2401.0L629.0,2401.8L630.0,2401.4L631.0,2400.8L632.0,2402.2L633.0,2401.5L634.0,2399.3L635.0,2397.6L636.0,2400.2L637.0,2399.9L638.0,2397.3L639.0,2396.8L640.0,2398.8L641.0,2395.0L642.0,2397.6L643.0,2397.0L644.0,2396.8L645.0,2393.4L646.0,2394.7L647.0,2396.8L648.0,2395.8L649.0,2396.1L650.0,2393.5L651.0,2394.6L652.0,2396.1L653.0,2392.5L654.0,2392.6L655.0,2393.7L656.0,2392.0L657.0,2393.6L658.0,2391.9L659.0,2393.2L660.0,2390.8L661.0,2391.1L662.0,2391.4L663.0,2393.0L664.0,2392.8L665.0,2390.5L666.0,2393.5L667.0,2392.1L668.0,2392.5L669.0,2393.3L670.0,2394.1L671.0,2391.6L672.0,2395.5L673.0,2394.1L674.0,2393.2L675.0,2392.0L676.0,2393.7L677.0,2394.5L678.0,2392.3L679.0,2390.9L680.0,2390.4L681.0,2395.2L682.0,2392.1L682.5,2392.5L683.0,2392.0L684.0,2394.2L685.0,2391.5L686.0,2388.3L687.0,2388.3L688.0,2388.3L689.0,2385.2L690.0,2386.5L691.0,2386.1L692.0,2381.8L693.0,2382.5L694.0,2381.2L695.0,2380.6L696.0,2377.2L697.0,2375.4L698.0,2373.1L699.0,2374.8L700.0,2370.0L701.0,2370.7L702.0,2371.6L703.0,2370.0L704.0,2367.4L705.0,2367.2L706.0,2363.4L707.0,2363.5L708.0,2360.4L709.0,2360.1L710.0,2360.6L711.0,2359.9L712.0,2356.4L713.0,2356.7L714.0,2355.7L715.0,2353.0L716.0,2353.2L717.0,2352.7L718.0,2354.3L719.0,2353.6L720.0,2353.7L721.0,2353.1L722.0,2350.1L723.0,2349.2L724.0,2351.5L725.0,2350.3L726.0,2349.5L727.0,2349.2L728.0,2346.0L729.0,2347.0L730.0,2345.4L731.0,2345.5L732.0,2344.9L733.0,2345.8L734.0,2346.6L735.0,2345.0L736.0,2344.7L737.0,2345.7L738.0,2343.9L739.0,2342.7L740.0,2342.6L741.0,2343.6L742.0,2343.7L743.0,2343.6L744.0,2344.4L745.0,2344.7L746.0,2344.4L747.0,2342.9L748.0,2343.9L749.0,2343.7L750.0,2342.7L751.0,2342.2L752.0,2344.7L753.0,2343.9L754.0,2343.9L755.0,2341.1L756.0,2343.8L757.0,2342.4L757.5,2341.9L758.0,2341.7L759.0,2339.2L760.0,2339.0L761.0,2337.6L762.0,2334.9L763.0,2334.3L764.0,2333.4L765.0,2330.5L766.0,2331.2L767.0,2329.3L767.5,2329.8L768.0,2327.9L769.0,2329.5L770.0,2329.1L771.0,2329.0L772.0,2329.7L773.0,2330.1L774.0,2327.3L775.0,2328.8L776.0,2326.9L777.0,2327.3L778.0,2327.4L779.0,2326.7L780.0,2329.2L781.0,2328.0L782.0,2328.1L783.0,2328.5L784.0,2328.7L785.0,2328.7L786.0,2327.9L787.0,2327.9L788.0,2327.0L789.0,2326.3L790.0,2325.6L791.0,2326.6L792.0,2326.1L793.0,2325.8L794.0,2324.7L795.0,2325.0L796.0,2322.8L797.0,2321.3L798.0,2320.6L799.0,2319.8L800.0,2320.0L801.0,2319.8L802.0,2318.0L803.0,2317.9L804.0,2317.7L805.0,2316.9L806.0,2316.7L807.0,2316.8L808.0,2316.1L809.0,2316.7L810.0,2317.6L811.0,2317.9L812.0,2317.3L813.0,2316.9L814.0,2317.9L815.0,2316.5L816.0,2317.4L817.0,2318.4L818.0,2319.0L819.0,2318.2L820.0,2317.4L821.0,2318.4L822.0,2317.3L823.0,2317.3L824.0,2319.2L825.0,2318.5L826.0,2318.0L827.0,2318.1L828.0,2316.8L829.0,2317.3L830.0,2318.1L831.0,2316.5L832.0,2317.4L833.0,2315.8L834.0,2317.3L835.0,2317.0L836.0,2316.7L837.0,2317.2L838.0,2316.1L839.0,2316.8L840.0,2315.9L841.0,2316.3L842.0,2316.4L843.0,2315.0L844.0,2314.7L845.0,2314.7L846.0,2315.6L847.0,2314.2L848.0,2314.2L849.0,2314.2L850.0,2312.5L851.0,2313.7L852.0,2312.5L853.0,2313.3L854.0,2312.5L855.0,2312.8L856.0,2311.3L857.0,2311.4L858.0,2311.4L859.0,2312.5L860.0,2312.0L861.0,2311.9L862.0,2312.2L863.0,2311.6L864.0,2312.8L865.0,2311.6L866.0,2312.2L867.0,2311.9L868.0,2311.8L869.0,2310.6L870.0,2312.7L871.0,2311.8L872.0,2311.2L873.0,2312.5L874.0,2310.9L875.0,2311.5L876.0,2310.4L877.0,2311.6L878.0,2310.3L879.0,2312.0L880.0,2310.7L881.0,2310.8L882.0,2311.8L883.0,2309.7L884.0,2311.6L885.0,2310.3L886.0,2310.7L887.0,2309.7L888.0,2310.1L889.0,2310.9L890.0,2311.9L891.0,2310.9L892.0,2310.7L893.0,2311.6L894.0,2312.1L895.0,2311.1L896.0,2310.9" stroke="#FF0000" stroke-width="12.5"/>
<path class="c" d="M269.0,2513.2L270.0,2509.9L271.0,2508.3L272.0,2510.2L273.0,2514.5L274.0,2513.0L275.0,2512.2L276.0,2513.2L277.0,2513.3L278.0,2514.5L279.0,2513.2L280.0,2515.2L281.0,2511.9L282.0,2513.2L283.0,2512.4L284.0,2513.0L285.0,2515.2L286.0,2509.6L287.0,2509.5L288.0,2511.0L289.0,2513.3L290.0,2511.9L291.0,2510.2L292.0,2511.9L293.0,2509.4L294.0,2509.4L295.0,2509.7L296.0,2511.6L297.0,2510.1L298.0,2510.6L299.0,2512.6L300.0,2509.9L301.0,2513.1L302.0,2510.3L303.0,2516.0L304.0,2511.7L305.0,2512.3L306.0,2516.7L307.0,2517.6L308.0,2521.3L309.0,2523.3L310.0,2520.8L311.0,2524.4L312.0,2528.4L313.0,2526.1L314.0,2530.1L315.0,2527.6L316.0,2526.2L317.0,2524.2L318.0,2525.0L319.0,2522.7L320.0,2526.8L321.0,2522.9L322.0,2520.7L323.0,2522.8L324.0,2519.0L325.0,2520.7L326.0,2520.9L327.0,2521.2L328.0,2520.7L329.0,2522.3L330.0,2519.9L331.0,2521.7L332.0,2523.0L333.0,2521.9L334.0,2523.4L335.0,2518.6L336.0,2523.4L337.0,2523.7L338.0,2522.8L339.0,2525.7L340.0,2527.1L341.0,2526.1L342.0,2527.3L343.0,2526.1L344.0,2527.6L345.0,2530.4L346.0,2530.4L347.0,2534.9L348.0,2538.7L349.0,2539.6L350.0,2541.8L351.0,2543.6L352.0,2549.9L353.0,2551.5L354.0,2554.8L355.0,2559.4L356.0,2564.2L357.0,2564.9L358.0,2569.5L359.0,2575.3L360.0,2576.6L361.0,2581.5L362.0,2586.6L363.0,2585.5L364.0,2591.6L365.0,2595.2L366.0,2599.9L367.0,2599.8L368.0,2600.3L369.0,2603.1L370.0,2606.6L371.0,2606.3L372.0,2613.9L372.5,2610.1L373.0,2614.1L374.0,2614.4L375.0,2614.4L376.0,2615.7L377.0,2613.3L378.0,2616.2L379.0,2618.5L380.0,2618.8L381.0,2619.9L382.0,2620.8L383.0,2623.8L384.0,2621.6L385.0,2624.1L386.0,2626.1L387.0,2624.7L388.0,2625.0L389.0,2628.0L390.0,2628.6L391.0,2626.9L392.0,2626.8L393.0,2629.6L394.0,2631.0L395.0,2628.6L396.0,2629.0L397.0,2631.3L398.0,2633.4L399.0,2630.6L400.0,2630.3L401.0,2630.1L402.0,2634.4L403.0,2632.0L404.0,2630.2L405.0,2631.0L406.0,2631.7L407.0,2633.6L408.0,2634.6L409.0,2635.5L410.0,2633.2L411.0,2636.2L412.0,2633.3L413.0,2636.7L414.0,2636.1L415.0,2637.2L416.0,2635.1L417.0,2636.9L418.0,2638.1L419.0,2641.4L420.0,2640.1L421.0,2641.8L422.0,2640.7L423.0,2642.2L424.0,2641.1L425.0,2644.3L426.0,2642.6L427.0,2642.2L428.0,2644.7L429.0,2645.6L430.0,2644.3L431.0,2646.5L432.0,2643.8L433.0,2646.9L434.0,2644.1L435.0,2648.8L436.0,2646.0L437.0,2648.7L438.0,2650.1L439.0,2649.9L440.0,2648.1L441.0,2650.6L442.0,2651.4L443.0,2653.5L444.0,2652.9L445.0,2652.8L446.0,2656.6L447.0,2654.8L448.0,2657.1L449.0,2654.5L450.0,2655.9L451.0,2658.0L452.0,2658.3L453.0,2659.1L454.0,2662.6L455.0,2664.3L456.0,2662.9L457.0,2661.8L458.0,2661.6L459.0,2663.2L460.0,2667.6L461.0,2664.5L462.0,2664.9L463.0,2665.8L464.0,2669.0L465.0,2666.4L466.0,2669.4L467.0,2667.4L468.0,2666.9L469.0,2667.3L470.0,2667.7L471.0,2667.5L472.0,2667.0L473.0,2670.6L474.0,2671.4L475.0,2670.3L476.0,2669.3L477.0,2672.2L478.0,2671.6L479.0,2670.8L480.0,2672.2L481.0,2673.9L482.0,2671.7L483.0,2671.5L484.0,2674.6L485.0,2673.2L486.0,2676.6L487.0,2675.4L488.0,2674.8L489.0,2673.1L490.0,2672.6L491.0,2676.0L492.0,2675.6L493.0,2674.4L494.0,2674.5L495.0,2675.1L496.0,2673.9L497.0,2675.6L498.0,2675.2L499.0,2677.6L500.0,2676.7L501.0,2674.9L502.0,2675.4L503.0,2679.0L504.0,2678.4L505.0,2678.1L506.0,2675.1L507.0,2677.5L508.0,2676.6L509.0,2678.0L510.0,2678.8L511.0,2679.1L512.0,2679.6L512.5,2675.5L513.0,2679.8L514.0,2676.9L515.0,2680.6L516.0,2680.6L517.0,2675.8L518.0,2678.1L519.0,2677.6L520.0,2677.0L521.0,2677.8L522.0,2677.1L523.0,2673.5L524.0,2674.6L525.0,2674.5L526.0,2675.5L527.0,2677.3L528.0,2676.3L529.0,2674.4L530.0,2673.9L531.0,2674.8L532.0,2670.4L533.0,2671.0L534.0,2673.6L535.0,2672.9L536.0,2672.0L537.0,2670.9L538.0,2671.9L539.0,2669.7L540.0,2670.0L541.0,2666.9L542.0,2667.0L543.0,2668.1L544.0,2666.5L545.0,2670.0L546.0,2668.5L547.0,2667.1L548.0,2669.1L549.0,2668.1L550.0,2664.4L551.0,2666.7L552.0,2666.8L553.0,2666.6L554.0,2666.3L555.0,2663.0L556.0,2662.8L557.0,2662.9L558.0,2665.1L559.0,2664.6L560.0,2664.8L561.0,2664.9L562.0,2660.3L563.0,2659.4L564.0,2662.2L565.0,2661.6L566.0,2663.4L567.0,2663.9L568.0,2661.8L569.0,2660.5L570.0,2660.5L571.0,2662.9L572.0,2662.6L573.0,2661.6L574.0,2658.2L575.0,2663.2L576.0,2659.4L577.0,2661.2L578.0,2657.3L579.0,2661.6L580.0,2662.5L581.0,2660.1L582.0,2660.9L583.0,2661.1L584.0,2661.3L585.0,2658.0L586.0,2659.2L587.0,2662.0L588.0,2661.8L589.0,2661.8L590.0,2660.4L591.0,2658.9L592.0,2659.4L593.0,2658.9L594.0,2660.9L595.0,2658.0L596.0,2659.1L597.0,2660.4L598.0,2658.2L599.0,2659.6L600.0,2659.8L601.0,2660.4L602.0,2659.6L603.0,2661.4L604.0,2659.4L605.0,2662.1L606.0,2657.5L607.0,2659.4L608.0,2659.3L609.0,2659.4L610.0,2657.8L611.0,2657.5L612.0,2655.0L613.0,2654.0L614.0,2658.2L615.0,2655.0L616.0,2653.3L617.0,2651.8L618.0,2653.4L619.0,2651.5L620.0,2651.2L621.0,2653.5L622.0,2651.0L623.0,2648.5L624.0,2647.2L625.0,2646.0L626.0,2645.4L627.0,2649.0L628.0,2647.6L629.0,2648.9L630.0,2647.5L631.0,2647.2L632.0,2643.7L633.0,2644.8L634.0,2645.3L635.0,2645.6L636.0,2644.1L637.0,2643.2L638.0,2642.8L639.0,2639.8L640.0,2638.5L641.0,2639.0L642.0,2639.0L643.0,2640.4L644.0,2640.8L645.0,2638.8L646.0,2636.5L647.0,2637.7L648.0,2639.5L649.0,2636.2L650.0,2639.5L651.0,2636.0L652.0,2638.5L653.0,2635.4L654.0,2639.1L655.0,2635.1L656.0,2637.7L657.0,2638.3L658.0,2637.6L659.0,2636.8L660.0,2636.4L661.0,2636.1L662.0,2639.0L663.0,2634.9L664.0,2637.9L665.0,2638.4L666.0,2635.4L667.0,2636.3L668.0,2639.5L669.0,2639.7L670.0,2638.2L671.0,2636.1L672.0,2634.3L673.0,2633.9L674.0,2636.5L675.0,2634.1L676.0,2633.1L677.0,2636.1L678.0,2633.5L679.0,2636.4L680.0,2635.5L681.0,2635.8L682.0,2632.8L683.0,2633.9L684.0,2633.8L685.0,2633.5L686.0,2634.1L687.0,2632.8L688.0,2631.4L689.0,2632.4L690.0,2630.7L691.0,2628.5L692.0,2626.6L693.0,2627.0L694.0,2620.9L695.0,2619.9L696.0,2620.8L697.0,2617.6L698.0,2616.9L699.0,2613.2L700.0,2613.6L701.0,2609.3L702.0,2608.0L703.0,2608.3L704.0,2604.7L705.0,2603.9L706.0,2602.4L707.0,2602.4L708.0,2598.7L709.0,2597.1L710.0,2594.6L711.0,2592.3L712.0,2591.2L713.0,2590.7L714.0,2590.4L715.0,2589.2L716.0,2589.4L717.0,2586.6L718.0,2585.9L719.0,2586.8L720.0,2587.4L721.0,2585.7L722.0,2585.0L723.0,2582.4L724.0,2582.6L725.0,2582.2L726.0,2581.1L727.0,2581.1L728.0,2580.1L729.0,2581.7L730.0,2581.7L731.0,2580.7L732.0,2578.3L733.0,2579.4L734.0,2579.0L735.0,2579.7L736.0,2577.7L737.0,2576.1L738.0,2578.2L739.0,2575.6L740.0,2578.6L741.0,2576.4L742.0,2577.1L743.0,2576.6L744.0,2577.6L745.0,2575.7L746.0,2577.7L747.0,2574.7L748.0,2575.9L749.0,2576.2L750.0,2575.7L751.0,2576.5L752.0,2575.3L753.0,2574.3L754.0,2575.5L755.0,2575.3L756.0,2574.2L757.0,2575.4L757.5,2573.9L758.0,2572.9L759.0,2572.3L760.0,2571.7L761.0,2570.4L762.0,2566.9L763.0,2565.4L764.0,2564.6L765.0,2561.8L766.0,2561.4L767.0,2559.7L767.5,2560.8L768.0,2558.7L769.0,2559.3L770.0,2558.5L771.0,2559.8L772.0,2558.3L773.0,2559.4L774.0,2560.1L775.0,2559.3L776.0,2558.4L777.0,2557.4L778.0,2559.3L779.0,2559.0L780.0,2557.3L781.0,2559.1L782.0,2558.8L783.0,2556.8L784.0,2557.1L785.0,2558.2L786.0,2558.3L787.0,2557.6L788.0,2557.5L789.0,2558.4L790.0,2556.6L791.0,2556.5L792.0,2556.1L793.0,2556.9L794.0,2555.2L795.0,2553.6L796.0,2554.0L797.0,2550.8L798.0,2551.4L799.0,2549.4L800.0,2548.4L801.0,2548.7L802.0,2548.9L803.0,2546.3L804.0,2546.7L805.0,2547.8L806.0,2546.2L807.0,2545.9L808.0,2546.8L809.0,2547.4L810.0,2546.1L811.0,2547.1L812.0,2546.4L813.0,2546.8L814.0,2547.6L815.0,2546.1L816.0,2546.8L817.0,2547.6L818.0,2547.1L819.0,2546.9L820.0,2546.5L821.0,2547.3L822.0,2547.3L823.0,2546.5L824.0,2547.6L825.0,2546.8L826.0,2547.5L827.0,2546.4L828.0,2547.7L829.0,2546.5L830.0,2546.1L831.0,2546.2L832.0,2545.3L833.0,2544.9L834.0,2545.8L835.0,2545.0L836.0,2543.8L837.0,2544.7L838.0,2544.1L839.0,2544.9L840.0,2543.7L841.0,2543.2L842.0,2543.5L843.0,2544.2L844.0,2541.5L845.0,2542.4L846.0,2542.6L847.0,2542.8L848.0,2542.3L849.0,2541.5L850.0,2541.0L851.0,2541.6L852.0,2539.8L853.0,2540.0L854.0,2540.2L855.0,2541.0L856.0,2539.8L857.0,2539.3L858.0,2539.6L859.0,2539.2L860.0,2539.1L861.0,2537.7L862.0,2538.5L863.0,2538.2L864.0,2539.0L865.0,2538.2L866.0,2539.5L867.0,2538.5L868.0,2537.5L869.0,2537.3L870.0,2539.0L871.0,2536.7L872.0,2537.0L873.0,2538.2L874.0,2539.0L875.0,2538.8L876.0,2538.5L877.0,2538.0L878.0,2537.9L879.0,2538.1L880.0,2538.0L881.0,2538.4L882.0,2538.0L883.0,2538.3L884.0,2538.1L885.0,2539.6L886.0,2538.6L887.0,2538.2L888.0,2538.3L889.0,2539.4L890.0,2537.9L891.0,2538.7L892.0,2537.9L893.0,2538.9L894.0,2537.7L895.0,2536.6L896.0,2538.1" stroke="#0080FF" stroke-width="12.5"/>
<path class="c" d="M269.0,2761.8L270.0,2757.2L271.0,2756.3L272.0,2757.1L273.0,2755.5L274.0,2759.8L275.0,2758.0L276.0,2757.2L277.0,2758.7L278.0,2755.5L279.0,2754.1L280.0,2757.2L281.0,2757.3L282.0,2755.5L283.0,2758.3L284.0,2760.1L285.0,2756.8L286.0,2758.0L287.0,2758.2L288.0,2758.0L289.0,2758.9L290.0,2758.3L291.0,2759.2L292.0,2756.1L293.0,2757.1L294.0,2759.2L295.0,2757.5L296.0,2757.5L297.0,2758.7L298.0,2759.8L299.0,2758.4L300.0,2760.4L301.0,2762.0L302.0,2757.5L303.0,2758.5L304.0,2763.1L305.0,2761.5L306.0,2766.2L307.0,2768.2L308.0,2766.7L309.0,2767.8L310.0,2769.4L311.0,2771.2L312.0,2772.1L313.0,2772.0L314.0,2774.3L315.0,2771.4L316.0,2775.4L317.0,2775.2L317.5,2777.3L318.0,2774.8L319.0,2774.6L320.0,2771.4L321.0,2771.6L322.0,2770.6L323.0,2768.9L324.0,2766.0L325.0,2767.3L326.0,2765.4L327.0,2761.9L327.5,2760.1L328.0,2761.3L329.0,2764.0L330.0,2764.6L331.0,2764.3L332.0,2764.4L333.0,2766.2L334.0,2764.6L335.0,2763.1L336.0,2765.8L337.0,2768.4L338.0,2766.1L339.0,2769.7L340.0,2770.3L341.0,2770.4L342.0,2772.1L342.5,2770.4L343.0,2772.8L344.0,2776.5L345.0,2775.3L346.0,2775.6L347.0,2781.8L348.0,2779.9L349.0,2787.1L350.0,2786.8L351.0,2790.0L352.0,2792.4L352.5,2793.1L353.0,2796.2L354.0,2797.4L355.0,2800.0L356.0,2805.3L357.0,2806.7L358.0,2813.6L359.0,2815.2L360.0,2821.9L361.0,2826.3L362.0,2829.6L363.0,2831.8L364.0,2832.7L365.0,2838.4L366.0,2844.4L367.0,2844.0L368.0,2848.6L369.0,2849.2L370.0,2855.2L371.0,2851.7L372.0,2855.1L372.5,2856.0L373.0,2858.2L374.0,2859.3L375.0,2861.1L376.0,2859.6L377.0,2866.7L378.0,2865.4L379.0,2865.0L380.0,2869.3L381.0,2866.2L382.0,2869.5L383.0,2871.8L384.0,2872.1L385.0,2872.5L386.0,2873.3L387.0,2872.6L388.0,2875.4L389.0,2873.6L390.0,2878.4L391.0,2879.1L392.0,2878.3L393.0,2876.0L394.0,2881.2L395.0,2881.6L396.0,2880.0L397.0,2881.1L398.0,2882.5L399.0,2884.1L400.0,2882.9L401.0,2882.2L402.0,2883.3L403.0,2882.7L404.0,2887.9L405.0,2888.4L406.0,2883.7L407.0,2886.7L408.0,2890.7L409.0,2891.6L410.0,2893.0L411.0,2892.5L412.0,2891.8L413.0,2891.6L414.0,2893.9L415.0,2892.8L416.0,2889.7L417.0,2893.1L418.0,2890.6L419.0,2895.6L420.0,2895.6L421.0,2895.5L422.0,2897.0L423.0,2894.3L424.0,2896.5L425.0,2897.2L426.0,2898.7L427.0,2899.2L428.0,2900.7L429.0,2901.3L430.0,2899.3L431.0,2900.5L432.0,2905.0L433.0,2902.6L434.0,2904.1L435.0,2905.9L436.0,2904.5L437.0,2908.8L438.0,2904.8L439.0,2905.7L440.0,2904.1L441.0,2908.8L442.0,2907.0L443.0,2909.3L444.0,2910.0L445.0,2912.2L446.0,2910.3L447.0,2909.5L448.0,2909.6L449.0,2912.2L450.0,2908.2L451.0,2910.3L452.0,2908.7L453.0,2910.0L454.0,2913.6L455.0,2911.1L456.0,2912.5L457.0,2915.2L458.0,2911.4L459.0,2915.0L460.0,2913.5L461.0,2916.5L462.0,2915.5L463.0,2918.1L464.0,2916.5L465.0,2918.2L466.0,2919.9L467.0,2918.0L468.0,2920.2L469.0,2919.6L470.0,2920.6L471.0,2918.3L472.0,2919.9L473.0,2920.6L474.0,2921.7L475.0,2922.5L476.0,2923.0L477.0,2922.9L478.0,2921.3L479.0,2922.1L480.0,2924.5L481.0,2922.2L482.0,2924.1L483.0,2924.7L484.0,2924.9L485.0,2925.5L486.0,2923.4L487.0,2926.3L488.0,2922.9L489.0,2925.2L490.0,2928.2L491.0,2927.3L492.0,2929.2L493.0,2931.9L494.0,2928.8L495.0,2929.7L496.0,2927.6L497.0,2931.1L498.0,2933.2L499.0,2931.2L500.0,2931.0L501.0,2934.1L502.0,2931.4L503.0,2931.9L504.0,2931.9L505.0,2930.3L506.0,2933.4L507.0,2934.4L508.0,2934.2L509.0,2934.2L510.0,2931.4L511.0,2932.3L512.0,2935.8L513.0,2931.2L514.0,2930.8L515.0,2932.3L516.0,2929.7L517.0,2929.8L518.0,2929.1L519.0,2928.9L520.0,2929.6L521.0,2930.6L522.0,2929.3L523.0,2929.5L524.0,2927.2L525.0,2924.3L526.0,2925.7L527.0,2923.4L528.0,2925.7L529.0,2925.7L530.0,2923.5L531.0,2923.8L532.0,2924.5L533.0,2925.2L534.0,2921.8L535.0,2924.4L536.0,2921.7L537.0,2923.1L538.0,2918.1L539.0,2919.6L540.0,2919.7L541.0,2916.8L542.0,2915.4L543.0,2915.9L544.0,2917.6L545.0,2918.2L546.0,2918.5L547.0,2917.5L548.0,2914.6L549.0,2914.8L550.0,2917.1L551.0,2917.2L552.0,2915.5L553.0,2917.7L554.0,2913.5L555.0,2914.6L556.0,2914.8L557.0,2913.6L558.0,2911.5L559.0,2911.8L560.0,2913.8L561.0,2913.9L562.0,2915.7L563.0,2912.6L564.0,2909.8L565.0,2909.9L566.0,2909.0L567.0,2910.3L568.0,2912.8L569.0,2912.1L570.0,2911.9L571.0,2908.5L572.0,2910.2L573.0,2910.5L574.0,2913.0L575.0,2912.2L576.0,2909.8L577.0,2911.0L578.0,2910.3L579.0,2910.2L580.0,2910.2L581.0,2908.1L582.0,2913.3L583.0,2910.8L584.0,2909.1L585.0,2910.0L586.0,2909.0L587.0,2909.7L588.0,2908.9L589.0,2911.6L590.0,2906.4L591.0,2910.1L592.0,2907.8L593.0,2909.3L594.0,2906.4L595.0,2905.2L596.0,2907.4L597.0,2909.9L598.0,2905.4L599.0,2908.5L600.0,2909.8L601.0,2907.7L602.0,2906.8L603.0,2908.9L604.0,2905.2L605.0,2905.6L606.0,2904.1L607.0,2903.5L608.0,2901.7L609.0,2900.4L610.0,2903.2L611.0,2900.7L612.0,2900.7L613.0,2897.1L614.0,2899.7L615.0,2899.5L616.0,2897.1L617.0,2893.4L618.0,2896.8L619.0,2892.4L620.0,2895.4L621.0,2895.5L622.0,2891.3L623.0,2891.7L624.0,2890.0L625.0,2889.9L626.0,2888.5L627.0,2887.4L628.0,2886.6L629.0,2889.6L630.0,2887.9L631.0,2888.8L632.0,2885.8L633.0,2887.9L634.0,2883.2L635.0,2884.1L636.0,2883.2L637.0,2881.3L638.0,2881.1L639.0,2879.8L640.0,2881.3L641.0,2879.9L642.0,2881.3L643.0,2881.0L644.0,2879.7L645.0,2878.4L646.0,2878.9L647.0,2880.1L648.0,2878.3L649.0,2877.2L650.0,2876.9L651.0,2879.5L652.0,2875.9L653.0,2875.5L654.0,2876.4L655.0,2874.4L656.0,2872.5L657.0,2873.0L658.0,2873.5L659.0,2873.9L660.0,2873.6L661.0,2872.6L662.0,2874.0L663.0,2875.0L664.0,2872.0L665.0,2876.5L666.0,2872.4L667.0,2876.3L668.0,2876.2L669.0,2876.1L670.0,2875.2L671.0,2872.2L672.0,2872.4L673.0,2874.0L674.0,2871.1L675.0,2873.0L676.0,2869.9L677.0,2869.6L678.0,2871.2L679.0,2870.1L680.0,2870.8L681.0,2869.8L682.0,2868.1L683.0,2871.4L684.0,2868.8L685.0,2869.8L686.0,2871.1L687.0,2870.5L688.0,2866.5L689.0,2865.5L690.0,2864.1L691.0,2863.3L692.0,2862.3L693.0,2858.6L694.0,2856.7L695.0,2854.7L696.0,2853.1L697.0,2853.1L698.0,2848.1L699.0,2846.6L700.0,2844.9L701.0,2845.6L702.0,2845.3L703.0,2842.8L704.0,2840.7L705.0,2840.8L706.0,2839.9L707.0,2839.4L708.0,2837.6L709.0,2835.1L710.0,2835.3L711.0,2835.5L712.0,2831.7L713.0,2832.0L714.0,2830.7L715.0,2829.4L716.0,2826.7L717.0,2829.0L718.0,2825.9L719.0,2825.6L720.0,2822.7L721.0,2822.4L722.0,2820.9L723.0,2821.4L724.0,2821.1L725.0,2819.7L726.0,2819.1L727.0,2818.5L728.0,2818.3L729.0,2816.5L730.0,2815.9L731.0,2813.8L732.0,2814.3L733.0,2812.0L734.0,2812.1L735.0,2809.7L736.0,2810.6L737.0,2811.0L738.0,2809.7L739.0,2808.5L740.0,2810.3L741.0,2807.6L742.0,2808.7L743.0,2808.3L744.0,2808.0L745.0,2809.1L746.0,2806.8L747.0,2808.7L748.0,2808.4L749.0,2807.2L750.0,2807.4L751.0,2806.2L752.0,2805.9L753.0,2806.8L754.0,2806.1L755.0,2806.6L756.0,2804.7L757.0,2805.1L757.5,2803.2L758.0,2804.5L759.0,2803.2L760.0,2801.4L761.0,2797.3L762.0,2794.6L763.0,2792.6L764.0,2790.6L765.0,2789.9L766.0,2789.3L767.0,2788.7L768.0,2787.8L769.0,2791.4L770.0,2792.2L771.0,2792.4L772.0,2793.4L773.0,2793.7L774.0,2794.3L775.0,2794.2L776.0,2793.8L777.0,2795.5L778.0,2793.5L779.0,2794.6L780.0,2793.0L781.0,2794.6L782.0,2794.7L783.0,2793.4L784.0,2795.3L785.0,2794.1L786.0,2794.9L787.0,2794.3L788.0,2792.7L789.0,2792.9L790.0,2793.9L791.0,2791.6L792.0,2793.7L793.0,2792.9L794.0,2792.0L795.0,2791.6L796.0,2792.2L797.0,2789.5L798.0,2790.0L799.0,2786.9L800.0,2787.0L801.0,2785.4L802.0,2783.1L803.0,2781.3L804.0,2780.1L805.0,2780.1L806.0,2779.5L807.0,2779.3L808.0,2780.8L809.0,2782.5L810.0,2784.6L811.0,2784.8L812.0,2786.8L813.0,2787.1L814.0,2789.7L815.0,2788.3L816.0,2788.8L817.0,2789.4L818.0,2789.1L819.0,2788.6L820.0,2788.5L821.0,2789.6L822.0,2789.7L823.0,2788.5L824.0,2790.1L825.0,2788.4L826.0,2788.6L827.0,2788.8L828.0,2788.5L829.0,2788.3L830.0,2787.4L831.0,2788.1L832.0,2786.8L833.0,2786.7L834.0,2786.3L835.0,2786.4L836.0,2786.5L837.0,2786.4L838.0,2786.0L839.0,2786.8L840.0,2786.4L841.0,2786.1L842.0,2785.9L843.0,2784.5L844.0,2786.0L845.0,2784.7L846.0,2784.6L847.0,2784.6L848.0,2784.6L849.0,2783.8L850.0,2784.0L851.0,2783.3L852.0,2782.1L853.0,2782.3L854.0,2781.9L855.0,2781.3L856.0,2782.2L857.0,2782.4L858.0,2781.8L859.0,2780.9L860.0,2781.4L861.0,2781.7L862.0,2780.0L863.0,2780.2L864.0,2780.2L865.0,2779.4L866.0,2780.0L867.0,2778.9L868.0,2779.0L869.0,2780.2L870.0,2780.7L871.0,2779.1L872.0,2779.8L873.0,2778.2L874.0,2778.6L875.0,2778.8L876.0,2778.5L877.0,2779.1L878.0,2779.1L879.0,2778.7L880.0,2778.3L881.0,2778.5L882.0,2778.6L883.0,2778.2L884.0,2778.5L885.0,2778.4L886.0,2778.6L887.0,2777.8L888.0,2778.3L889.0,2779.1L890.0,2777.8L891.0,2779.0L892.0,2778.0L893.0,2778.6L894.0,2777.8L895.0,2779.3L896.0,2778.4" stroke="#00B000" stroke-width="12.5"/>
<path class="c" d="M269.0,3094.1L270.0,3094.5L271.0,3096.9L272.0,3098.3L273.0,3094.2L274.0,3098.7L275.0,3097.7L276.0,3094.7L277.0,3094.5L278.0,3095.4L279.0,3094.3L280.0,3092.6L281.0,3092.1L282.0,3095.9L283.0,3093.0L284.0,3097.6L285.0,3098.1L286.0,3094.7L287.0,3097.7L288.0,3094.2L289.0,3098.3L290.0,3096.5L291.0,3091.8L292.0,3093.6L293.0,3093.9L294.0,3094.6L295.0,3096.2L296.0,3090.8L297.0,3093.9L298.0,3097.1L299.0,3093.4L300.0,3093.2L301.0,3094.8L302.0,3092.7L303.0,3095.6L304.0,3094.3L305.0,3095.6L306.0,3096.1L307.0,3097.1L307.5,3093.3L308.0,3094.2L309.0,3091.1L310.0,3096.8L311.0,3097.0L312.0,3098.6L313.0,3098.5L314.0,3100.4L315.0,3104.2L316.0,3103.7L317.0,3105.0L318.0,3104.9L319.0,3106.4L320.0,3108.0L321.0,3105.6L322.0,3105.7L323.0,3105.2L324.0,3105.9L325.0,3106.3L326.0,3104.7L327.0,3105.3L328.0,3107.2L329.0,3104.6L330.0,3104.8L331.0,3107.2L332.0,3105.1L333.0,3105.8L334.0,3102.7L335.0,3104.4L336.0,3107.7L337.0,3105.8L337.5,3104.4L338.0,3104.9L339.0,3102.7L340.0,3103.4L341.0,3105.4L342.0,3107.5L343.0,3104.7L344.0,3112.0L345.0,3109.4L346.0,3111.5L347.0,3111.4L348.0,3113.1L349.0,3116.9L350.0,3119.0L351.0,3117.4L352.0,3118.8L352.5,3120.5L353.0,3124.9L354.0,3123.6L355.0,3128.4L356.0,3129.7L357.0,3134.4L358.0,3134.5L359.0,3135.0L360.0,3136.5L361.0,3141.0L362.0,3141.1L362.5,3141.9L363.0,3143.6L364.0,3143.4L365.0,3144.7L366.0,3144.2L367.0,3144.9L368.0,3145.7L369.0,3146.9L370.0,3150.8L371.0,3149.5L372.0,3149.7L373.0,3148.9L374.0,3150.6L375.0,3153.9L376.0,3154.0L377.0,3153.3L378.0,3153.7L379.0,3155.5L380.0,3154.6L381.0,3156.4L382.0,3156.5L383.0,3156.8L384.0,3154.3L385.0,3153.8L386.0,3158.2L387.0,3154.2L388.0,3154.6L389.0,3156.2L390.0,3157.4L391.0,3156.7L392.0,3159.1L393.0,3155.3L394.0,3155.2L395.0,3156.0L396.0,3157.9L397.0,3157.8L398.0,3156.5L399.0,3158.0L400.0,3157.4L401.0,3157.2L402.0,3156.8L403.0,3158.8L404.0,3157.5L405.0,3158.7L406.0,3157.8L407.0,3158.6L408.0,3159.5L409.0,3159.5L410.0,3161.1L411.0,3160.8L412.0,3160.7L413.0,3162.1L414.0,3159.2L415.0,3163.2L416.0,3158.8L417.0,3163.4L418.0,3163.8L419.0,3164.4L420.0,3163.0L421.0,3164.0L422.0,3164.7L423.0,3164.0L424.0,3164.5L425.0,3166.0L426.0,3165.8L427.0,3165.1L428.0,3165.7L429.0,3165.4L430.0,3167.7L431.0,3164.8L432.0,3165.1L433.0,3167.4L434.0,3165.9L435.0,3165.2L436.0,3167.4L437.0,3168.4L438.0,3169.7L439.0,3166.7L440.0,3167.6L441.0,3168.9L442.0,3170.1L443.0,3171.2L444.0,3171.1L445.0,3170.2L446.0,3168.9L447.0,3171.0L448.0,3174.9L449.0,3174.9L450.0,3173.8L451.0,3171.9L452.0,3173.5L453.0,3176.4L454.0,3172.3L455.0,3173.8L456.0,3176.1L457.0,3173.1L458.0,3177.2L459.0,3176.2L460.0,3180.1L461.0,3178.1L462.0,3179.0L463.0,3179.0L464.0,3181.3L465.0,3179.0L466.0,3179.7L467.0,3178.6L468.0,3177.2L469.0,3179.9L470.0,3180.2L471.0,3179.0L472.0,3178.9L473.0,3181.0L474.0,3181.1L475.0,3180.6L476.0,3184.9L477.0,3182.4L478.0,3184.9L479.0,3181.1L480.0,3185.6L481.0,3182.2L482.0,3181.6L483.0,3182.0L484.0,3183.2L485.0,3182.2L486.0,3182.3L487.0,3184.2L488.0,3183.4L489.0,3184.8L490.0,3184.9L491.0,3183.6L492.0,3185.7L493.0,3185.1L494.0,3185.0L495.0,3183.9L496.0,3183.4L497.0,3189.3L498.0,3187.2L499.0,3185.8L500.0,3187.8L501.0,3187.8L502.0,3188.3L503.0,3186.2L504.0,3186.9L505.0,3190.3L506.0,3191.7L507.0,3192.0L508.0,3187.8L509.0,3191.4L510.0,3193.3L511.0,3191.7L512.0,3191.7L513.0,3191.6L514.0,3188.2L515.0,3192.7L516.0,3192.9L517.0,3191.4L517.5,3190.5L518.0,3191.3L519.0,3192.2L520.0,3193.4L521.0,3191.6L522.0,3191.6L523.0,3190.9L524.0,3189.5L525.0,3188.9L526.0,3190.7L527.0,3189.4L528.0,3189.7L529.0,3192.1L530.0,3190.2L531.0,3186.3L532.0,3188.8L533.0,3187.5L534.0,3190.1L535.0,3187.6L536.0,3188.2L537.0,3186.8L538.0,3186.3L539.0,3182.0L540.0,3186.4L541.0,3186.7L542.0,3183.3L543.0,3186.2L544.0,3180.7L545.0,3182.6L546.0,3182.7L547.0,3184.2L548.0,3183.8L549.0,3180.9L550.0,3184.6L551.0,3180.0L552.0,3181.1L553.0,3181.1L554.0,3178.0L555.0,3179.0L556.0,3181.4L557.0,3183.1L558.0,3182.5L559.0,3180.0L560.0,3180.7L561.0,3177.1L562.0,3180.2L563.0,3181.7L564.0,3177.7L565.0,3180.4L566.0,3176.2L567.0,3177.9L568.0,3177.8L569.0,3178.6L570.0,3178.5L571.0,3180.1L572.0,3179.0L573.0,3177.7L574.0,3177.0L575.0,3175.7L576.0,3176.2L577.0,3174.2L578.0,3174.5L579.0,3178.8L580.0,3178.8L581.0,3179.0L582.0,3176.8L583.0,3178.6L584.0,3175.0L585.0,3178.9L586.0,3178.1L587.0,3179.2L588.0,3177.4L589.0,3177.6L590.0,3175.2L591.0,3179.3L592.0,3177.5L593.0,3176.9L594.0,3178.2L595.0,3179.9L596.0,3180.1L597.0,3176.5L598.0,3174.4L599.0,3176.4L600.0,3177.2L601.0,3177.1L602.0,3178.4L603.0,3177.3L604.0,3177.9L605.0,3179.5L606.0,3175.3L607.0,3177.7L608.0,3178.2L609.0,3175.6L610.0,3175.2L611.0,3176.1L612.0,3176.9L613.0,3170.7L614.0,3173.7L615.0,3172.8L616.0,3169.3L617.0,3173.0L618.0,3170.2L619.0,3174.6L620.0,3174.1L621.0,3168.6L622.0,3171.5L623.0,3168.0L624.0,3168.5L625.0,3169.7L626.0,3167.9L627.0,3168.3L628.0,3165.7L629.0,3165.4L630.0,3165.7L631.0,3168.6L632.0,3169.2L633.0,3168.3L634.0,3167.9L635.0,3165.7L636.0,3167.9L637.0,3168.0L638.0,3165.3L639.0,3165.8L640.0,3167.3L641.0,3162.8L642.0,3163.2L643.0,3165.0L644.0,3164.0L645.0,3162.6L646.0,3164.5L647.0,3164.1L648.0,3165.1L649.0,3165.4L650.0,3161.1L651.0,3161.7L652.0,3165.0L653.0,3162.5L654.0,3162.5L655.0,3162.0L656.0,3164.1L657.0,3162.1L658.0,3164.2L659.0,3162.6L660.0,3162.8L661.0,3161.4L662.0,3164.7L663.0,3164.8L664.0,3161.2L665.0,3163.1L666.0,3165.3L667.0,3161.2L668.0,3161.2L669.0,3162.6L670.0,3160.0L671.0,3162.7L672.0,3163.5L673.0,3162.9L674.0,3161.3L675.0,3161.9L676.0,3161.8L677.0,3162.3L678.0,3161.4L679.0,3161.2L680.0,3164.3L681.0,3161.6L682.0,3158.9L682.5,3160.9L683.0,3160.9L684.0,3162.3L685.0,3159.3L686.0,3158.3L687.0,3158.8L688.0,3159.0L689.0,3157.2L690.0,3154.8L691.0,3155.0L692.0,3152.2L693.0,3149.8L694.0,3149.5L695.0,3150.3L696.0,3148.3L697.0,3148.5L698.0,3146.2L699.0,3145.3L700.0,3143.3L701.0,3144.9L702.0,3142.5L703.0,3142.9L704.0,3141.4L705.0,3139.3L706.0,3139.9L707.0,3137.2L708.0,3136.8L709.0,3136.2L710.0,3134.2L711.0,3133.4L712.0,3134.6L713.0,3132.8L714.0,3133.3L715.0,3130.6L716.0,3131.5L717.0,3131.3L718.0,3129.9L719.0,3130.8L720.0,3129.9L721.0,3129.1L722.0,3127.7L723.0,3130.3L724.0,3127.3L725.0,3127.8L726.0,3126.3L727.0,3125.3L728.0,3125.8L729.0,3127.2L730.0,3124.2L731.0,3126.1L732.0,3125.0L733.0,3123.8L734.0,3124.1L735.0,3123.2L736.0,3123.1L737.0,3122.9L738.0,3122.6L739.0,3121.0L740.0,3122.1L741.0,3121.5L742.0,3121.6L743.0,3119.8L744.0,3120.9L745.0,3119.0L746.0,3120.1L747.0,3118.6L748.0,3119.4L749.0,3118.6L750.0,3116.6L751.0,3118.0L752.0,3115.8L753.0,3116.2L754.0,3116.9L755.0,3116.3L756.0,3116.8L757.0,3114.7L757.5,3115.5L758.0,3115.1L759.0,3111.6L760.0,3111.0L761.0,3108.4L762.0,3105.4L763.0,3102.8L764.0,3101.8L765.0,3100.0L766.0,3099.7L767.0,3099.6L768.0,3099.3L769.0,3100.3L770.0,3104.6L771.0,3104.4L772.0,3106.9L773.0,3108.1L774.0,3109.9L775.0,3108.8L776.0,3108.5L777.0,3108.8L778.0,3109.4L779.0,3109.5L780.0,3108.7L781.0,3110.2L782.0,3109.6L783.0,3108.1L784.0,3109.5L785.0,3109.4L786.0,3109.2L787.0,3109.3L788.0,3110.0L789.0,3109.0L790.0,3109.0L791.0,3108.8L792.0,3108.0L793.0,3109.1L794.0,3108.3L795.0,3108.6L796.0,3108.6L797.0,3107.0L798.0,3106.7L799.0,3106.2L800.0,3103.7L801.0,3102.8L802.0,3102.1L803.0,3100.1L804.0,3100.7L805.0,3098.1L806.0,3098.0L807.0,3099.6L808.0,3100.5L809.0,3101.2L810.0,3103.6L811.0,3106.0L812.0,3107.3L813.0,3109.1L814.0,3110.0L815.0,3110.2L816.0,3110.7L817.0,3109.8L818.0,3110.2L819.0,3109.4L820.0,3109.7L821.0,3110.2L822.0,3108.9L823.0,3109.2L824.0,3109.3L825.0,3110.0L826.0,3110.2L827.0,3109.3L828.0,3109.5L829.0,3109.5L830.0,3108.4L831.0,3108.4L832.0,3109.2L833.0,3110.0L834.0,3109.0L835.0,3108.2L836.0,3107.8L837.0,3109.5L838.0,3107.8L839.0,3108.3L840.0,3107.9L841.0,3108.2L842.0,3109.3L843.0,3108.6L844.0,3106.9L845.0,3106.5L846.0,3107.6L847.0,3107.3L848.0,3108.3L849.0,3108.6L850.0,3108.0L851.0,3108.7L852.0,3108.3L853.0,3107.9L854.0,3107.9L855.0,3106.7L856.0,3108.4L857.0,3108.1L858.0,3106.6L859.0,3107.0L860.0,3107.2L861.0,3107.7L862.0,3106.5L863.0,3106.4L864.0,3106.4L865.0,3107.0L866.0,3106.7L867.0,3108.4L868.0,3108.1L869.0,3107.5L870.0,3106.4L871.0,3106.7L872.0,3107.2L873.0,3108.0L874.0,3106.2L875.0,3106.8L876.0,3106.8L877.0,3107.7L878.0,3107.4L879.0,3106.8L880.0,3107.4L881.0,3107.1L882.0,3106.8L883.0,3107.1L884.0,3106.8L885.0,3106.2L886.0,3107.1L887.0,3106.5L888.0,3107.4L889.0,3106.6L890.0,3107.1L891.0,3106.9L892.0,3106.9L893.0,3107.3L894.0,3106.3L895.0,3106.2L896.0,3108.1" stroke="#BF00FF" stroke-width="12.5"/>
</svg>
<svg x="925" y="2137" width="1456.6" height="1730" viewBox="925 2137 1456.6 1730" overflow="hidden">
<path class="c" d="M918.0,2291.4L919.5,2290.6L921.0,2291.4L922.5,2290.6L924.0,2288.9L925.0,2287.5L925.5,2288.6L927.0,2288.3L928.5,2287.1L930.0,2289.1L931.5,2288.7L933.0,2286.6L934.5,2288.7L936.0,2287.2L937.5,2288.1L939.0,2288.2L940.5,2288.6L942.0,2289.8L943.5,2289.6L945.0,2290.0L946.5,2291.6L948.0,2290.9L949.5,2292.0L951.0,2290.6L952.5,2292.2L954.0,2292.8L955.0,2292.3L955.5,2291.8L957.0,2293.0L958.5,2293.2L960.0,2292.3L961.5,2293.5L963.0,2293.5L964.5,2292.6L966.0,2292.6L967.5,2293.0L969.0,2292.7L970.5,2291.1L972.0,2291.6L973.5,2292.6L975.0,2290.6L976.5,2291.7L978.0,2291.2L979.5,2292.1L980.0,2292.6L981.0,2293.1L982.5,2293.4L984.0,2293.4L985.5,2292.3L987.0,2293.2L988.5,2294.1L990.0,2293.9L991.5,2294.2L993.0,2294.5L994.5,2296.3L996.0,2295.3L997.5,2297.2L999.0,2296.8L1000.5,2299.1L1002.0,2297.8L1003.5,2298.9L1005.0,2300.0L1006.5,2298.2L1008.0,2299.1L1009.5,2299.9L1010.0,2299.3L1011.0,2299.4L1012.5,2299.4L1014.0,2299.7L1015.5,2299.4L1017.0,2300.9L1018.5,2298.9L1020.0,2300.5L1021.5,2300.1L1023.0,2299.5L1024.5,2298.6L1026.0,2298.7L1027.5,2299.8L1029.0,2299.8L1030.5,2299.0L1032.0,2299.9L1033.5,2299.2L1035.0,2301.0L1036.5,2301.4L1038.0,2299.6L1039.5,2301.4L1041.0,2302.5L1042.5,2301.4L1044.0,2301.8L1045.5,2302.0L1047.0,2303.5L1048.5,2302.7L1050.0,2304.4L1051.5,2304.4L1053.0,2305.7L1054.5,2306.6L1055.0,2306.6L1056.0,2308.3L1057.5,2306.9L1059.0,2307.9L1060.5,2307.9L1062.0,2309.3L1063.5,2309.1L1065.0,2310.3L1066.5,2312.2L1068.0,2311.6L1069.5,2312.6L1071.0,2313.6L1072.5,2314.7L1074.0,2316.2L1075.5,2317.6L1077.0,2318.6L1078.5,2321.0L1080.1,2323.0L1081.6,2325.0L1083.1,2328.5L1084.6,2331.4L1085.0,2332.0L1086.1,2334.6L1087.6,2337.1L1089.1,2342.0L1090.6,2345.7L1092.1,2350.2L1093.6,2356.0L1095.0,2361.6L1096.6,2368.9L1098.1,2376.6L1099.6,2385.0L1101.1,2393.0L1102.5,2402.0L1104.1,2412.7L1105.6,2422.6L1107.1,2432.9L1108.6,2444.9L1110.0,2456.6L1111.6,2472.2L1113.1,2488.3L1114.6,2504.6L1116.1,2522.0L1117.5,2537.1L1119.1,2553.2L1120.6,2568.4L1122.1,2582.4L1123.6,2596.2L1125.0,2606.5L1126.6,2619.6L1128.1,2630.0L1129.6,2635.7L1130.0,2636.2L1131.1,2635.5L1132.6,2630.5L1134.1,2622.9L1135.0,2617.8L1135.6,2613.2L1137.1,2601.8L1138.6,2587.5L1140.1,2571.8L1141.6,2556.9L1142.5,2546.6L1143.1,2540.3L1144.6,2523.7L1146.1,2506.6L1147.6,2491.1L1149.1,2475.3L1150.0,2467.0L1150.6,2462.1L1152.1,2449.6L1153.6,2437.3L1155.1,2428.9L1156.6,2421.4L1157.5,2417.2L1158.1,2415.8L1159.6,2410.9L1161.1,2408.5L1162.6,2406.7L1163.5,2407.2L1164.1,2407.2L1165.6,2408.6L1167.1,2411.1L1168.6,2414.1L1170.1,2418.9L1171.6,2424.2L1172.5,2426.8L1173.1,2429.6L1174.6,2436.2L1176.1,2444.9L1177.6,2453.6L1179.1,2464.9L1180.0,2472.3L1180.6,2477.1L1182.1,2490.0L1183.6,2504.9L1185.1,2520.7L1186.6,2536.7L1187.5,2546.9L1188.1,2553.3L1189.6,2571.6L1191.1,2590.0L1192.6,2609.7L1194.1,2631.5L1195.0,2646.8L1195.6,2657.3L1197.1,2686.1L1198.6,2716.8L1200.0,2746.6L1201.6,2781.3L1203.1,2815.0L1204.6,2845.3L1206.1,2874.3L1207.5,2896.9L1209.1,2918.4L1210.6,2934.7L1212.1,2949.1L1213.6,2961.2L1215.0,2971.7L1216.6,2983.5L1218.1,2995.4L1219.6,3006.2L1221.1,3014.3L1222.5,3021.6L1224.1,3028.5L1225.6,3033.3L1227.1,3035.0L1227.5,3035.2L1228.6,3035.1L1230.1,3031.3L1231.6,3026.2L1232.5,3022.4L1233.1,3018.5L1234.6,3009.9L1236.1,2998.3L1237.6,2985.2L1239.1,2970.9L1240.0,2962.4L1240.6,2956.1L1242.1,2939.3L1243.6,2921.7L1245.1,2903.1L1246.6,2882.9L1247.5,2872.3L1248.1,2864.3L1249.6,2844.1L1251.1,2821.8L1252.5,2796.7L1254.1,2760.6L1255.6,2722.9L1257.1,2690.0L1257.5,2682.9L1258.6,2665.3L1260.1,2646.8L1261.6,2631.6L1263.1,2620.0L1264.6,2609.7L1265.0,2606.3L1266.1,2599.1L1267.6,2588.7L1269.1,2578.2L1270.6,2567.5L1272.1,2557.6L1273.6,2549.0L1275.0,2541.2L1276.6,2534.8L1278.1,2529.0L1279.6,2524.1L1281.1,2520.0L1282.6,2516.8L1284.1,2513.0L1285.0,2511.9L1285.6,2511.2L1287.1,2507.8L1288.6,2506.5L1290.1,2504.0L1291.6,2502.5L1293.1,2501.5L1294.6,2500.1L1296.1,2499.3L1297.5,2498.3L1299.1,2498.4L1300.6,2498.3L1302.1,2498.6L1303.6,2498.9L1305.1,2498.8L1306.6,2499.7L1308.1,2499.2L1309.6,2499.1L1311.1,2499.6L1312.6,2499.8L1314.1,2499.5L1315.0,2499.1L1315.6,2500.2L1317.1,2499.2L1318.6,2498.8L1320.1,2498.5L1321.6,2497.3L1323.1,2497.3L1324.6,2495.8L1326.1,2495.1L1327.6,2495.3L1329.1,2494.7L1330.6,2495.1L1332.1,2494.9L1333.6,2495.6L1335.0,2496.6L1336.6,2496.8L1338.1,2499.7L1339.6,2501.1L1341.1,2504.5L1342.6,2506.8L1344.2,2510.5L1345.0,2511.9L1345.7,2513.7L1347.2,2516.2L1348.7,2520.4L1350.2,2523.3L1351.7,2527.2L1353.2,2531.4L1354.7,2536.0L1355.0,2536.9L1356.2,2541.4L1357.7,2546.1L1359.2,2553.0L1360.7,2558.2L1362.2,2565.2L1363.7,2571.7L1365.0,2577.6L1366.7,2583.6L1368.2,2589.6L1369.7,2595.0L1371.2,2600.7L1372.7,2604.9L1374.2,2609.5L1375.0,2612.7L1375.7,2613.5L1377.2,2616.8L1378.7,2620.3L1380.2,2622.2L1381.7,2624.9L1383.2,2626.0L1384.7,2626.9L1385.0,2626.7L1386.2,2627.4L1387.7,2626.7L1389.2,2625.0L1390.7,2622.0L1392.2,2619.5L1393.7,2616.1L1395.0,2612.1L1396.7,2606.0L1398.2,2600.0L1399.7,2592.8L1401.2,2584.6L1402.5,2577.0L1404.2,2567.7L1405.7,2559.0L1407.2,2551.1L1408.7,2542.8L1410.0,2536.4L1411.7,2531.5L1413.2,2527.9L1414.7,2525.7L1416.2,2524.5L1416.5,2524.3L1417.7,2525.9L1419.2,2527.5L1420.7,2531.1L1422.2,2534.7L1423.7,2538.8L1425.0,2542.3L1426.7,2544.3L1428.2,2546.6L1429.7,2547.7L1431.0,2546.7L1432.7,2543.6L1434.2,2538.0L1435.7,2531.2L1437.2,2523.7L1437.5,2521.6L1438.7,2515.9L1440.2,2507.2L1441.7,2498.8L1443.2,2490.8L1444.7,2482.9L1445.0,2482.3L1446.2,2476.5L1447.7,2470.4L1449.2,2465.2L1450.7,2459.7L1452.2,2454.7L1453.7,2450.7L1455.0,2447.1L1456.7,2442.8L1458.2,2437.9L1459.7,2434.3L1461.2,2432.3L1462.7,2428.0L1464.2,2426.2L1465.7,2423.7L1467.2,2423.5L1467.5,2423.4L1468.7,2422.8L1470.2,2423.0L1471.7,2423.1L1473.2,2424.4L1474.7,2424.3L1476.2,2424.2L1477.5,2424.4L1479.2,2424.4L1480.7,2423.5L1482.2,2422.2L1483.7,2422.1L1485.2,2421.7L1486.7,2422.1L1487.5,2422.0L1488.2,2422.5L1489.7,2423.8L1491.2,2426.7L1492.7,2430.3L1494.2,2433.5L1495.7,2437.5L1497.2,2441.2L1497.5,2441.8L1498.7,2443.9L1500.2,2447.6L1501.7,2450.4L1503.2,2452.6L1504.7,2453.8L1506.2,2454.8L1507.7,2455.9L1508.0,2456.1L1509.2,2455.5L1510.7,2454.2L1512.2,2453.3L1513.7,2451.9L1515.2,2450.2L1516.7,2447.3L1518.0,2445.8L1519.7,2441.7L1521.2,2438.4L1522.7,2434.8L1524.2,2430.8L1525.7,2427.3L1527.2,2423.6L1528.7,2421.6L1530.0,2419.8L1531.7,2418.0L1533.2,2417.3L1534.7,2417.0L1536.2,2415.9L1537.7,2415.2L1539.2,2415.0L1540.7,2414.3L1542.2,2414.3L1542.5,2414.0L1543.7,2413.6L1545.2,2412.7L1546.7,2413.2L1548.2,2412.8L1549.7,2414.8L1551.2,2415.4L1552.7,2416.7L1554.2,2419.1L1555.7,2422.4L1557.2,2425.9L1557.5,2427.5L1558.7,2431.2L1560.2,2438.9L1561.7,2447.3L1563.2,2456.8L1564.7,2465.1L1565.0,2467.0L1566.2,2472.8L1567.7,2481.1L1569.2,2490.3L1570.7,2500.6L1572.2,2512.2L1572.5,2514.6L1573.7,2528.1L1575.2,2546.5L1576.7,2566.7L1577.5,2577.2L1578.2,2585.9L1579.7,2605.5L1581.2,2622.8L1582.5,2636.7L1584.2,2653.0L1585.7,2664.4L1587.2,2674.1L1587.5,2674.8L1588.7,2680.1L1590.2,2684.7L1591.7,2688.3L1593.2,2689.9L1594.0,2690.5L1594.7,2691.4L1596.2,2691.4L1597.7,2690.5L1599.2,2690.1L1600.7,2689.5L1602.2,2688.0L1603.7,2686.3L1605.0,2684.8L1606.7,2681.6L1608.2,2679.0L1609.7,2676.7L1611.2,2672.9L1612.7,2669.3L1614.2,2665.6L1615.0,2664.6L1615.7,2662.0L1617.2,2658.4L1618.7,2655.7L1620.2,2653.2L1621.7,2651.8L1622.5,2652.3L1623.2,2652.4L1624.7,2656.3L1626.2,2659.8L1627.7,2665.0L1629.2,2669.8L1630.0,2672.3L1630.7,2672.9L1632.2,2675.6L1633.7,2678.0L1635.2,2679.2L1636.7,2679.4L1637.5,2679.3L1638.2,2679.3L1639.8,2677.6L1641.2,2674.4L1642.8,2671.6L1644.2,2668.7L1645.0,2667.2L1645.8,2665.9L1647.2,2663.3L1648.8,2661.1L1650.2,2659.6L1651.8,2659.4L1652.5,2659.4L1653.2,2660.2L1654.8,2661.7L1656.2,2663.2L1657.8,2665.0L1659.2,2667.0L1660.0,2667.0L1660.8,2666.0L1662.2,2665.4L1663.8,2662.4L1665.2,2660.4L1666.8,2657.9L1667.5,2657.0L1668.3,2656.7L1669.8,2654.0L1671.3,2653.7L1672.8,2651.8L1674.3,2652.3L1675.0,2652.6L1675.8,2652.0L1677.3,2652.4L1678.8,2653.2L1680.3,2654.8L1681.8,2656.0L1683.3,2657.9L1684.8,2659.8L1685.0,2659.9L1686.3,2661.6L1687.8,2663.7L1689.3,2664.8L1690.8,2667.9L1692.3,2669.0L1693.8,2671.0L1695.3,2671.0L1696.8,2671.7L1697.5,2670.4L1698.3,2669.7L1699.8,2666.8L1701.3,2662.0L1702.8,2654.7L1704.0,2647.6L1705.8,2631.6L1707.3,2616.9L1708.8,2604.2L1709.0,2602.3L1710.3,2593.0L1711.8,2583.8L1713.3,2578.1L1714.8,2572.3L1715.0,2572.8L1716.3,2569.5L1717.8,2567.0L1719.3,2565.6L1720.8,2564.3L1722.3,2564.0L1722.5,2564.9L1723.8,2564.7L1725.3,2566.3L1726.8,2567.8L1728.3,2571.2L1729.8,2573.8L1731.3,2578.5L1732.5,2581.9L1734.3,2588.6L1735.8,2595.2L1737.3,2602.3L1738.8,2609.5L1740.0,2617.0L1741.8,2627.6L1743.3,2637.9L1744.8,2649.4L1746.3,2661.6L1747.5,2671.7L1749.3,2689.1L1750.8,2705.0L1752.3,2724.3L1752.5,2726.9L1753.8,2747.2L1755.3,2772.7L1756.8,2797.1L1757.5,2807.2L1758.3,2817.7L1759.8,2832.4L1761.3,2846.1L1762.5,2856.6L1764.3,2875.1L1765.8,2889.9L1767.3,2905.5L1767.5,2906.9L1768.8,2918.8L1770.3,2930.9L1771.8,2941.9L1773.3,2951.5L1774.8,2960.2L1775.0,2961.5L1776.3,2969.1L1777.8,2976.0L1779.3,2983.1L1780.8,2988.1L1782.3,2992.6L1782.5,2992.9L1783.8,2995.3L1785.3,2998.0L1786.8,3000.0L1788.3,3001.0L1788.5,3001.1L1789.8,3000.9L1791.3,3000.2L1792.8,2998.0L1794.3,2995.0L1795.8,2991.6L1796.0,2991.4L1797.3,2985.8L1798.8,2979.4L1800.3,2970.9L1801.8,2961.1L1802.5,2957.0L1803.3,2951.1L1804.8,2941.3L1806.3,2928.7L1807.8,2917.6L1809.0,2906.8L1810.8,2889.4L1812.3,2874.3L1813.8,2859.0L1814.0,2856.5L1815.3,2843.5L1816.8,2826.8L1818.3,2810.6L1819.8,2793.9L1820.0,2792.5L1821.3,2777.0L1822.8,2759.0L1824.3,2741.0L1825.8,2724.3L1827.3,2708.6L1827.5,2707.5L1828.8,2693.9L1830.3,2680.7L1831.8,2668.3L1833.3,2657.6L1834.8,2647.2L1835.0,2646.7L1836.3,2639.0L1837.8,2632.3L1839.3,2626.4L1840.8,2621.6L1842.3,2617.7L1842.5,2617.3L1843.8,2614.7L1845.3,2612.1L1846.8,2610.5L1848.3,2609.6L1849.8,2608.0L1851.3,2606.7L1852.5,2604.9L1854.3,2601.0L1855.8,2598.8L1857.3,2595.8L1858.8,2592.8L1860.0,2590.5L1861.8,2588.8L1863.3,2587.1L1864.8,2586.8L1866.3,2586.5L1866.5,2586.7L1867.8,2587.4L1869.3,2588.1L1870.8,2589.4L1872.3,2591.9L1873.8,2593.9L1875.0,2597.2L1876.8,2602.6L1878.3,2607.7L1879.8,2612.7L1881.3,2618.1L1882.5,2621.5L1884.3,2627.9L1885.8,2631.8L1887.3,2635.7L1888.8,2638.2L1890.0,2639.8L1891.8,2642.0L1893.3,2643.8L1894.8,2644.2L1896.3,2646.4L1897.8,2646.0L1898.5,2646.6L1899.3,2646.6L1900.8,2646.3L1902.3,2645.1L1903.8,2644.2L1905.3,2643.1L1906.8,2642.0L1908.3,2641.5L1909.8,2640.4L1910.0,2639.3L1911.3,2637.7L1912.8,2635.8L1914.3,2634.0L1915.8,2630.5L1917.3,2628.9L1918.8,2625.0L1920.3,2622.0L1921.8,2618.7L1922.5,2616.8L1923.3,2615.4L1924.8,2610.8L1926.3,2607.5L1927.8,2602.8L1929.3,2598.6L1930.8,2595.2L1932.3,2589.8L1933.8,2585.6L1935.0,2582.4L1936.8,2577.2L1938.3,2572.2L1939.8,2567.3L1941.3,2563.1L1942.8,2559.6L1944.3,2554.9L1945.8,2551.6L1947.3,2548.0L1947.5,2546.9L1948.8,2543.6L1950.3,2540.3L1951.8,2536.9L1953.3,2534.2L1954.8,2530.8L1956.3,2528.2L1957.8,2526.0L1959.3,2524.1L1960.8,2521.9L1962.4,2519.7L1962.5,2520.1L1963.9,2517.6L1965.4,2516.5L1966.9,2514.2L1968.4,2512.9L1969.9,2511.2L1971.4,2510.8L1972.5,2509.5L1972.9,2510.2L1974.4,2508.5L1975.9,2508.2L1977.4,2506.6L1978.9,2505.5L1980.0,2506.4L1980.4,2505.9L1981.9,2506.2L1983.4,2506.3L1984.9,2507.0L1986.4,2508.1L1987.9,2509.8L1989.4,2511.2L1990.0,2511.9L1990.9,2513.1L1992.4,2516.3L1993.9,2518.6L1995.4,2522.5L1996.9,2526.6L1998.4,2530.0L1999.9,2534.6L2001.4,2538.7L2002.5,2541.9L2002.9,2542.2L2004.4,2546.8L2005.9,2551.2L2007.4,2555.7L2008.9,2560.5L2010.4,2564.7L2011.9,2570.3L2012.5,2572.0L2013.4,2575.4L2014.9,2581.0L2016.4,2586.3L2017.9,2591.1L2019.4,2595.8L2020.0,2597.6L2020.9,2598.5L2022.4,2600.0L2023.9,2600.8L2025.0,2602.3L2025.4,2601.8L2026.9,2600.7L2028.4,2599.0L2029.9,2595.2L2031.0,2592.0L2031.4,2590.8L2032.9,2583.9L2034.4,2576.3L2035.9,2567.0L2037.4,2556.9L2037.5,2556.6L2038.9,2548.7L2040.4,2539.4L2041.9,2529.8L2043.4,2520.8L2044.9,2512.2L2045.0,2511.7L2046.4,2504.5L2047.9,2497.3L2049.4,2490.7L2050.9,2484.0L2052.4,2479.6L2052.5,2479.6L2053.9,2475.9L2055.4,2472.6L2056.9,2469.0L2058.4,2467.3L2059.9,2465.0L2061.4,2464.1L2062.5,2462.8L2062.9,2463.0L2064.4,2462.1L2065.9,2460.3L2067.4,2460.5L2068.9,2460.0L2070.4,2459.3L2071.9,2458.6L2072.5,2458.5L2073.4,2459.4L2074.9,2460.4L2076.4,2461.6L2077.9,2463.6L2079.4,2464.8L2080.9,2468.5L2082.4,2472.1L2082.5,2471.9L2083.9,2476.1L2085.4,2481.7L2086.9,2488.4L2088.4,2494.8L2089.9,2499.2L2090.0,2500.1L2091.4,2503.1L2092.9,2505.6L2094.4,2507.2L2095.9,2507.4L2096.5,2506.6L2097.4,2507.3L2098.9,2505.5L2100.4,2502.8L2101.9,2500.2L2103.4,2496.5L2104.9,2491.9L2105.0,2491.8L2106.4,2487.9L2107.9,2483.2L2109.4,2477.8L2110.9,2472.2L2112.4,2467.3L2112.5,2467.9L2113.9,2462.6L2115.4,2457.7L2116.9,2453.1L2118.4,2449.2L2119.9,2444.9L2121.4,2441.1L2122.5,2438.9L2122.9,2438.2L2124.4,2436.0L2125.9,2433.9L2127.4,2431.8L2128.9,2429.3L2130.4,2427.9L2131.9,2427.1L2132.5,2426.9L2133.4,2426.2L2134.9,2425.6L2136.4,2425.3L2137.9,2425.8L2139.0,2425.2L2139.4,2425.2L2140.9,2425.5L2142.4,2426.3L2143.9,2426.7L2145.4,2428.2L2146.9,2429.6L2148.4,2430.8L2149.9,2432.5L2151.4,2434.5L2152.5,2435.8L2152.9,2437.2L2154.4,2439.7L2155.9,2443.4L2157.4,2446.9L2158.9,2450.5L2160.4,2455.7L2161.9,2460.5L2162.5,2462.8L2163.4,2466.8L2164.9,2472.2L2166.4,2477.9L2167.9,2484.9L2169.4,2491.6L2170.9,2498.6L2172.4,2506.7L2172.5,2506.9L2173.9,2514.7L2175.4,2522.4L2176.9,2531.2L2178.4,2539.8L2179.9,2548.0L2180.0,2548.7L2181.4,2557.2L2182.9,2565.6L2184.4,2575.6L2185.9,2585.9L2187.4,2598.1L2187.5,2599.3L2188.9,2612.1L2190.4,2629.1L2191.9,2646.1L2192.5,2651.5L2193.4,2662.1L2194.9,2677.2L2196.4,2691.3L2197.5,2699.0L2197.9,2701.3L2199.4,2710.7L2200.9,2717.8L2202.4,2722.2L2202.5,2722.2L2203.9,2725.2L2205.4,2725.6L2206.9,2726.9L2207.5,2727.2L2208.4,2726.8L2209.9,2726.2L2211.4,2725.8L2212.9,2723.7L2214.4,2723.4L2215.9,2721.2L2217.4,2719.7L2217.5,2719.4L2218.9,2718.4L2220.4,2715.4L2221.9,2713.3L2223.4,2709.4L2224.9,2706.0L2226.4,2700.3L2227.5,2696.9L2227.9,2695.9L2229.4,2688.2L2230.9,2679.7L2232.4,2670.9L2233.9,2662.2L2235.0,2657.8L2235.4,2654.8L2236.9,2647.8L2238.4,2640.6L2239.9,2635.0L2241.4,2629.5L2242.5,2627.8L2242.9,2626.0L2244.4,2624.3L2245.9,2622.8L2247.4,2620.9L2248.9,2620.3L2250.0,2619.2L2250.4,2619.6L2251.9,2618.9L2253.4,2617.9L2255.0,2617.3L2256.5,2615.8L2258.0,2614.6L2259.5,2612.2L2260.0,2611.3L2261.0,2609.6L2262.5,2606.7L2264.0,2601.5L2265.5,2596.3L2267.0,2589.6L2267.5,2587.3L2268.5,2582.9L2270.0,2573.1L2271.5,2564.2L2273.0,2554.7L2274.5,2545.3L2275.0,2541.9L2276.0,2536.6L2277.5,2527.8L2279.0,2520.0L2280.5,2513.2L2282.0,2507.9L2282.5,2506.5L2283.5,2505.1L2285.0,2502.8L2286.5,2500.9L2288.0,2500.3L2289.5,2499.7L2291.0,2499.5L2292.5,2499.6L2292.5,2499.7L2294.0,2499.2L2295.5,2497.9L2297.0,2497.3L2298.5,2496.5L2300.0,2495.2L2301.5,2493.4L2302.5,2491.7L2303.0,2491.0L2304.5,2488.3L2306.0,2484.4L2307.5,2481.1L2309.0,2476.3L2310.5,2472.1L2312.0,2466.5L2312.5,2464.2L2313.5,2460.9L2315.0,2454.6L2316.5,2448.9L2318.0,2443.3L2319.5,2437.5L2321.0,2431.8L2322.5,2428.0L2322.5,2426.7L2324.0,2422.6L2325.5,2418.7L2327.0,2414.3L2328.5,2412.1L2329.0,2412.2L2330.0,2410.9L2331.5,2409.5L2333.0,2409.4L2334.5,2408.7L2335.0,2408.7L2336.0,2409.9L2337.5,2410.7L2339.0,2412.0L2340.5,2412.6L2342.0,2413.8L2343.5,2415.2L2345.0,2416.8L2345.0,2417.6L2346.5,2417.8L2348.0,2418.5L2349.5,2420.2L2351.0,2421.8L2352.5,2422.7L2354.0,2423.1L2355.5,2424.8L2357.0,2425.7L2358.5,2426.1L2360.0,2427.5L2360.0,2427.2L2361.5,2428.5L2363.0,2429.0L2364.5,2429.7L2366.0,2431.1L2367.5,2431.9L2369.0,2431.9L2370.5,2434.2L2372.0,2434.2L2372.5,2435.1L2373.5,2435.5L2375.0,2436.0L2376.5,2436.4L2378.0,2437.1L2379.5,2436.9L2380.0,2436.3L2381.0,2436.9L2382.5,2436.2L2384.0,2436.7L2385.5,2435.9L2387.0,2435.7" stroke="#FF0000" stroke-width="12.5"/>
<path class="c" d="M918.0,2521.7L919.5,2520.5L921.0,2519.6L922.5,2521.2L924.0,2518.7L925.0,2519.3L925.5,2519.6L927.0,2518.8L928.5,2519.1L930.0,2519.8L931.5,2519.5L933.0,2521.1L934.5,2519.8L936.0,2519.9L937.5,2520.9L939.0,2521.1L940.5,2521.4L942.0,2520.0L943.5,2520.6L945.0,2519.2L946.5,2520.0L948.0,2519.7L949.5,2520.8L951.0,2521.4L952.5,2520.4L954.0,2520.6L955.0,2521.4L955.5,2520.1L957.0,2521.7L958.5,2518.8L960.0,2519.9L961.5,2520.0L963.0,2519.7L964.5,2519.5L966.0,2519.0L967.5,2517.9L969.0,2518.6L970.5,2519.7L972.0,2519.4L973.5,2520.2L975.0,2519.1L976.5,2519.7L978.0,2517.6L979.5,2517.4L981.0,2517.8L982.5,2518.5L984.0,2518.0L985.0,2517.9L985.5,2518.9L987.0,2518.0L988.5,2519.6L990.0,2519.2L991.5,2519.3L993.0,2518.4L994.5,2519.8L996.0,2520.0L997.5,2521.2L999.0,2520.8L1000.5,2522.5L1002.0,2520.9L1003.5,2523.0L1005.0,2525.1L1006.5,2524.2L1008.0,2524.2L1009.5,2526.2L1010.0,2524.9L1011.0,2524.7L1012.5,2525.5L1014.0,2525.9L1015.5,2526.1L1017.0,2525.9L1018.5,2526.2L1020.0,2526.3L1021.5,2527.5L1023.0,2526.6L1024.5,2527.4L1026.0,2527.9L1027.5,2528.0L1029.0,2528.4L1030.5,2528.6L1032.0,2529.5L1033.5,2528.4L1035.0,2529.2L1036.5,2530.7L1038.0,2530.9L1039.5,2531.3L1041.0,2531.3L1042.5,2531.8L1044.0,2532.7L1045.5,2534.3L1047.0,2533.2L1048.5,2535.1L1050.0,2534.0L1051.5,2535.2L1053.0,2536.6L1054.5,2537.1L1055.0,2536.7L1056.0,2537.9L1057.5,2539.4L1059.0,2538.3L1060.5,2538.7L1062.0,2539.5L1063.5,2540.8L1065.0,2541.8L1066.5,2542.7L1068.0,2543.9L1069.5,2545.1L1071.0,2545.2L1072.5,2547.4L1074.0,2549.8L1075.5,2551.0L1077.0,2553.4L1078.5,2555.0L1080.1,2556.9L1081.6,2559.6L1083.1,2562.9L1084.6,2565.5L1085.0,2566.3L1086.1,2568.9L1087.6,2573.7L1089.1,2577.4L1090.6,2583.0L1092.1,2589.4L1093.6,2594.7L1095.0,2602.2L1096.6,2611.1L1098.1,2620.0L1099.6,2629.6L1101.1,2640.7L1102.5,2652.0L1104.1,2663.5L1105.6,2675.8L1107.1,2690.2L1108.6,2702.9L1110.0,2717.0L1111.6,2732.1L1113.1,2748.2L1114.6,2763.9L1116.1,2777.1L1117.5,2786.9L1119.1,2795.0L1120.6,2802.0L1122.1,2805.1L1123.5,2805.9L1125.1,2806.6L1126.6,2803.0L1128.1,2799.5L1129.6,2793.8L1130.0,2791.5L1131.1,2786.4L1132.6,2776.0L1134.1,2764.5L1135.6,2752.2L1137.1,2740.3L1137.5,2737.1L1138.6,2729.3L1140.1,2720.0L1141.6,2710.0L1143.1,2702.6L1144.6,2694.1L1145.0,2692.7L1146.1,2686.6L1147.6,2679.6L1149.1,2673.5L1150.6,2668.0L1152.1,2663.8L1152.5,2662.2L1153.6,2660.2L1155.1,2657.5L1156.6,2655.1L1158.1,2654.7L1159.0,2653.9L1159.6,2654.3L1161.1,2656.0L1162.6,2658.8L1164.1,2661.6L1165.6,2666.1L1167.1,2670.4L1167.5,2672.3L1168.6,2675.5L1170.1,2682.8L1171.6,2690.4L1173.1,2699.7L1174.6,2709.0L1175.0,2711.5L1176.1,2719.5L1177.6,2732.3L1179.1,2745.4L1180.6,2760.7L1182.1,2776.6L1182.5,2782.2L1183.6,2795.9L1185.1,2816.5L1186.6,2841.6L1187.5,2857.3L1188.1,2867.9L1189.6,2899.0L1191.1,2930.3L1192.0,2947.8L1192.6,2956.8L1194.1,2978.3L1195.6,2998.4L1197.1,3016.8L1197.5,3022.3L1198.6,3036.3L1200.1,3057.2L1201.6,3077.0L1203.1,3098.1L1204.6,3116.8L1205.0,3121.6L1206.1,3134.7L1207.6,3151.6L1209.1,3167.1L1210.6,3181.6L1212.1,3193.7L1212.5,3197.2L1213.6,3205.0L1215.1,3215.5L1216.6,3224.9L1218.1,3233.2L1219.6,3240.5L1220.0,3241.4L1221.1,3246.7L1222.6,3253.2L1224.1,3257.2L1225.0,3257.4L1225.6,3257.5L1227.1,3256.5L1228.6,3252.6L1230.1,3245.4L1231.6,3237.6L1232.5,3232.1L1233.1,3228.6L1234.6,3215.7L1236.1,3201.8L1237.6,3185.3L1239.1,3167.6L1240.0,3156.5L1240.6,3149.2L1242.1,3130.2L1243.6,3109.1L1245.1,3088.6L1246.6,3067.9L1247.5,3056.1L1248.1,3048.8L1249.6,3031.9L1251.1,3014.4L1252.6,2997.3L1254.1,2980.8L1255.0,2972.7L1255.6,2965.5L1257.1,2949.5L1258.6,2933.4L1260.1,2919.2L1261.6,2904.7L1262.5,2897.0L1263.1,2891.3L1264.6,2880.2L1266.1,2869.3L1267.6,2859.2L1269.1,2851.2L1270.0,2846.7L1270.6,2844.1L1272.1,2839.3L1273.6,2833.4L1275.1,2829.9L1276.6,2826.7L1278.1,2824.0L1279.6,2821.1L1280.0,2821.2L1281.1,2820.0L1282.6,2818.2L1284.1,2817.2L1285.6,2816.6L1287.1,2815.6L1288.6,2814.8L1290.1,2814.8L1291.6,2813.7L1293.1,2812.8L1294.0,2813.7L1294.6,2813.3L1296.1,2813.1L1297.6,2813.3L1299.1,2813.4L1300.6,2814.0L1302.1,2814.0L1303.6,2814.3L1305.1,2815.5L1306.6,2815.6L1308.1,2816.1L1309.6,2815.6L1311.1,2815.9L1312.6,2815.9L1314.1,2816.8L1315.0,2816.9L1315.6,2816.7L1317.1,2816.8L1318.6,2817.1L1320.1,2816.4L1321.6,2816.8L1323.1,2816.2L1324.6,2816.0L1326.1,2816.7L1327.6,2816.2L1329.1,2817.5L1330.6,2818.0L1332.1,2818.6L1333.6,2819.0L1335.0,2819.2L1336.6,2820.6L1338.1,2822.9L1339.6,2826.1L1341.1,2828.5L1342.6,2831.6L1344.2,2834.2L1345.0,2837.6L1345.7,2838.9L1347.2,2842.2L1348.7,2846.4L1350.2,2851.5L1351.7,2856.1L1353.2,2860.6L1354.7,2865.5L1355.0,2866.8L1356.2,2871.3L1357.7,2875.3L1359.2,2881.1L1360.7,2886.5L1362.2,2891.5L1363.7,2896.6L1365.0,2901.6L1366.7,2908.5L1368.2,2913.4L1369.7,2920.5L1371.2,2926.9L1372.7,2931.6L1374.2,2937.8L1375.0,2941.9L1375.7,2944.6L1377.2,2952.0L1378.7,2957.6L1380.2,2964.5L1381.7,2970.6L1383.2,2975.5L1384.7,2981.9L1385.0,2982.4L1386.2,2984.9L1387.7,2988.7L1389.2,2992.7L1390.7,2996.1L1392.2,2997.8L1393.7,2999.6L1395.0,2999.0L1396.7,2998.9L1398.2,2997.9L1399.7,2995.6L1401.2,2992.1L1402.7,2987.9L1404.2,2983.9L1405.0,2981.5L1405.7,2979.2L1407.2,2972.8L1408.7,2966.4L1410.2,2958.4L1411.7,2951.2L1412.5,2946.6L1413.2,2943.8L1414.7,2937.3L1416.2,2931.0L1417.7,2924.1L1419.2,2919.4L1420.0,2917.6L1420.7,2914.9L1422.2,2911.7L1423.7,2909.2L1425.2,2906.2L1426.7,2903.5L1428.2,2900.8L1429.7,2897.5L1430.0,2897.4L1431.2,2894.5L1432.7,2888.8L1434.2,2884.0L1435.7,2878.5L1437.2,2873.3L1437.5,2872.5L1438.7,2868.1L1440.2,2862.0L1441.7,2856.9L1443.2,2851.1L1444.7,2845.1L1445.0,2844.6L1446.2,2838.9L1447.7,2833.1L1449.2,2826.6L1450.7,2819.9L1452.2,2813.3L1453.7,2807.0L1455.0,2802.2L1456.7,2795.3L1458.2,2790.6L1459.7,2785.5L1461.2,2781.4L1462.0,2778.9L1462.7,2777.7L1464.2,2774.9L1465.7,2772.3L1467.2,2770.4L1468.7,2770.0L1470.0,2769.8L1471.7,2770.9L1473.2,2772.4L1474.7,2773.6L1476.2,2775.0L1477.5,2774.8L1479.2,2771.1L1480.7,2766.5L1482.2,2762.5L1482.5,2760.9L1483.7,2760.1L1485.2,2758.1L1486.7,2757.2L1488.2,2755.7L1489.7,2756.2L1491.2,2757.3L1492.5,2757.5L1494.2,2757.4L1495.7,2759.6L1497.2,2761.8L1498.7,2763.7L1500.0,2765.3L1501.7,2767.1L1503.2,2770.2L1504.7,2770.8L1506.2,2772.1L1506.5,2772.5L1507.7,2771.5L1509.2,2770.3L1510.7,2769.2L1512.2,2766.8L1513.7,2764.6L1515.0,2761.6L1516.7,2758.6L1518.2,2756.7L1519.7,2754.4L1521.2,2752.0L1522.7,2749.6L1524.2,2747.4L1525.0,2747.4L1525.7,2746.0L1527.2,2745.1L1528.7,2744.5L1530.2,2742.7L1531.7,2741.3L1533.2,2742.2L1534.7,2740.7L1536.2,2740.8L1537.0,2741.2L1537.7,2741.8L1539.2,2742.0L1540.7,2742.6L1542.2,2743.7L1543.7,2744.7L1545.2,2747.0L1546.7,2748.9L1548.0,2750.8L1549.7,2752.3L1551.2,2754.9L1552.7,2755.9L1554.2,2759.4L1555.7,2762.4L1557.2,2765.6L1558.0,2768.0L1558.7,2770.3L1560.2,2775.9L1561.7,2781.7L1563.2,2788.9L1564.7,2796.8L1566.0,2803.3L1567.7,2812.1L1569.2,2820.9L1570.7,2831.5L1572.2,2843.2L1573.0,2848.5L1573.7,2855.9L1575.2,2870.2L1576.7,2886.0L1578.2,2902.8L1579.0,2912.4L1579.7,2921.1L1581.2,2939.3L1582.7,2958.6L1584.2,2977.3L1585.0,2985.1L1585.7,2991.7L1587.2,3005.6L1588.7,3019.1L1590.2,3028.4L1591.7,3036.5L1592.5,3039.5L1593.2,3042.7L1594.7,3047.3L1596.2,3050.3L1597.7,3053.1L1599.2,3055.4L1600.0,3057.0L1600.7,3058.9L1602.2,3062.9L1603.7,3067.6L1605.2,3072.7L1606.0,3075.2L1606.7,3076.4L1608.2,3080.5L1609.7,3083.5L1611.2,3085.7L1612.5,3084.3L1614.2,3078.6L1615.7,3070.6L1617.2,3060.8L1617.5,3059.3L1618.7,3050.8L1620.2,3040.6L1621.7,3032.5L1622.5,3029.0L1623.2,3026.2L1624.7,3022.2L1626.2,3018.4L1627.7,3016.7L1629.2,3014.5L1630.7,3012.5L1632.2,3011.7L1632.5,3012.0L1633.7,3010.3L1635.2,3008.9L1636.7,3007.7L1638.2,3006.5L1639.8,3005.4L1641.2,3004.2L1642.8,3004.5L1644.2,3004.4L1645.0,3004.0L1645.8,3005.1L1647.2,3005.9L1648.8,3008.0L1650.2,3011.8L1651.8,3014.6L1652.5,3016.5L1653.2,3019.2L1654.8,3023.6L1656.2,3029.3L1657.8,3032.7L1659.2,3036.4L1660.0,3037.1L1660.8,3038.2L1662.2,3038.1L1663.8,3037.5L1665.2,3038.1L1666.8,3035.8L1668.3,3034.3L1669.8,3033.1L1670.0,3032.0L1671.3,3029.8L1672.8,3026.5L1674.3,3023.2L1675.8,3018.5L1677.3,3012.9L1677.5,3011.7L1678.8,3007.0L1680.3,2999.9L1681.8,2993.5L1683.3,2985.5L1684.8,2978.2L1685.0,2977.7L1686.3,2970.3L1687.8,2961.8L1689.3,2955.1L1690.8,2947.3L1692.3,2939.9L1692.5,2939.1L1693.8,2933.6L1695.3,2927.1L1696.8,2922.0L1698.3,2917.6L1699.8,2913.1L1700.0,2911.9L1701.3,2908.8L1702.8,2903.8L1704.3,2901.2L1705.8,2898.0L1707.3,2894.8L1707.5,2895.2L1708.8,2892.5L1710.3,2891.4L1711.8,2890.0L1713.3,2888.6L1714.8,2888.0L1715.0,2888.2L1716.3,2887.8L1717.8,2888.1L1719.3,2890.2L1720.8,2892.4L1722.3,2894.2L1723.8,2896.6L1725.0,2900.1L1726.8,2905.7L1728.3,2911.4L1729.8,2918.6L1731.3,2925.4L1732.0,2928.8L1732.8,2932.5L1734.3,2940.4L1735.8,2948.4L1737.3,2957.1L1738.8,2966.1L1740.0,2974.6L1741.8,2989.5L1743.3,3002.2L1744.8,3016.8L1746.3,3030.2L1747.5,3042.3L1749.3,3057.3L1750.8,3070.7L1752.3,3083.5L1753.8,3095.6L1755.0,3107.2L1756.8,3123.5L1758.3,3138.5L1759.8,3152.9L1761.3,3167.2L1762.5,3176.5L1764.3,3189.0L1765.8,3199.3L1767.3,3207.8L1768.8,3215.9L1770.0,3222.3L1771.8,3230.3L1773.3,3236.8L1774.8,3243.2L1776.3,3248.9L1777.5,3252.6L1779.3,3256.1L1780.8,3258.6L1782.3,3261.2L1783.8,3262.8L1785.3,3264.1L1786.8,3264.3L1787.5,3263.8L1788.3,3264.8L1789.8,3263.2L1791.3,3261.8L1792.8,3259.5L1794.3,3255.5L1795.8,3252.7L1797.3,3247.7L1797.5,3247.7L1798.8,3242.0L1800.3,3234.4L1801.8,3226.4L1803.3,3217.9L1804.8,3208.7L1805.0,3206.6L1806.3,3198.3L1807.8,3189.1L1809.3,3179.2L1810.8,3168.8L1812.3,3157.6L1812.5,3156.3L1813.8,3147.4L1815.3,3135.1L1816.8,3122.4L1818.3,3109.4L1819.8,3098.0L1820.0,3096.9L1821.3,3087.3L1822.8,3077.7L1824.3,3067.2L1825.8,3057.4L1827.3,3048.5L1827.5,3046.7L1828.8,3038.6L1830.3,3029.2L1831.8,3019.9L1833.3,3011.1L1834.8,3003.0L1835.0,3001.9L1836.3,2995.2L1837.8,2988.8L1839.3,2983.3L1840.8,2977.1L1842.3,2972.5L1843.0,2970.0L1843.8,2968.2L1845.3,2963.0L1846.8,2958.9L1848.3,2954.6L1849.8,2952.3L1851.0,2950.6L1852.8,2947.2L1854.3,2945.4L1855.8,2944.6L1857.3,2943.8L1858.8,2944.5L1859.0,2944.9L1860.3,2944.3L1861.8,2945.9L1863.3,2946.8L1864.8,2947.3L1866.3,2949.1L1867.8,2950.0L1869.3,2952.2L1870.0,2953.7L1870.8,2954.5L1872.3,2956.7L1873.8,2959.1L1875.3,2960.5L1876.8,2963.0L1878.3,2965.5L1879.8,2967.1L1881.3,2970.5L1882.8,2971.7L1884.3,2974.8L1885.0,2975.0L1885.8,2976.8L1887.3,2977.8L1888.8,2979.8L1890.3,2982.5L1891.8,2983.3L1893.3,2985.7L1894.8,2988.2L1896.3,2990.1L1897.8,2992.4L1899.3,2995.9L1900.0,2996.9L1900.8,2998.4L1902.3,3003.2L1903.8,3008.0L1905.3,3012.8L1906.8,3019.1L1907.5,3022.0L1908.3,3025.1L1909.8,3034.3L1911.3,3043.1L1912.8,3052.4L1914.3,3062.4L1915.0,3067.3L1915.8,3072.4L1917.3,3082.6L1918.8,3093.7L1920.3,3103.6L1921.8,3113.5L1922.5,3117.3L1923.3,3121.4L1924.8,3129.2L1926.3,3136.4L1927.8,3141.3L1929.0,3144.3L1930.8,3147.3L1932.3,3149.0L1933.8,3150.0L1934.0,3150.0L1935.3,3148.2L1936.8,3146.2L1938.3,3142.2L1939.8,3138.8L1941.3,3135.0L1942.5,3132.2L1944.3,3126.9L1945.8,3124.5L1947.3,3120.5L1948.8,3117.9L1950.3,3113.9L1951.8,3108.4L1952.5,3107.1L1953.3,3103.7L1954.8,3097.5L1956.3,3091.2L1957.8,3083.3L1959.3,3075.3L1960.0,3072.5L1960.8,3067.6L1962.4,3057.8L1963.9,3049.8L1965.4,3041.3L1966.9,3034.5L1967.5,3031.2L1968.4,3028.6L1969.9,3024.4L1971.4,3022.4L1972.9,3020.6L1973.5,3021.2L1974.4,3020.9L1975.9,3023.1L1977.4,3027.8L1978.9,3032.2L1980.0,3036.9L1980.4,3039.1L1981.9,3045.2L1983.4,3053.8L1984.9,3062.4L1986.4,3070.5L1987.5,3076.9L1987.9,3078.8L1989.4,3085.2L1990.9,3092.0L1992.4,3098.6L1993.9,3103.9L1995.0,3107.5L1995.4,3108.5L1996.9,3112.0L1998.4,3114.8L1999.9,3116.9L2000.0,3117.7L2001.4,3117.3L2002.9,3116.9L2004.4,3113.9L2005.9,3108.0L2006.0,3107.4L2007.4,3097.0L2008.9,3080.4L2010.4,3063.5L2011.0,3057.0L2011.9,3048.7L2013.4,3035.0L2014.9,3022.2L2016.4,3007.5L2017.5,2996.7L2017.9,2993.7L2019.4,2976.8L2020.9,2960.1L2022.4,2946.0L2022.5,2945.4L2023.9,2935.7L2025.4,2927.2L2026.9,2920.8L2028.4,2915.1L2029.9,2910.0L2031.0,2907.3L2031.4,2906.8L2032.9,2901.7L2034.4,2898.6L2035.9,2894.5L2037.4,2890.8L2038.9,2887.8L2040.4,2885.0L2041.9,2882.8L2042.0,2881.8L2043.4,2880.3L2044.9,2877.3L2046.4,2875.5L2047.9,2872.9L2049.4,2870.4L2050.9,2869.3L2052.4,2866.1L2053.9,2863.9L2055.0,2862.5L2055.4,2860.4L2056.9,2857.6L2058.4,2855.0L2059.9,2850.5L2061.4,2846.8L2062.9,2843.1L2064.4,2837.9L2065.0,2837.6L2065.9,2834.4L2067.4,2829.1L2068.9,2825.8L2070.4,2820.6L2071.9,2817.4L2073.4,2813.5L2074.9,2809.4L2075.0,2809.0L2076.4,2806.1L2077.9,2804.7L2079.4,2801.8L2080.9,2800.4L2082.4,2798.9L2083.9,2797.9L2085.0,2796.8L2085.4,2796.9L2086.9,2795.7L2088.4,2795.4L2089.9,2794.8L2091.4,2794.6L2092.5,2794.8L2092.9,2794.3L2094.4,2795.3L2095.9,2796.5L2097.4,2796.9L2098.9,2798.3L2100.4,2799.6L2101.9,2799.5L2102.5,2799.8L2103.4,2799.4L2104.9,2799.4L2106.4,2796.8L2107.9,2795.4L2109.4,2793.1L2110.0,2792.0L2110.9,2790.4L2112.4,2786.8L2113.9,2782.1L2115.4,2777.5L2116.9,2773.3L2117.5,2772.7L2118.4,2770.1L2119.9,2766.6L2121.4,2763.8L2122.9,2760.9L2124.4,2758.3L2125.9,2756.2L2127.4,2755.0L2127.5,2754.5L2128.9,2753.3L2130.4,2751.8L2131.9,2751.0L2133.4,2750.0L2134.9,2749.7L2136.4,2749.2L2137.5,2750.0L2137.9,2749.5L2139.4,2750.1L2140.9,2749.4L2142.4,2749.5L2143.9,2750.2L2145.4,2750.5L2146.9,2751.1L2148.4,2752.4L2149.9,2753.7L2150.0,2754.0L2151.4,2756.0L2152.9,2758.5L2154.4,2761.5L2155.9,2765.8L2157.4,2769.1L2158.9,2773.2L2160.0,2777.5L2160.4,2778.5L2161.9,2783.5L2163.4,2788.7L2164.9,2795.4L2166.4,2801.9L2167.9,2808.4L2169.4,2815.2L2170.0,2817.0L2170.9,2821.1L2172.4,2827.7L2173.9,2834.8L2175.4,2841.3L2176.9,2848.4L2178.4,2856.8L2179.9,2863.5L2180.0,2864.9L2181.4,2871.9L2182.9,2880.1L2184.4,2888.4L2185.9,2897.9L2187.4,2908.3L2187.5,2909.0L2188.9,2919.7L2190.4,2932.8L2191.9,2945.4L2193.4,2958.7L2194.9,2971.4L2195.0,2972.0L2196.4,2982.8L2197.9,2994.4L2199.4,3004.3L2200.9,3013.2L2202.4,3019.1L2202.5,3019.1L2203.9,3022.7L2205.4,3025.2L2206.9,3027.2L2208.4,3027.4L2209.0,3027.4L2209.9,3027.4L2211.4,3025.9L2212.9,3024.0L2214.4,3021.6L2215.9,3017.8L2217.4,3014.8L2217.5,3014.7L2218.9,3011.7L2220.4,3007.9L2221.9,3004.1L2223.4,3000.9L2224.9,2996.6L2226.4,2993.8L2227.5,2991.8L2227.9,2991.1L2229.4,2988.8L2230.9,2986.5L2232.4,2984.8L2233.9,2982.9L2235.4,2981.9L2236.9,2980.2L2238.4,2978.9L2239.9,2977.7L2240.0,2976.3L2241.4,2975.7L2242.9,2973.6L2244.4,2970.4L2245.9,2969.1L2247.4,2966.3L2248.9,2963.7L2250.4,2961.0L2251.9,2959.0L2252.5,2958.4L2253.4,2956.3L2255.0,2953.5L2256.5,2950.6L2258.0,2947.7L2259.5,2943.1L2260.0,2942.2L2261.0,2939.2L2262.5,2933.2L2264.0,2927.0L2265.5,2920.0L2267.0,2912.1L2267.5,2908.9L2268.5,2904.0L2270.0,2894.6L2271.5,2885.6L2273.0,2875.9L2274.5,2866.0L2275.0,2862.3L2276.0,2855.9L2277.5,2846.2L2279.0,2836.3L2280.5,2828.0L2282.0,2819.8L2282.5,2816.2L2283.5,2812.2L2285.0,2805.4L2286.5,2798.7L2288.0,2793.1L2289.5,2788.4L2290.0,2786.6L2291.0,2784.2L2292.5,2781.1L2294.0,2777.4L2295.5,2775.8L2297.0,2772.8L2298.5,2770.2L2300.0,2767.5L2301.5,2764.6L2302.5,2762.2L2303.0,2760.6L2304.5,2756.4L2306.0,2752.2L2307.5,2747.4L2309.0,2742.2L2310.5,2737.8L2312.0,2732.8L2312.5,2731.7L2313.5,2728.6L2315.0,2725.2L2316.5,2720.9L2318.0,2717.5L2319.5,2713.9L2321.0,2710.3L2322.5,2707.1L2322.5,2707.3L2324.0,2704.3L2325.5,2701.2L2327.0,2698.3L2328.5,2696.0L2330.0,2693.7L2330.0,2693.7L2331.5,2692.9L2333.0,2691.8L2334.5,2691.5L2336.0,2691.5L2337.5,2691.0L2339.0,2689.6L2340.0,2689.4L2340.5,2690.1L2342.0,2689.7L2343.5,2689.1L2345.0,2688.0L2346.5,2687.7L2348.0,2686.0L2349.5,2684.8L2350.0,2684.3L2351.0,2683.7L2352.5,2682.2L2354.0,2680.4L2355.5,2678.2L2357.0,2677.8L2358.5,2677.3L2359.0,2677.4L2360.0,2677.5L2361.5,2678.6L2363.0,2680.2L2364.5,2682.9L2366.0,2686.1L2367.5,2690.0L2367.5,2688.8L2369.0,2694.5L2370.5,2700.6L2372.0,2705.4L2372.5,2706.8L2373.5,2709.8L2375.0,2712.4L2376.5,2714.6L2378.0,2716.9L2379.5,2716.5L2380.0,2716.5L2381.0,2716.5L2382.5,2716.1L2384.0,2714.8L2385.5,2713.4L2387.0,2711.3" stroke="#0080FF" stroke-width="12.5"/>
<path class="c" d="M918.0,2766.2L919.5,2764.8L921.0,2767.3L922.5,2766.5L924.0,2765.7L925.0,2767.5L925.5,2767.3L927.0,2765.3L928.5,2767.5L930.0,2766.2L931.5,2765.7L933.0,2766.9L934.5,2765.5L936.0,2764.7L937.5,2765.3L939.0,2765.2L940.5,2765.4L942.0,2764.7L943.5,2765.5L945.0,2765.4L946.5,2765.4L948.0,2765.4L949.5,2763.8L951.0,2765.3L952.5,2764.8L954.0,2764.4L955.0,2765.8L955.5,2764.8L957.0,2766.6L958.5,2768.6L960.0,2768.6L961.5,2767.6L963.0,2767.2L964.5,2769.1L966.0,2768.9L967.5,2770.4L969.0,2769.5L970.5,2770.1L972.0,2770.5L973.5,2772.2L975.0,2772.2L976.5,2771.2L978.0,2771.5L979.5,2770.0L981.0,2770.0L982.5,2768.5L984.0,2769.0L985.5,2768.0L987.0,2767.8L988.5,2767.3L990.0,2766.7L991.5,2767.7L993.0,2766.4L994.5,2765.8L996.0,2767.6L997.5,2767.2L999.0,2768.5L1000.5,2769.8L1002.0,2769.9L1003.5,2770.8L1005.0,2772.3L1006.5,2774.2L1008.0,2772.7L1009.5,2775.2L1011.0,2776.1L1012.5,2776.7L1014.0,2777.2L1015.0,2775.9L1015.5,2777.2L1017.0,2777.2L1018.5,2777.9L1020.0,2777.7L1021.5,2777.0L1023.0,2777.1L1024.5,2777.5L1026.0,2779.5L1027.5,2779.9L1029.0,2780.1L1030.5,2779.7L1032.0,2779.7L1033.5,2780.0L1035.0,2780.2L1036.5,2779.6L1038.0,2780.2L1039.5,2780.4L1040.0,2778.9L1041.0,2778.9L1042.5,2779.7L1044.0,2780.1L1045.5,2780.9L1047.0,2782.2L1048.5,2781.2L1050.0,2783.4L1051.5,2781.9L1053.0,2783.5L1054.5,2782.9L1056.0,2784.2L1057.5,2785.8L1059.0,2787.0L1060.0,2787.6L1060.5,2786.7L1062.0,2788.3L1063.5,2790.5L1065.0,2789.3L1066.5,2790.7L1068.0,2793.0L1069.5,2794.0L1071.0,2795.5L1072.5,2796.8L1074.0,2799.0L1075.0,2800.0L1075.5,2800.3L1077.0,2803.0L1078.5,2803.4L1080.1,2807.0L1081.6,2809.2L1083.1,2812.1L1084.6,2815.0L1086.1,2818.5L1087.5,2821.6L1089.1,2825.9L1090.6,2830.5L1092.1,2835.2L1093.6,2841.1L1095.0,2846.9L1096.6,2854.6L1098.1,2862.8L1099.6,2872.0L1101.1,2882.0L1102.5,2892.0L1104.1,2902.9L1105.6,2914.0L1107.1,2925.1L1108.6,2936.3L1110.0,2946.7L1111.6,2958.6L1113.1,2969.1L1114.6,2979.6L1116.1,2989.0L1117.5,2997.5L1119.1,3004.6L1120.6,3010.9L1122.1,3015.4L1123.5,3016.7L1125.1,3016.2L1126.6,3012.0L1128.1,3007.1L1129.6,2998.7L1130.0,2997.1L1131.1,2989.8L1132.6,2978.8L1134.1,2965.3L1135.6,2952.5L1137.1,2939.7L1137.5,2936.4L1138.6,2929.7L1140.1,2919.9L1141.6,2910.4L1143.1,2903.1L1144.6,2897.7L1145.0,2896.8L1146.1,2894.9L1147.6,2893.0L1149.1,2890.9L1150.6,2890.4L1152.1,2891.3L1152.5,2890.8L1153.6,2891.5L1155.1,2892.1L1156.6,2894.2L1158.1,2896.0L1159.6,2898.9L1161.1,2902.9L1162.5,2907.3L1164.1,2913.1L1165.6,2920.2L1167.1,2928.6L1168.6,2937.9L1170.0,2947.0L1171.6,2958.0L1173.1,2969.4L1174.6,2983.3L1176.1,2997.0L1177.5,3012.1L1179.1,3030.7L1180.6,3049.7L1182.1,3070.3L1182.5,3077.3L1183.6,3093.4L1185.1,3117.3L1186.6,3140.9L1187.5,3157.1L1188.1,3167.5L1189.6,3194.2L1191.1,3222.3L1192.5,3246.9L1194.1,3271.8L1195.6,3294.6L1196.5,3307.6L1197.1,3315.1L1198.6,3336.0L1200.1,3355.5L1201.0,3366.6L1201.6,3374.5L1203.1,3393.1L1204.6,3409.2L1205.5,3418.8L1206.1,3424.7L1207.6,3438.1L1209.1,3449.5L1210.5,3458.9L1212.1,3468.2L1213.6,3475.9L1215.0,3481.3L1216.6,3484.9L1218.1,3487.8L1219.6,3488.6L1220.0,3488.6L1221.1,3488.7L1222.6,3485.9L1224.1,3481.8L1225.6,3476.0L1227.1,3469.0L1227.5,3466.9L1228.6,3459.7L1230.1,3449.0L1231.6,3435.0L1233.1,3419.9L1234.6,3405.8L1235.0,3402.6L1236.1,3391.7L1237.6,3376.9L1239.1,3361.4L1240.0,3351.7L1240.6,3346.2L1242.1,3329.0L1243.6,3313.0L1245.0,3297.8L1246.6,3279.7L1248.1,3262.0L1249.6,3246.1L1250.0,3242.8L1251.1,3231.5L1252.6,3217.5L1254.1,3203.4L1255.0,3196.8L1255.6,3192.9L1257.1,3181.4L1258.6,3170.8L1260.1,3161.6L1261.6,3154.6L1262.5,3151.6L1263.1,3149.9L1264.6,3146.0L1266.1,3142.6L1267.6,3141.6L1269.1,3140.7L1270.0,3141.7L1270.6,3141.9L1272.1,3143.5L1273.6,3146.4L1275.1,3149.9L1276.6,3154.8L1277.5,3157.6L1278.1,3158.8L1279.6,3164.0L1281.1,3170.0L1282.6,3174.7L1284.1,3179.4L1285.0,3182.0L1285.6,3184.5L1287.1,3187.3L1288.6,3190.4L1290.1,3194.1L1291.6,3196.6L1293.1,3199.1L1294.6,3201.3L1295.0,3201.7L1296.1,3204.3L1297.6,3205.4L1299.1,3207.7L1300.6,3210.1L1302.1,3212.1L1303.6,3211.9L1304.0,3212.6L1305.1,3211.8L1306.6,3211.1L1308.1,3209.7L1309.6,3207.6L1311.1,3205.6L1312.6,3201.8L1314.1,3199.1L1315.0,3197.4L1315.6,3195.3L1317.1,3191.4L1318.6,3187.1L1320.1,3182.9L1321.6,3178.1L1323.1,3172.4L1324.6,3168.1L1325.0,3166.9L1326.1,3163.6L1327.6,3159.1L1329.1,3154.0L1330.6,3150.1L1332.1,3147.9L1332.5,3146.4L1333.6,3145.6L1335.1,3144.6L1336.6,3144.0L1338.1,3143.2L1339.6,3143.3L1340.0,3143.5L1341.1,3143.8L1342.6,3144.7L1344.2,3144.7L1345.7,3146.9L1347.2,3147.9L1348.7,3149.0L1350.2,3150.4L1351.7,3152.1L1352.5,3152.2L1353.2,3153.5L1354.7,3154.3L1356.2,3155.0L1357.7,3155.7L1359.2,3156.7L1360.7,3159.0L1362.2,3161.0L1363.7,3161.8L1365.0,3164.1L1366.7,3167.7L1368.2,3171.0L1369.7,3174.7L1371.2,3177.9L1372.7,3181.5L1374.2,3184.7L1375.0,3186.8L1375.7,3188.5L1377.2,3191.3L1378.7,3192.7L1380.2,3194.7L1381.7,3197.1L1383.2,3198.8L1384.7,3200.0L1386.2,3200.0L1387.5,3199.9L1389.2,3198.4L1390.7,3197.2L1392.2,3195.4L1393.7,3192.9L1395.2,3191.0L1396.7,3188.0L1398.2,3185.0L1399.7,3182.0L1400.0,3182.4L1401.2,3180.0L1402.7,3177.3L1404.2,3173.7L1405.7,3170.9L1407.2,3168.1L1408.7,3165.4L1410.2,3161.9L1411.7,3161.3L1412.5,3159.6L1413.2,3158.4L1414.7,3157.2L1416.2,3156.2L1417.7,3155.4L1419.2,3155.0L1420.7,3152.9L1422.2,3153.0L1422.5,3153.1L1423.7,3152.1L1425.2,3152.5L1426.7,3151.7L1428.2,3151.6L1429.7,3150.5L1431.2,3149.2L1432.5,3146.7L1434.2,3142.7L1435.7,3138.2L1437.2,3133.5L1438.7,3127.5L1440.0,3121.9L1441.7,3115.3L1443.2,3108.7L1444.7,3102.7L1446.2,3097.0L1447.5,3091.5L1449.2,3086.6L1450.7,3082.2L1452.2,3077.8L1453.7,3074.9L1455.2,3072.1L1456.7,3068.4L1457.5,3067.8L1458.2,3066.2L1459.7,3063.7L1461.2,3061.7L1462.7,3059.1L1464.2,3057.3L1465.7,3055.1L1467.2,3053.9L1468.7,3052.9L1470.0,3052.3L1471.7,3051.2L1473.2,3049.9L1474.7,3049.3L1476.2,3048.5L1477.7,3047.5L1479.2,3047.6L1480.0,3047.1L1480.7,3047.0L1482.2,3045.6L1483.7,3045.1L1485.2,3043.3L1486.7,3042.3L1488.2,3041.6L1489.7,3041.3L1491.2,3040.9L1492.5,3040.8L1494.2,3042.0L1495.7,3043.8L1497.2,3045.6L1498.7,3046.6L1500.0,3049.5L1501.7,3050.6L1503.2,3052.4L1504.7,3053.1L1506.2,3053.7L1507.0,3054.1L1507.7,3053.6L1509.2,3053.4L1510.7,3051.0L1512.2,3049.6L1513.7,3047.5L1515.2,3045.5L1516.0,3042.8L1516.7,3042.7L1518.2,3039.7L1519.7,3036.2L1521.2,3034.0L1522.7,3030.5L1524.2,3027.5L1525.7,3025.4L1527.0,3023.7L1528.7,3021.7L1530.2,3020.7L1531.7,3019.1L1533.2,3018.7L1534.7,3016.8L1536.2,3016.9L1537.7,3016.1L1538.0,3016.2L1539.2,3015.7L1540.7,3014.4L1542.2,3014.1L1543.7,3014.4L1545.2,3014.0L1546.7,3013.3L1548.2,3012.4L1549.7,3012.9L1550.0,3013.3L1551.2,3013.2L1552.7,3013.0L1554.2,3014.3L1555.7,3016.5L1557.2,3018.7L1558.7,3021.6L1559.0,3022.1L1560.2,3024.4L1561.7,3030.0L1563.2,3035.3L1564.7,3043.2L1566.2,3050.4L1567.5,3057.1L1569.2,3066.8L1570.7,3076.9L1572.2,3086.4L1573.7,3097.4L1575.0,3106.8L1576.7,3121.2L1578.2,3133.9L1579.7,3147.0L1581.2,3159.6L1582.5,3169.7L1584.2,3182.9L1585.7,3192.1L1587.2,3201.7L1588.7,3209.0L1590.0,3215.1L1591.7,3220.7L1593.2,3223.1L1594.7,3226.2L1596.2,3228.6L1597.7,3228.4L1599.0,3229.2L1600.7,3228.5L1602.2,3226.4L1603.7,3224.6L1605.2,3222.7L1606.7,3218.7L1607.5,3216.6L1608.2,3214.8L1609.7,3210.5L1611.2,3205.0L1612.7,3200.3L1614.2,3194.7L1615.0,3192.0L1615.7,3189.9L1617.2,3186.0L1618.7,3181.9L1620.2,3180.0L1621.7,3177.9L1622.5,3177.2L1623.2,3177.1L1624.7,3175.9L1626.2,3176.5L1627.7,3175.4L1629.2,3175.4L1630.7,3175.9L1632.2,3175.6L1633.7,3175.6L1635.0,3176.1L1636.7,3175.2L1638.2,3174.6L1639.8,3173.0L1641.2,3171.1L1642.8,3169.3L1644.2,3168.0L1645.8,3166.5L1647.2,3164.7L1647.5,3164.2L1648.8,3163.0L1650.2,3161.9L1651.8,3161.2L1653.2,3160.1L1654.8,3159.2L1656.2,3158.1L1657.8,3156.7L1659.2,3155.3L1660.0,3154.4L1660.8,3153.8L1662.2,3151.9L1663.8,3150.3L1665.2,3148.8L1666.8,3146.8L1668.3,3146.4L1669.0,3147.4L1669.8,3147.3L1671.3,3149.2L1672.8,3151.9L1674.3,3154.2L1675.8,3158.0L1677.3,3161.4L1677.5,3161.4L1678.8,3164.8L1680.3,3168.1L1681.8,3171.7L1683.3,3175.0L1684.8,3177.6L1686.3,3180.0L1687.8,3181.6L1689.0,3182.5L1690.8,3181.7L1692.3,3180.4L1693.8,3179.1L1695.3,3176.8L1696.8,3173.5L1697.5,3172.6L1698.3,3169.6L1699.8,3163.6L1701.3,3157.9L1702.8,3151.0L1704.3,3144.7L1705.0,3142.0L1705.8,3138.6L1707.3,3135.2L1708.8,3130.9L1710.3,3126.1L1711.8,3123.9L1713.3,3121.7L1714.8,3120.9L1715.0,3120.9L1716.3,3120.6L1717.8,3122.3L1719.3,3124.0L1720.8,3126.6L1722.3,3130.4L1723.8,3133.8L1725.0,3137.0L1726.8,3141.4L1728.3,3147.0L1729.8,3152.7L1731.3,3157.4L1732.8,3163.7L1734.3,3168.8L1735.0,3171.5L1735.8,3174.8L1737.3,3181.5L1738.8,3187.9L1740.3,3195.4L1741.8,3202.3L1743.3,3211.0L1744.8,3221.2L1745.0,3222.1L1746.3,3230.5L1747.8,3241.9L1749.3,3254.1L1750.8,3266.8L1752.3,3279.4L1752.5,3281.9L1753.8,3293.2L1755.3,3306.1L1756.8,3319.5L1758.3,3333.1L1759.8,3346.1L1760.0,3347.0L1761.3,3357.3L1762.8,3369.1L1764.3,3380.6L1765.8,3392.0L1767.3,3401.1L1767.5,3401.7L1768.8,3409.9L1770.3,3417.5L1771.8,3424.5L1773.3,3431.6L1774.8,3436.6L1775.0,3437.4L1776.3,3440.0L1777.8,3444.0L1779.3,3447.6L1780.8,3448.6L1782.3,3450.5L1783.8,3451.4L1784.0,3451.4L1785.3,3451.1L1786.8,3449.3L1788.3,3447.0L1789.8,3443.7L1791.3,3440.0L1792.5,3437.2L1794.3,3430.8L1795.8,3423.9L1797.3,3416.0L1798.8,3408.2L1800.0,3401.4L1801.8,3390.6L1803.3,3381.5L1804.8,3370.8L1806.3,3360.4L1807.5,3352.8L1809.3,3338.2L1810.8,3327.8L1812.3,3316.1L1813.8,3305.6L1815.0,3296.4L1816.8,3284.9L1818.3,3275.0L1819.8,3265.8L1821.3,3257.9L1822.8,3249.1L1824.3,3241.5L1825.0,3236.5L1825.8,3232.5L1827.3,3224.4L1828.8,3216.4L1830.3,3208.7L1831.8,3201.6L1833.3,3194.7L1834.8,3187.3L1835.0,3187.1L1836.3,3181.8L1837.8,3176.1L1839.3,3171.4L1840.8,3166.7L1842.3,3163.0L1843.8,3159.6L1845.0,3156.5L1846.8,3153.8L1848.3,3152.9L1849.8,3150.6L1851.3,3150.0L1852.8,3148.2L1854.3,3148.3L1855.8,3147.7L1856.0,3147.4L1857.3,3148.9L1858.8,3149.3L1860.3,3151.3L1861.8,3152.1L1863.3,3154.1L1864.8,3156.9L1866.3,3159.7L1867.5,3161.6L1869.3,3165.6L1870.8,3169.6L1872.3,3174.2L1873.8,3178.1L1875.3,3184.0L1876.8,3189.7L1877.5,3191.3L1878.3,3195.2L1879.8,3201.2L1881.3,3208.3L1882.8,3214.6L1884.3,3221.7L1885.8,3228.9L1887.3,3236.1L1887.5,3236.8L1888.8,3242.9L1890.3,3251.7L1891.8,3258.6L1893.3,3265.5L1894.8,3271.2L1895.0,3271.2L1896.3,3276.0L1897.8,3280.6L1899.3,3283.6L1900.8,3285.9L1902.3,3286.8L1902.5,3287.6L1903.8,3286.4L1905.3,3285.7L1906.8,3284.2L1908.3,3281.1L1909.8,3277.9L1911.3,3274.5L1912.5,3271.0L1914.3,3266.6L1915.8,3263.2L1917.3,3259.3L1918.8,3254.1L1920.3,3249.2L1921.8,3245.2L1923.3,3241.4L1924.8,3236.8L1925.0,3236.5L1926.3,3234.0L1927.8,3230.3L1929.3,3227.3L1930.8,3223.9L1932.3,3220.1L1933.8,3216.2L1935.3,3213.0L1936.8,3208.8L1937.5,3206.8L1938.3,3204.4L1939.8,3199.0L1941.3,3194.7L1942.8,3189.4L1944.3,3185.0L1945.8,3180.8L1947.3,3177.8L1947.5,3177.9L1948.8,3175.0L1950.3,3173.0L1951.8,3172.0L1953.3,3171.1L1954.8,3170.9L1955.0,3170.8L1956.3,3171.3L1957.8,3174.0L1959.3,3176.6L1960.8,3181.1L1962.4,3186.3L1962.5,3187.2L1963.9,3193.6L1965.4,3202.1L1966.9,3212.5L1968.4,3222.3L1969.9,3231.3L1970.0,3232.2L1971.4,3238.8L1972.9,3244.9L1974.4,3250.7L1975.9,3254.0L1977.4,3254.5L1977.5,3254.3L1978.9,3253.4L1980.4,3250.5L1981.9,3245.8L1983.4,3239.1L1984.9,3232.5L1985.0,3232.0L1986.4,3225.8L1987.9,3218.9L1989.4,3210.2L1990.9,3203.3L1992.4,3198.1L1992.5,3197.3L1993.9,3193.4L1995.4,3188.7L1996.9,3185.7L1998.4,3183.2L1999.9,3180.7L2001.4,3179.2L2002.5,3178.2L2002.9,3179.1L2004.4,3177.4L2005.9,3176.8L2007.4,3177.0L2008.9,3175.9L2010.4,3176.6L2011.9,3175.6L2012.5,3175.8L2013.4,3176.5L2014.9,3176.6L2016.4,3178.5L2017.9,3180.8L2019.4,3182.4L2020.9,3184.2L2022.4,3186.9L2022.5,3186.9L2023.9,3189.5L2025.4,3192.3L2026.9,3196.4L2028.4,3199.7L2029.9,3204.1L2031.4,3209.0L2032.5,3211.4L2032.9,3213.2L2034.4,3217.6L2035.9,3222.3L2037.4,3227.1L2038.9,3232.3L2040.0,3233.9L2040.4,3234.8L2041.9,3237.9L2043.4,3240.2L2044.9,3241.5L2046.4,3242.9L2046.5,3242.8L2047.9,3241.0L2049.4,3238.8L2050.9,3235.4L2052.4,3229.9L2053.9,3223.3L2054.0,3221.7L2055.4,3213.2L2056.9,3203.3L2058.4,3190.5L2059.9,3178.8L2060.0,3177.2L2061.4,3166.3L2062.9,3154.0L2064.4,3142.9L2065.9,3131.7L2067.4,3122.3L2067.5,3122.7L2068.9,3114.8L2070.4,3108.8L2071.9,3103.0L2073.4,3099.5L2074.9,3096.6L2075.0,3097.5L2076.4,3095.9L2077.9,3096.7L2079.4,3096.4L2080.9,3097.0L2082.4,3096.9L2083.9,3096.6L2085.0,3096.7L2085.4,3097.0L2086.9,3095.7L2088.4,3095.6L2089.9,3093.4L2091.4,3092.4L2092.9,3091.1L2094.4,3088.6L2095.9,3087.9L2097.4,3087.9L2097.5,3088.6L2098.9,3089.0L2100.4,3089.7L2101.9,3092.4L2103.4,3095.5L2104.9,3099.0L2106.0,3101.9L2106.4,3103.3L2107.9,3108.1L2109.4,3112.7L2110.9,3118.9L2112.4,3123.1L2113.9,3126.2L2115.0,3127.0L2115.4,3126.6L2116.9,3125.7L2118.4,3122.5L2119.9,3119.0L2121.4,3111.9L2122.5,3107.7L2122.9,3105.4L2124.4,3096.4L2125.9,3085.3L2127.4,3075.2L2128.9,3067.6L2129.0,3067.4L2130.4,3063.1L2131.9,3059.2L2133.4,3055.7L2134.9,3054.9L2136.4,3054.3L2137.9,3053.9L2139.0,3054.0L2139.4,3054.4L2140.9,3055.0L2142.4,3056.2L2143.9,3058.3L2145.4,3059.2L2146.9,3061.6L2148.4,3063.4L2148.5,3063.9L2149.9,3066.4L2151.4,3069.8L2152.9,3073.6L2154.4,3077.7L2155.9,3081.6L2157.4,3084.3L2158.9,3088.8L2159.0,3088.3L2160.4,3091.3L2161.9,3095.0L2163.4,3098.1L2164.9,3100.9L2166.4,3103.7L2167.9,3106.5L2169.4,3110.1L2170.9,3113.8L2171.0,3113.4L2172.4,3117.1L2173.9,3121.6L2175.4,3126.1L2176.9,3130.4L2178.4,3135.8L2179.9,3141.7L2180.0,3142.0L2181.4,3147.6L2182.9,3153.8L2184.4,3161.4L2185.9,3168.6L2187.4,3176.8L2187.5,3177.8L2188.9,3184.9L2190.4,3194.5L2191.9,3203.1L2193.4,3212.5L2194.9,3221.3L2195.0,3221.2L2196.4,3230.4L2197.9,3239.8L2199.4,3248.2L2200.9,3255.4L2202.4,3261.4L2202.5,3262.4L2203.9,3266.3L2205.4,3270.8L2206.9,3274.2L2208.4,3276.5L2209.9,3277.6L2210.0,3278.0L2211.4,3279.0L2212.9,3281.0L2214.4,3280.8L2215.9,3282.4L2217.4,3282.1L2217.5,3281.9L2218.9,3281.8L2220.4,3280.9L2221.9,3279.7L2223.4,3277.5L2224.9,3275.2L2225.0,3275.2L2226.4,3271.4L2227.9,3266.7L2229.4,3260.0L2230.9,3253.5L2232.4,3247.4L2232.5,3247.8L2233.9,3239.9L2235.4,3233.4L2236.9,3225.6L2238.4,3218.3L2239.9,3211.7L2240.0,3212.2L2241.4,3207.2L2242.9,3202.7L2244.4,3199.6L2245.9,3195.2L2247.4,3193.1L2248.9,3189.0L2250.0,3187.4L2250.4,3185.6L2251.9,3182.5L2253.4,3179.4L2255.0,3175.9L2256.5,3171.7L2258.0,3167.7L2259.5,3164.5L2260.0,3162.3L2261.0,3158.7L2262.5,3152.8L2264.0,3146.2L2265.5,3137.8L2267.0,3129.9L2267.5,3126.8L2268.5,3121.5L2270.0,3113.2L2271.5,3103.3L2273.0,3094.3L2274.5,3084.6L2275.0,3082.3L2276.0,3077.3L2277.5,3069.0L2279.0,3060.4L2280.5,3054.3L2282.0,3047.9L2282.5,3046.3L2283.5,3044.2L2285.0,3040.2L2286.5,3035.6L2288.0,3033.1L2289.5,3030.7L2291.0,3028.4L2292.5,3026.7L2292.5,3027.2L2294.0,3025.4L2295.5,3025.7L2297.0,3024.0L2298.5,3023.4L2300.0,3023.1L2301.5,3022.7L2303.0,3021.8L2304.5,3019.5L2305.0,3018.8L2306.0,3018.4L2307.5,3015.2L2309.0,3012.3L2310.5,3009.6L2312.0,3005.4L2313.5,3001.7L2315.0,2997.3L2315.0,2996.7L2316.5,2992.7L2318.0,2987.0L2319.5,2981.8L2321.0,2977.9L2322.5,2972.5L2324.0,2969.8L2325.0,2967.2L2325.5,2966.2L2327.0,2965.1L2328.5,2962.8L2330.0,2961.9L2331.5,2961.1L2333.0,2960.3L2334.5,2959.5L2335.0,2959.2L2336.0,2958.6L2337.5,2957.2L2339.0,2956.3L2340.5,2955.3L2342.0,2953.6L2343.5,2952.7L2345.0,2950.9L2346.5,2950.4L2347.5,2949.4L2348.0,2949.0L2349.5,2948.8L2351.0,2947.4L2352.5,2946.5L2354.0,2946.6L2355.5,2945.0L2357.0,2944.8L2358.5,2944.9L2359.0,2945.5L2360.0,2946.1L2361.5,2946.8L2363.0,2948.4L2364.5,2950.9L2366.0,2953.2L2367.5,2955.5L2367.5,2955.2L2369.0,2959.6L2370.5,2963.8L2372.0,2968.2L2373.5,2974.6L2375.0,2980.5L2376.5,2985.8L2378.0,2992.4L2379.5,2996.2L2380.0,2996.7L2381.0,2997.6L2382.5,2997.7L2384.0,2996.4L2385.5,2994.7L2387.0,2991.5" stroke="#00B000" stroke-width="12.5"/>
<path class="c" d="M918.0,3105.1L919.5,3105.1L921.0,3103.6L922.5,3103.9L924.0,3103.6L925.0,3104.7L925.5,3104.5L927.0,3103.5L928.5,3103.6L930.0,3103.2L931.5,3103.2L933.0,3102.6L934.5,3101.9L936.0,3104.4L937.5,3103.5L939.0,3101.7L940.5,3102.8L942.0,3103.9L943.5,3103.3L945.0,3103.3L946.5,3103.0L948.0,3105.3L949.5,3103.6L951.0,3106.1L952.5,3104.3L954.0,3104.8L955.0,3105.9L955.5,3106.1L957.0,3105.8L958.5,3106.7L960.0,3107.1L961.5,3107.1L963.0,3108.0L964.5,3108.6L966.0,3108.0L967.5,3107.7L969.0,3108.3L970.5,3107.7L972.0,3109.2L973.5,3109.1L975.0,3109.8L976.5,3108.5L978.0,3110.3L979.5,3109.1L980.0,3108.8L981.0,3108.8L982.5,3108.8L984.0,3109.1L985.5,3109.3L987.0,3108.7L988.5,3107.9L990.0,3109.4L991.5,3108.1L993.0,3108.6L994.5,3106.9L995.0,3106.8L996.0,3106.9L997.5,3108.3L999.0,3108.6L1000.5,3107.1L1002.0,3107.2L1003.5,3108.1L1005.0,3108.6L1006.5,3108.3L1008.0,3108.1L1009.5,3109.0L1011.0,3111.5L1012.5,3111.2L1014.0,3111.2L1015.5,3112.2L1017.0,3112.1L1018.5,3112.6L1020.0,3114.1L1021.5,3114.8L1023.0,3113.5L1024.5,3114.4L1026.0,3113.9L1027.5,3116.1L1029.0,3114.0L1030.5,3113.9L1032.0,3116.1L1033.5,3115.6L1035.0,3115.5L1036.5,3116.0L1038.0,3116.2L1039.5,3115.9L1041.0,3116.3L1042.5,3116.5L1044.0,3117.0L1045.0,3118.2L1045.5,3116.4L1047.0,3117.9L1048.5,3117.7L1050.0,3118.2L1051.5,3118.4L1053.0,3118.0L1054.5,3118.1L1056.0,3118.6L1057.5,3121.3L1059.0,3122.2L1060.5,3121.7L1062.0,3122.1L1063.5,3122.3L1065.0,3124.7L1066.5,3124.9L1068.0,3125.7L1069.5,3127.6L1071.0,3129.3L1072.5,3130.3L1074.0,3132.8L1075.5,3133.4L1077.0,3135.6L1077.5,3137.0L1078.5,3138.0L1080.1,3141.1L1081.6,3144.8L1083.1,3148.6L1084.6,3153.2L1086.1,3156.8L1087.5,3161.9L1089.1,3167.1L1090.6,3173.5L1092.1,3181.3L1093.6,3188.9L1095.0,3197.3L1096.6,3206.5L1098.1,3216.3L1099.6,3226.2L1101.1,3237.5L1102.5,3247.0L1104.1,3258.2L1105.6,3267.4L1107.1,3277.6L1108.6,3285.4L1110.0,3292.5L1111.6,3297.3L1113.1,3301.1L1114.6,3303.8L1116.1,3304.5L1116.5,3305.0L1117.6,3304.0L1119.1,3303.3L1120.6,3300.9L1122.1,3297.4L1123.6,3292.1L1125.0,3286.9L1126.6,3278.9L1128.1,3267.6L1129.6,3256.9L1131.1,3246.0L1132.5,3237.0L1134.1,3228.7L1135.6,3221.1L1137.1,3215.6L1138.6,3210.5L1140.0,3206.6L1141.6,3205.2L1143.1,3204.1L1144.6,3202.6L1146.1,3202.8L1147.6,3202.8L1148.5,3202.2L1149.1,3202.5L1150.6,3202.1L1152.1,3203.5L1153.6,3205.8L1155.1,3206.9L1156.6,3210.1L1157.5,3212.2L1158.1,3213.3L1159.6,3218.3L1161.1,3223.4L1162.6,3230.7L1164.1,3236.6L1165.0,3241.8L1165.6,3244.9L1167.1,3253.5L1168.6,3263.7L1170.1,3274.2L1171.6,3288.1L1172.5,3296.9L1173.1,3303.5L1174.6,3322.3L1176.1,3344.2L1177.5,3365.7L1179.1,3388.9L1180.6,3413.1L1182.1,3438.7L1182.5,3446.3L1183.6,3467.8L1185.1,3499.9L1186.6,3529.7L1187.5,3546.6L1188.1,3556.8L1189.6,3580.1L1191.1,3600.3L1192.6,3618.9L1194.1,3637.0L1195.0,3647.4L1195.6,3653.3L1197.1,3669.9L1198.6,3685.6L1200.1,3700.5L1201.6,3714.4L1202.5,3721.6L1203.1,3726.5L1204.6,3738.3L1206.1,3749.9L1207.6,3759.5L1209.1,3767.0L1210.0,3772.2L1210.6,3774.8L1212.1,3780.4L1213.6,3785.5L1215.1,3789.4L1216.6,3791.4L1217.5,3791.7L1218.1,3792.7L1219.6,3790.2L1221.1,3785.7L1222.6,3777.8L1224.1,3769.0L1225.0,3761.0L1225.6,3756.2L1227.1,3737.6L1228.6,3716.9L1230.0,3696.6L1231.6,3674.7L1233.1,3655.3L1234.6,3635.1L1236.1,3615.2L1237.5,3597.4L1239.1,3575.2L1240.6,3556.4L1242.1,3536.4L1243.6,3516.9L1245.0,3497.0L1246.6,3473.1L1248.1,3451.6L1249.6,3428.9L1251.1,3408.8L1252.5,3392.4L1254.1,3375.5L1255.6,3360.2L1257.1,3348.0L1258.6,3336.3L1260.0,3326.9L1261.6,3316.7L1263.1,3307.8L1264.6,3299.0L1266.1,3291.1L1267.6,3283.7L1269.1,3277.2L1270.0,3274.4L1270.6,3272.4L1272.1,3266.5L1273.6,3261.8L1275.1,3257.9L1276.6,3253.1L1278.1,3249.4L1279.6,3247.2L1280.0,3247.4L1281.1,3244.9L1282.6,3242.9L1284.1,3241.9L1285.6,3240.8L1287.1,3239.1L1288.6,3239.0L1290.1,3238.5L1291.6,3238.3L1292.5,3238.0L1293.1,3238.1L1294.6,3237.4L1296.1,3238.4L1297.6,3238.5L1299.1,3238.6L1300.6,3238.1L1302.1,3238.8L1303.6,3238.6L1305.1,3239.9L1306.6,3240.1L1308.1,3239.6L1309.6,3240.6L1311.1,3240.7L1312.6,3240.0L1314.1,3239.4L1315.0,3239.9L1315.6,3238.9L1317.1,3239.0L1318.6,3237.4L1320.1,3237.9L1321.6,3236.4L1323.1,3235.2L1324.6,3234.8L1326.1,3234.5L1327.6,3233.4L1329.1,3233.4L1330.6,3233.7L1332.1,3233.9L1333.6,3234.7L1335.0,3235.1L1336.6,3236.9L1338.1,3240.6L1339.6,3244.9L1341.1,3248.0L1342.5,3251.2L1344.2,3257.1L1345.7,3261.3L1347.2,3265.0L1348.7,3269.5L1350.2,3274.2L1351.7,3279.1L1352.5,3282.4L1353.2,3283.5L1354.7,3288.5L1356.2,3293.0L1357.7,3297.9L1359.2,3302.0L1360.7,3306.1L1362.2,3309.7L1362.5,3310.7L1363.7,3311.7L1365.2,3314.3L1366.7,3315.6L1368.2,3318.6L1369.7,3319.0L1371.2,3319.9L1372.5,3320.2L1374.2,3320.8L1375.7,3321.0L1377.2,3320.7L1378.7,3320.9L1380.2,3321.1L1381.7,3321.1L1382.5,3321.7L1383.2,3322.4L1384.7,3324.4L1386.2,3325.2L1387.7,3326.6L1389.2,3327.0L1390.0,3327.2L1390.7,3326.8L1392.2,3326.3L1393.7,3324.9L1395.2,3322.3L1396.7,3319.2L1397.5,3317.0L1398.2,3314.6L1399.7,3309.0L1401.2,3302.9L1402.7,3296.2L1404.2,3289.9L1405.0,3286.8L1405.7,3284.0L1407.2,3278.8L1408.7,3275.1L1410.2,3271.4L1411.7,3268.4L1412.5,3267.2L1413.2,3265.6L1414.7,3264.3L1416.0,3264.0L1417.7,3266.1L1419.2,3270.0L1420.7,3273.9L1422.2,3277.0L1423.7,3281.5L1424.0,3281.2L1425.2,3284.3L1426.7,3286.1L1428.2,3287.4L1429.7,3287.8L1430.0,3286.4L1431.2,3285.4L1432.7,3282.6L1434.2,3278.6L1435.7,3273.1L1437.2,3267.9L1437.5,3267.2L1438.7,3262.9L1440.2,3257.7L1441.7,3252.2L1443.2,3247.8L1444.7,3242.1L1445.0,3242.6L1446.2,3238.7L1447.7,3233.9L1449.2,3229.6L1450.7,3226.8L1452.2,3222.1L1453.7,3219.6L1455.0,3217.3L1456.7,3214.2L1458.2,3211.7L1459.7,3209.3L1461.2,3207.2L1462.7,3205.2L1464.2,3202.7L1465.7,3201.3L1467.2,3199.7L1467.5,3199.5L1468.7,3197.7L1470.2,3197.0L1471.7,3196.2L1473.2,3195.3L1474.0,3196.0L1474.7,3196.1L1476.2,3196.8L1477.7,3197.8L1479.2,3197.6L1480.7,3199.2L1482.2,3200.5L1482.5,3200.7L1483.7,3202.1L1485.2,3202.7L1486.7,3203.1L1488.2,3204.5L1489.7,3205.8L1491.2,3207.7L1492.5,3209.6L1494.2,3213.7L1495.7,3216.1L1497.2,3220.7L1498.7,3224.6L1500.0,3227.0L1501.7,3229.6L1503.2,3232.2L1504.7,3233.4L1506.2,3234.4L1506.5,3234.5L1507.7,3234.7L1509.2,3233.4L1510.7,3232.5L1512.2,3231.1L1513.7,3228.9L1515.2,3227.3L1516.7,3224.9L1517.5,3224.0L1518.2,3222.8L1519.7,3221.0L1521.2,3217.8L1522.7,3215.6L1524.2,3213.4L1525.7,3211.0L1527.2,3208.8L1528.7,3206.8L1530.0,3206.5L1531.7,3205.1L1533.2,3203.4L1534.7,3202.7L1536.2,3202.1L1537.7,3201.6L1539.2,3200.6L1540.7,3200.0L1542.0,3199.8L1543.7,3200.4L1545.2,3201.1L1546.7,3201.3L1548.2,3202.7L1549.7,3204.3L1551.2,3204.7L1552.7,3206.4L1554.0,3209.0L1555.7,3211.7L1557.2,3215.2L1558.7,3219.0L1560.2,3224.1L1561.7,3229.6L1562.5,3231.6L1563.2,3235.6L1564.7,3242.9L1566.2,3251.7L1567.7,3261.2L1569.2,3271.4L1570.0,3277.0L1570.7,3282.0L1572.2,3293.0L1573.7,3303.9L1575.2,3316.9L1576.7,3330.0L1577.5,3337.5L1578.2,3343.7L1579.7,3358.4L1581.2,3373.4L1582.5,3384.9L1584.2,3397.8L1585.7,3407.7L1587.2,3415.1L1587.5,3417.3L1588.7,3421.5L1590.2,3426.1L1591.7,3428.9L1593.2,3431.5L1593.5,3431.3L1594.7,3432.1L1596.2,3431.2L1597.7,3431.0L1599.2,3429.5L1600.7,3427.9L1602.2,3426.0L1603.7,3423.8L1605.0,3422.5L1606.7,3419.1L1608.2,3416.6L1609.7,3414.3L1611.2,3411.8L1612.7,3408.3L1614.2,3404.3L1615.0,3403.6L1615.7,3400.9L1617.2,3396.6L1618.7,3392.0L1620.2,3388.8L1621.7,3385.6L1623.2,3384.9L1624.0,3383.9L1624.7,3384.6L1626.2,3387.5L1627.7,3391.8L1629.2,3395.5L1630.7,3398.3L1631.0,3400.0L1632.2,3401.2L1633.7,3402.7L1635.2,3403.1L1636.0,3403.6L1636.7,3403.1L1638.2,3402.7L1639.8,3400.6L1641.2,3397.3L1642.8,3395.2L1644.2,3392.9L1645.0,3391.5L1645.8,3390.3L1647.2,3388.1L1648.8,3385.8L1650.2,3383.9L1651.8,3383.2L1652.0,3383.1L1653.2,3382.9L1654.8,3385.1L1656.2,3387.0L1657.8,3388.7L1659.2,3392.2L1660.8,3394.6L1662.2,3397.4L1662.5,3397.9L1663.8,3399.8L1665.2,3402.8L1666.8,3405.1L1668.3,3407.1L1669.8,3410.3L1671.3,3411.6L1672.5,3412.9L1674.3,3415.1L1675.8,3416.6L1677.3,3417.3L1678.8,3417.7L1679.0,3417.5L1680.3,3416.8L1681.8,3415.1L1683.3,3411.1L1684.8,3407.6L1686.0,3402.7L1687.8,3393.2L1689.3,3384.2L1690.8,3373.0L1692.3,3362.7L1692.5,3362.1L1693.8,3354.0L1695.3,3344.2L1696.8,3335.3L1698.3,3327.3L1699.8,3320.2L1700.0,3319.3L1701.3,3313.6L1702.8,3307.4L1704.3,3302.6L1705.8,3298.2L1707.3,3294.6L1707.5,3293.8L1708.8,3291.8L1710.3,3289.0L1711.8,3288.0L1713.3,3287.4L1714.0,3286.9L1714.8,3286.7L1716.3,3287.1L1717.8,3288.6L1719.3,3290.5L1720.8,3293.6L1722.3,3296.3L1722.5,3297.5L1723.8,3299.6L1725.3,3304.4L1726.8,3308.9L1728.3,3313.7L1729.8,3320.6L1731.3,3327.1L1732.5,3331.8L1734.3,3340.8L1735.8,3348.1L1737.3,3356.3L1738.8,3364.8L1740.0,3372.0L1741.8,3383.5L1743.3,3393.9L1744.8,3404.1L1746.3,3416.7L1747.5,3426.8L1749.3,3443.7L1750.8,3459.0L1752.3,3475.1L1753.8,3492.9L1755.0,3506.4L1756.8,3528.5L1758.3,3547.2L1759.8,3565.6L1761.3,3582.4L1762.5,3597.6L1764.3,3617.2L1765.8,3632.7L1767.3,3647.7L1768.8,3661.5L1770.0,3671.7L1771.8,3686.0L1773.3,3696.5L1774.8,3706.2L1775.0,3706.3L1776.3,3711.6L1777.8,3717.5L1779.3,3720.1L1780.8,3722.3L1781.0,3721.7L1782.3,3721.7L1783.8,3718.4L1785.3,3714.3L1786.8,3709.8L1787.5,3706.7L1788.3,3703.7L1789.8,3697.5L1791.3,3688.7L1792.8,3680.5L1794.3,3671.2L1795.0,3667.5L1795.8,3660.9L1797.3,3651.0L1798.8,3639.9L1800.3,3625.9L1801.8,3613.7L1802.5,3607.4L1803.3,3599.2L1804.8,3584.5L1806.3,3568.8L1807.8,3550.9L1809.0,3537.2L1810.8,3513.7L1812.3,3492.1L1813.8,3471.8L1815.0,3456.4L1816.8,3435.3L1818.3,3418.0L1819.8,3403.5L1821.0,3392.2L1822.8,3376.8L1824.3,3364.6L1825.8,3354.3L1827.3,3345.1L1827.5,3344.3L1828.8,3338.2L1830.3,3331.4L1831.8,3326.2L1833.3,3321.5L1834.8,3317.9L1835.0,3316.2L1836.3,3314.4L1837.8,3311.8L1839.3,3309.1L1840.8,3306.4L1842.3,3305.4L1842.5,3305.3L1843.8,3304.8L1845.3,3303.6L1846.8,3302.2L1848.3,3302.3L1849.8,3301.3L1851.0,3301.6L1852.8,3302.5L1854.3,3303.5L1855.8,3305.4L1857.3,3306.8L1858.8,3308.6L1860.0,3310.8L1861.8,3313.6L1863.3,3316.8L1864.8,3320.4L1866.3,3324.8L1867.8,3329.7L1869.3,3334.1L1870.0,3337.4L1870.8,3340.0L1872.3,3346.3L1873.8,3352.2L1875.3,3360.2L1876.8,3367.5L1877.5,3371.9L1878.3,3376.4L1879.8,3384.9L1881.3,3394.0L1882.8,3404.2L1884.3,3414.3L1885.0,3418.0L1885.8,3424.4L1887.3,3434.9L1888.8,3444.5L1890.3,3455.2L1891.8,3463.5L1892.5,3466.5L1893.3,3471.3L1894.8,3478.6L1896.3,3484.2L1897.8,3488.9L1899.3,3491.3L1900.0,3491.6L1900.8,3491.8L1902.3,3490.0L1903.8,3487.4L1905.3,3483.5L1906.8,3479.0L1907.5,3477.0L1908.3,3474.2L1909.8,3468.1L1911.3,3462.3L1912.8,3455.7L1914.3,3449.7L1915.0,3446.9L1915.8,3443.6L1917.3,3439.5L1918.8,3435.3L1920.3,3431.1L1921.8,3427.3L1922.5,3426.8L1923.3,3426.2L1924.8,3424.1L1926.3,3423.1L1927.8,3421.9L1928.5,3421.8L1929.3,3422.8L1930.8,3423.5L1932.3,3425.0L1933.8,3427.8L1935.3,3431.4L1936.0,3432.3L1936.8,3435.3L1938.3,3443.2L1939.8,3452.2L1941.3,3464.3L1942.5,3474.5L1944.3,3496.5L1945.8,3515.5L1947.3,3534.5L1947.5,3536.9L1948.8,3552.9L1950.3,3570.6L1951.8,3589.3L1952.5,3597.5L1953.3,3608.3L1954.8,3630.3L1956.3,3651.4L1957.5,3666.9L1959.3,3689.8L1960.8,3706.6L1962.4,3720.7L1962.5,3721.9L1963.9,3732.1L1965.4,3740.1L1966.9,3746.8L1967.5,3747.1L1968.4,3747.4L1969.9,3745.3L1971.4,3741.1L1972.9,3735.8L1974.4,3730.0L1975.0,3726.7L1975.9,3723.4L1977.4,3716.8L1978.9,3709.2L1980.4,3703.9L1981.0,3701.9L1981.9,3700.1L1983.4,3698.0L1984.9,3697.2L1986.4,3695.9L1987.9,3694.9L1989.4,3692.4L1990.0,3692.1L1990.9,3689.7L1992.4,3684.8L1993.9,3678.1L1995.4,3670.5L1996.0,3667.5L1996.9,3660.2L1998.4,3649.3L1999.9,3635.9L2001.4,3622.1L2002.5,3611.9L2002.9,3609.1L2004.4,3597.3L2005.9,3585.2L2007.4,3575.0L2008.9,3567.6L2009.0,3567.3L2010.4,3562.1L2011.9,3557.8L2013.4,3555.4L2014.9,3554.3L2015.0,3554.8L2016.4,3554.2L2017.9,3556.4L2019.4,3559.8L2020.9,3564.9L2022.4,3571.2L2022.5,3572.6L2023.9,3580.8L2025.4,3591.9L2026.9,3606.4L2028.4,3620.4L2029.0,3626.9L2029.9,3636.0L2031.4,3651.9L2032.9,3668.9L2034.4,3682.3L2035.0,3687.3L2035.9,3692.2L2037.4,3701.7L2038.9,3708.5L2040.4,3713.4L2041.9,3715.9L2042.5,3715.6L2043.4,3715.3L2044.9,3712.6L2046.4,3707.7L2047.9,3700.7L2049.4,3691.4L2050.0,3687.6L2050.9,3680.2L2052.4,3666.6L2053.9,3653.8L2055.0,3647.3L2055.4,3645.1L2056.9,3638.9L2058.4,3636.9L2059.0,3637.0L2059.9,3638.6L2061.4,3644.9L2062.9,3654.4L2064.0,3662.2L2064.4,3664.6L2065.9,3675.7L2067.4,3688.0L2068.9,3697.1L2070.0,3701.1L2070.4,3701.3L2071.9,3700.4L2073.4,3694.0L2074.9,3683.4L2075.0,3682.8L2076.4,3666.3L2077.9,3642.1L2079.0,3622.2L2079.4,3614.2L2080.9,3581.2L2082.4,3548.6L2082.5,3547.7L2083.9,3520.8L2085.4,3497.6L2086.9,3476.2L2087.5,3468.6L2088.4,3459.6L2089.9,3443.8L2091.4,3431.7L2092.5,3425.0L2092.9,3423.5L2094.4,3416.3L2095.9,3411.9L2097.4,3408.4L2098.9,3406.6L2099.5,3406.8L2100.4,3406.9L2101.9,3408.3L2103.4,3411.8L2104.9,3414.8L2106.4,3419.5L2106.5,3419.3L2107.9,3424.7L2109.4,3431.5L2110.9,3440.2L2112.4,3448.6L2113.9,3458.1L2114.0,3459.2L2115.4,3467.7L2116.9,3478.8L2118.4,3489.6L2119.9,3500.2L2121.4,3509.8L2122.5,3517.7L2122.9,3519.8L2124.4,3528.2L2125.9,3534.8L2127.4,3542.5L2128.9,3547.0L2130.0,3550.4L2130.4,3550.8L2131.9,3553.9L2133.4,3555.5L2134.9,3557.5L2136.4,3558.6L2137.9,3559.0L2138.5,3559.4L2139.4,3559.3L2140.9,3559.4L2142.4,3558.0L2143.9,3556.7L2145.4,3553.1L2146.9,3549.0L2147.5,3547.0L2148.4,3542.9L2149.9,3533.5L2151.4,3520.6L2152.9,3507.2L2154.0,3496.9L2154.4,3493.5L2155.9,3477.2L2157.4,3462.4L2158.9,3446.4L2160.0,3437.2L2160.4,3433.4L2161.9,3422.1L2163.4,3411.8L2164.9,3403.8L2166.0,3399.4L2166.4,3398.3L2167.9,3394.5L2169.4,3392.1L2170.9,3392.1L2171.0,3391.8L2172.4,3392.2L2173.9,3395.3L2175.4,3399.2L2176.9,3404.1L2178.4,3410.3L2179.0,3413.2L2179.9,3417.9L2181.4,3426.3L2182.9,3436.2L2184.4,3446.6L2185.9,3458.7L2186.0,3458.9L2187.4,3471.2L2188.9,3484.7L2190.4,3498.7L2191.9,3513.0L2192.5,3518.1L2193.4,3527.4L2194.9,3541.7L2196.4,3554.3L2197.9,3566.7L2199.4,3578.0L2200.9,3588.8L2201.0,3589.5L2202.4,3597.7L2203.9,3604.6L2205.4,3610.0L2206.9,3614.2L2208.4,3617.1L2208.5,3616.5L2209.9,3617.2L2211.4,3614.9L2212.9,3612.7L2214.4,3609.2L2215.9,3603.7L2217.4,3597.5L2217.5,3596.9L2218.9,3590.2L2220.4,3580.7L2221.9,3570.3L2223.4,3558.7L2224.9,3548.3L2225.0,3546.6L2226.4,3535.9L2227.9,3524.0L2229.4,3512.0L2230.9,3500.0L2232.4,3487.5L2232.5,3487.2L2233.9,3475.1L2235.4,3462.8L2236.9,3451.1L2238.4,3439.5L2239.9,3430.0L2240.0,3429.9L2241.4,3421.5L2242.9,3414.3L2244.4,3406.9L2245.9,3401.6L2247.4,3397.5L2247.5,3397.5L2248.9,3393.1L2250.4,3389.9L2251.9,3386.9L2253.4,3383.8L2255.0,3379.7L2256.0,3376.9L2256.5,3375.5L2258.0,3368.9L2259.5,3361.1L2261.0,3353.6L2262.5,3345.4L2263.0,3342.2L2264.0,3336.5L2265.5,3327.9L2267.0,3319.2L2268.5,3311.5L2270.0,3304.8L2270.0,3303.5L2271.5,3298.0L2273.0,3291.0L2274.5,3286.1L2276.0,3280.9L2277.5,3277.5L2277.5,3276.7L2279.0,3274.4L2280.5,3272.5L2282.0,3270.0L2283.5,3268.9L2285.0,3268.0L2286.5,3267.8L2287.5,3266.6L2288.0,3267.6L2289.5,3267.5L2291.0,3268.0L2292.5,3268.8L2294.0,3269.1L2295.5,3269.6L2297.0,3270.1L2298.5,3271.0L2300.0,3270.9L2300.0,3270.8L2301.5,3270.8L2303.0,3268.9L2304.5,3267.6L2306.0,3265.2L2307.5,3261.9L2307.5,3261.9L2309.0,3258.7L2310.5,3255.0L2312.0,3251.0L2313.5,3247.3L2315.0,3242.9L2316.5,3239.4L2317.5,3236.3L2318.0,3235.7L2319.5,3232.1L2321.0,3228.4L2322.5,3226.1L2324.0,3222.7L2325.5,3220.9L2327.0,3217.7L2327.5,3216.5L2328.5,3216.1L2330.0,3213.9L2331.5,3212.7L2333.0,3210.8L2334.5,3208.6L2336.0,3208.6L2337.5,3207.9L2337.5,3208.4L2339.0,3207.6L2340.5,3207.8L2342.0,3207.9L2343.5,3208.2L2345.0,3208.4L2346.5,3208.1L2348.0,3208.2L2349.5,3207.8L2350.0,3208.4L2351.0,3208.0L2352.5,3207.9L2354.0,3206.8L2355.5,3206.7L2357.0,3205.8L2358.5,3204.9L2360.0,3204.4L2361.5,3204.6L2362.5,3204.5L2363.0,3204.8L2364.5,3205.9L2366.0,3207.1L2367.5,3210.7L2369.0,3214.4L2370.0,3216.9L2370.5,3217.7L2372.0,3224.5L2373.5,3231.2L2375.0,3236.9L2376.5,3242.5L2378.0,3246.0L2379.5,3248.8L2380.0,3249.0L2381.0,3249.6L2382.5,3249.3L2384.0,3249.1L2385.5,3247.5L2387.0,3245.6" stroke="#BF00FF" stroke-width="12.5"/>
</svg>
<line x1="1130.6" y1="2464.5" x2="1130.6" y2="3387" stroke="#000" stroke-width="8.6" stroke-dasharray="41 40"/>
<line x1="1227.1" y1="2924.5" x2="1227.1" y2="3845" stroke="#000" stroke-width="8.6" stroke-dasharray="41 40"/>
<line x1="1300.6" y1="3127" x2="1304.6" y2="3237" stroke="#000" stroke-width="8.6" stroke-dasharray="41 40"/>
<line x1="1999.6" y1="3009.5" x2="1999.6" y2="3177" stroke="#000" stroke-width="8.6" stroke-dasharray="41 40"/>
<line x1="2042.1" y1="3584.5" x2="2042.1" y2="3769.5" stroke="#000" stroke-width="8.6" stroke-dasharray="41 40"/>
<line x1="2140.6" y1="3454.5" x2="2140.6" y2="3655" stroke="#000" stroke-width="8.6" stroke-dasharray="41 40"/>
<text x="993.5" y="3477.5" font-size="88">1777</text>
<text x="1278" y="3103" font-size="88">1666</text>
<text x="1243.5" y="3814" font-size="88">1720</text>
<text x="1873" y="2942.5" font-size="88">1239</text>
<text x="1998" y="3831.5" font-size="88">1207</text>
<text x="2131" y="3726.5" font-size="88">1147</text>
</g>
</svg>
</body>
</html>
